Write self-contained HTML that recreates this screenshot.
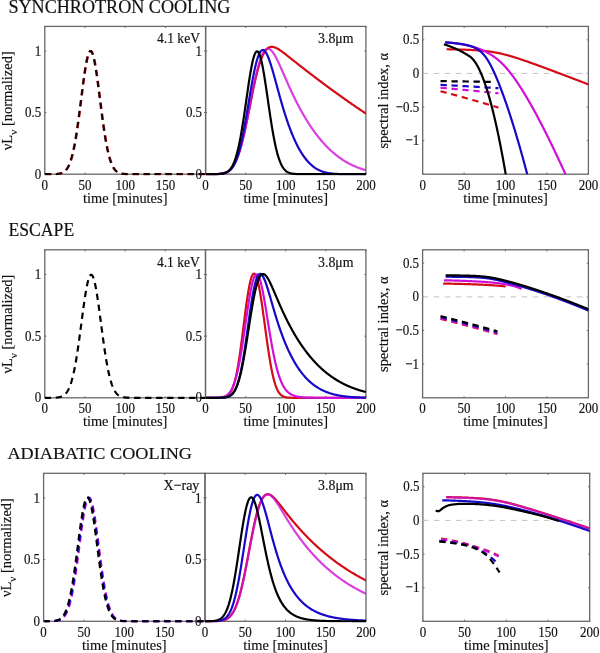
<!DOCTYPE html>
<html><head><meta charset="utf-8"><style>
html,body{margin:0;padding:0;background:#fff;}
svg{display:block;will-change:transform;}
text{font-family:"Liberation Serif", serif;fill:#111;stroke:#111;stroke-width:0.15px;}
</style></head><body>
<svg width="600" height="653" viewBox="0 0 600 653" font-family='"Liberation Serif", serif'>
<rect width="600" height="653" fill="#fff"/>
<text transform="matrix(1.0 0 0 1.11 8.40 12.70)" font-size="16.8" text-anchor="start" textLength="222" lengthAdjust="spacingAndGlyphs">SYNCHROTRON COOLING</text>
<text transform="matrix(1.0 0 0 1.11 8.40 235.80)" font-size="16.8" text-anchor="start" textLength="65.8" lengthAdjust="spacingAndGlyphs">ESCAPE</text>
<text transform="matrix(1.0 0 0 1.05 7.40 459.00)" font-size="16.8" text-anchor="start" textLength="184.6" lengthAdjust="spacingAndGlyphs">ADIABATIC COOLING</text>
<rect x="44.80" y="26.40" width="160.80" height="147.80" fill="none" stroke="#686868" stroke-width="1.3"/>
<rect x="205.60" y="26.40" width="160.30" height="147.80" fill="none" stroke="#686868" stroke-width="1.3"/>
<rect x="422.70" y="26.40" width="165.70" height="147.80" fill="none" stroke="#686868" stroke-width="1.3"/>
<path d="M44.80,174.20 h1.6 M205.60,174.20 h-1.6" stroke="#686868" stroke-width="1"/>
<path d="M44.80,112.62 h1.6 M205.60,112.62 h-1.6" stroke="#686868" stroke-width="1"/>
<path d="M44.80,51.03 h1.6 M205.60,51.03 h-1.6" stroke="#686868" stroke-width="1"/>
<path d="M44.80,26.40 v1.6 M44.80,174.20 v-1.6" stroke="#686868" stroke-width="1"/>
<path d="M85.00,26.40 v1.6 M85.00,174.20 v-1.6" stroke="#686868" stroke-width="1"/>
<path d="M125.20,26.40 v1.6 M125.20,174.20 v-1.6" stroke="#686868" stroke-width="1"/>
<path d="M165.40,26.40 v1.6 M165.40,174.20 v-1.6" stroke="#686868" stroke-width="1"/>
<path d="M205.60,26.40 v1.6 M205.60,174.20 v-1.6" stroke="#686868" stroke-width="1"/>
<text transform="matrix(1.0 0 0 1.17 41.30 178.80)" font-size="13" text-anchor="end" >0</text>
<text transform="matrix(1.0 0 0 1.17 41.30 117.22)" font-size="13" text-anchor="end" >0.5</text>
<text transform="matrix(1.0 0 0 1.17 41.30 55.63)" font-size="13" text-anchor="end" >1</text>
<text transform="matrix(1.0 0 0 1.17 44.80 189.60)" font-size="13" text-anchor="middle" >0</text>
<text transform="matrix(1.0 0 0 1.17 85.00 189.60)" font-size="13" text-anchor="middle" >50</text>
<text transform="matrix(1.0 0 0 1.17 125.20 189.60)" font-size="13" text-anchor="middle" >100</text>
<text transform="matrix(1.0 0 0 1.17 165.40 189.60)" font-size="13" text-anchor="middle" >150</text>
<text x="82.95" y="202.60" font-size="15.2" text-anchor="start" textLength="84.5" lengthAdjust="spacingAndGlyphs">time [minutes]</text>
<clipPath id="c10"><rect x="44.8" y="26.4" width="160.8" height="149.1"/></clipPath>
<g clip-path="url(#c10)">
<path d="M45.20,174.20 L45.60,174.20 L46.01,174.20 L46.41,174.20 L46.81,174.20 L47.21,174.20 L47.61,174.20 L48.02,174.20 L48.42,174.19 L48.82,174.19 L49.22,174.19 L49.62,174.19 L50.03,174.19 L50.43,174.19 L50.83,174.18 L51.23,174.18 L51.63,174.18 L52.04,174.17 L52.44,174.17 L52.84,174.16 L53.24,174.15 L53.64,174.15 L54.05,174.14 L54.45,174.13 L54.85,174.11 L55.25,174.10 L55.65,174.08 L56.06,174.06 L56.46,174.04 L56.86,174.01 L57.26,173.98 L57.66,173.94 L58.07,173.90 L58.47,173.85 L58.87,173.80 L59.27,173.73 L59.67,173.66 L60.08,173.58 L60.48,173.49 L60.88,173.39 L61.28,173.27 L61.68,173.14 L62.09,172.99 L62.49,172.83 L62.89,172.64 L63.29,172.44 L63.69,172.20 L64.10,171.95 L64.50,171.66 L64.90,171.34 L65.30,170.99 L65.70,170.61 L66.11,170.18 L66.51,169.71 L66.91,169.19 L67.31,168.63 L67.71,168.01 L68.12,167.34 L68.52,166.61 L68.92,165.81 L69.32,164.95 L69.72,164.02 L70.13,163.01 L70.53,161.93 L70.93,160.77 L71.33,159.52 L71.73,158.19 L72.14,156.77 L72.54,155.26 L72.94,153.65 L73.34,151.94 L73.74,150.14 L74.15,148.24 L74.55,146.24 L74.95,144.14 L75.35,141.94 L75.75,139.65 L76.16,137.25 L76.56,134.77 L76.96,132.19 L77.36,129.52 L77.76,126.77 L78.17,123.94 L78.57,121.04 L78.97,118.08 L79.37,115.05 L79.77,111.98 L80.18,108.87 L80.58,105.72 L80.98,102.55 L81.38,99.37 L81.78,96.19 L82.19,93.02 L82.59,89.88 L82.99,86.77 L83.39,83.72 L83.79,80.72 L84.20,77.81 L84.60,74.98 L85.00,72.25 L85.40,69.64 L85.80,67.15 L86.21,64.81 L86.61,62.61 L87.01,60.58 L87.41,58.72 L87.81,57.04 L88.22,55.55 L88.62,54.26 L89.02,53.18 L89.42,52.30 L89.82,51.65 L90.23,51.21 L90.63,50.99 L91.03,51.00 L91.43,51.23 L91.83,51.68 L92.24,52.35 L92.64,53.24 L93.04,54.34 L93.44,55.64 L93.84,57.14 L94.25,58.83 L94.65,60.71 L95.05,62.75 L95.45,64.96 L95.85,67.31 L96.26,69.81 L96.66,72.43 L97.06,75.16 L97.46,78.00 L97.86,80.92 L98.27,83.92 L98.67,86.98 L99.07,90.09 L99.47,93.23 L99.87,96.40 L100.28,99.58 L100.68,102.76 L101.08,105.93 L101.48,109.07 L101.88,112.19 L102.29,115.26 L102.69,118.28 L103.09,121.24 L103.49,124.14 L103.89,126.96 L104.30,129.70 L104.70,132.36 L105.10,134.94 L105.50,137.42 L105.90,139.80 L106.31,142.09 L106.71,144.29 L107.11,146.38 L107.51,148.37 L107.91,150.27 L108.32,152.06 L108.72,153.76 L109.12,155.36 L109.52,156.87 L109.92,158.28 L110.33,159.61 L110.73,160.85 L111.13,162.01 L111.53,163.08 L111.93,164.08 L112.34,165.01 L112.74,165.87 L113.14,166.66 L113.54,167.39 L113.94,168.06 L114.35,168.67 L114.75,169.23 L115.15,169.74 L115.55,170.21 L115.95,170.63 L116.36,171.02 L116.76,171.37 L117.16,171.68 L117.56,171.97 L117.96,172.22 L118.37,172.45 L118.77,172.66 L119.17,172.84 L119.57,173.00 L119.97,173.15 L120.38,173.28 L120.78,173.40 L121.18,173.50 L121.58,173.59 L121.98,173.67 L122.39,173.74 L122.79,173.80 L123.19,173.85 L123.59,173.90 L123.99,173.94 L124.40,173.98 L124.80,174.01 L125.20,174.04 L125.60,174.06 L126.00,174.08 L126.41,174.10 L126.81,174.11 L127.21,174.13 L127.61,174.14 L128.01,174.15 L128.42,174.16 L128.82,174.16 L129.22,174.17 L129.62,174.17 L130.02,174.18 L130.43,174.18 L130.83,174.18 L131.23,174.19 L131.63,174.19 L132.03,174.19 L132.44,174.19 L132.84,174.19 L133.24,174.19 L133.64,174.20 L134.04,174.20 L134.45,174.20 L134.85,174.20 L135.25,174.20 L135.65,174.20 L136.05,174.20 L136.46,174.20 L136.86,174.20 L137.26,174.20 L137.66,174.20 L138.06,174.20 L138.47,174.20 L138.87,174.20 L139.27,174.20 L139.67,174.20 L140.07,174.20 L140.48,174.20 L140.88,174.20 L141.28,174.20 L141.68,174.20 L142.08,174.20 L142.49,174.20 L142.89,174.20 L143.29,174.20 L143.69,174.20 L144.09,174.20 L144.50,174.20 L144.90,174.20 L145.30,174.20 L145.70,174.20 L146.10,174.20 L146.51,174.20 L146.91,174.20 L147.31,174.20 L147.71,174.20 L148.11,174.20 L148.52,174.20 L148.92,174.20 L149.32,174.20 L149.72,174.20 L150.12,174.20 L150.53,174.20 L150.93,174.20 L151.33,174.20 L151.73,174.20 L152.13,174.20 L152.54,174.20 L152.94,174.20 L153.34,174.20 L153.74,174.20 L154.14,174.20 L154.55,174.20 L154.95,174.20 L155.35,174.20 L155.75,174.20 L156.15,174.20 L156.56,174.20 L156.96,174.20 L157.36,174.20 L157.76,174.20 L158.16,174.20 L158.57,174.20 L158.97,174.20 L159.37,174.20 L159.77,174.20 L160.17,174.20 L160.58,174.20 L160.98,174.20 L161.38,174.20 L161.78,174.20 L162.18,174.20 L162.59,174.20 L162.99,174.20 L163.39,174.20 L163.79,174.20 L164.19,174.20 L164.60,174.20 L165.00,174.20 L165.40,174.20 L165.80,174.20 L166.20,174.20 L166.61,174.20 L167.01,174.20 L167.41,174.20 L167.81,174.20 L168.21,174.20 L168.62,174.20 L169.02,174.20 L169.42,174.20 L169.82,174.20 L170.22,174.20 L170.63,174.20 L171.03,174.20 L171.43,174.20 L171.83,174.20 L172.23,174.20 L172.64,174.20 L173.04,174.20 L173.44,174.20 L173.84,174.20 L174.24,174.20 L174.65,174.20 L175.05,174.20 L175.45,174.20 L175.85,174.20 L176.25,174.20 L176.66,174.20 L177.06,174.20 L177.46,174.20 L177.86,174.20 L178.26,174.20 L178.67,174.20 L179.07,174.20 L179.47,174.20 L179.87,174.20 L180.27,174.20 L180.68,174.20 L181.08,174.20 L181.48,174.20 L181.88,174.20 L182.28,174.20 L182.69,174.20 L183.09,174.20 L183.49,174.20 L183.89,174.20 L184.29,174.20 L184.70,174.20 L185.10,174.20 L185.50,174.20 L185.90,174.20 L186.30,174.20 L186.71,174.20 L187.11,174.20 L187.51,174.20 L187.91,174.20 L188.31,174.20 L188.72,174.20 L189.12,174.20 L189.52,174.20 L189.92,174.20 L190.32,174.20 L190.73,174.20 L191.13,174.20 L191.53,174.20 L191.93,174.20 L192.33,174.20 L192.74,174.20 L193.14,174.20 L193.54,174.20 L193.94,174.20 L194.34,174.20 L194.75,174.20 L195.15,174.20 L195.55,174.20 L195.95,174.20 L196.35,174.20 L196.76,174.20 L197.16,174.20 L197.56,174.20 L197.96,174.20 L198.36,174.20 L198.77,174.20 L199.17,174.20 L199.57,174.20 L199.97,174.20 L200.37,174.20 L200.78,174.20 L201.18,174.20 L201.58,174.20 L201.98,174.20 L202.38,174.20 L202.79,174.20 L203.19,174.20 L203.59,174.20 L203.99,174.20 L204.39,174.20 L204.80,174.20 L205.20,174.20 L205.60,174.20 L206.00,174.20" fill="none" stroke="#d40c16" stroke-width="2.2" stroke-dasharray="6.3,4.7" stroke-linejoin="round" stroke-dashoffset="0"/>
<path d="M44.80,174.20 L45.20,174.20 L45.60,174.20 L46.01,174.20 L46.41,174.20 L46.81,174.20 L47.21,174.20 L47.61,174.20 L48.02,174.19 L48.42,174.19 L48.82,174.19 L49.22,174.19 L49.62,174.19 L50.03,174.19 L50.43,174.18 L50.83,174.18 L51.23,174.18 L51.63,174.17 L52.04,174.17 L52.44,174.16 L52.84,174.15 L53.24,174.15 L53.64,174.14 L54.05,174.13 L54.45,174.11 L54.85,174.10 L55.25,174.08 L55.65,174.06 L56.06,174.04 L56.46,174.01 L56.86,173.98 L57.26,173.94 L57.66,173.90 L58.07,173.85 L58.47,173.80 L58.87,173.73 L59.27,173.66 L59.67,173.58 L60.08,173.49 L60.48,173.39 L60.88,173.27 L61.28,173.14 L61.68,172.99 L62.09,172.83 L62.49,172.64 L62.89,172.44 L63.29,172.20 L63.69,171.95 L64.10,171.66 L64.50,171.34 L64.90,170.99 L65.30,170.61 L65.70,170.18 L66.11,169.71 L66.51,169.19 L66.91,168.63 L67.31,168.01 L67.71,167.34 L68.12,166.61 L68.52,165.81 L68.92,164.95 L69.32,164.02 L69.72,163.01 L70.13,161.93 L70.53,160.77 L70.93,159.52 L71.33,158.19 L71.73,156.77 L72.14,155.26 L72.54,153.65 L72.94,151.94 L73.34,150.14 L73.74,148.24 L74.15,146.24 L74.55,144.14 L74.95,141.94 L75.35,139.65 L75.75,137.25 L76.16,134.77 L76.56,132.19 L76.96,129.52 L77.36,126.77 L77.76,123.94 L78.17,121.04 L78.57,118.08 L78.97,115.05 L79.37,111.98 L79.77,108.87 L80.18,105.72 L80.58,102.55 L80.98,99.37 L81.38,96.19 L81.78,93.02 L82.19,89.88 L82.59,86.77 L82.99,83.72 L83.39,80.72 L83.79,77.81 L84.20,74.98 L84.60,72.25 L85.00,69.64 L85.40,67.15 L85.80,64.81 L86.21,62.61 L86.61,60.58 L87.01,58.72 L87.41,57.04 L87.81,55.55 L88.22,54.26 L88.62,53.18 L89.02,52.30 L89.42,51.65 L89.82,51.21 L90.23,50.99 L90.63,51.00 L91.03,51.23 L91.43,51.68 L91.83,52.35 L92.24,53.24 L92.64,54.34 L93.04,55.64 L93.44,57.14 L93.84,58.83 L94.25,60.71 L94.65,62.75 L95.05,64.96 L95.45,67.31 L95.85,69.81 L96.26,72.43 L96.66,75.16 L97.06,78.00 L97.46,80.92 L97.86,83.92 L98.27,86.98 L98.67,90.09 L99.07,93.23 L99.47,96.40 L99.87,99.58 L100.28,102.76 L100.68,105.93 L101.08,109.07 L101.48,112.19 L101.88,115.26 L102.29,118.28 L102.69,121.24 L103.09,124.14 L103.49,126.96 L103.89,129.70 L104.30,132.36 L104.70,134.94 L105.10,137.42 L105.50,139.80 L105.90,142.09 L106.31,144.29 L106.71,146.38 L107.11,148.37 L107.51,150.27 L107.91,152.06 L108.32,153.76 L108.72,155.36 L109.12,156.87 L109.52,158.28 L109.92,159.61 L110.33,160.85 L110.73,162.01 L111.13,163.08 L111.53,164.08 L111.93,165.01 L112.34,165.87 L112.74,166.66 L113.14,167.39 L113.54,168.06 L113.94,168.67 L114.35,169.23 L114.75,169.74 L115.15,170.21 L115.55,170.63 L115.95,171.02 L116.36,171.37 L116.76,171.68 L117.16,171.97 L117.56,172.22 L117.96,172.45 L118.37,172.66 L118.77,172.84 L119.17,173.00 L119.57,173.15 L119.97,173.28 L120.38,173.40 L120.78,173.50 L121.18,173.59 L121.58,173.67 L121.98,173.74 L122.39,173.80 L122.79,173.85 L123.19,173.90 L123.59,173.94 L123.99,173.98 L124.40,174.01 L124.80,174.04 L125.20,174.06 L125.60,174.08 L126.00,174.10 L126.41,174.11 L126.81,174.13 L127.21,174.14 L127.61,174.15 L128.01,174.16 L128.42,174.16 L128.82,174.17 L129.22,174.17 L129.62,174.18 L130.02,174.18 L130.43,174.18 L130.83,174.19 L131.23,174.19 L131.63,174.19 L132.03,174.19 L132.44,174.19 L132.84,174.19 L133.24,174.20 L133.64,174.20 L134.04,174.20 L134.45,174.20 L134.85,174.20 L135.25,174.20 L135.65,174.20 L136.05,174.20 L136.46,174.20 L136.86,174.20 L137.26,174.20 L137.66,174.20 L138.06,174.20 L138.47,174.20 L138.87,174.20 L139.27,174.20 L139.67,174.20 L140.07,174.20 L140.48,174.20 L140.88,174.20 L141.28,174.20 L141.68,174.20 L142.08,174.20 L142.49,174.20 L142.89,174.20 L143.29,174.20 L143.69,174.20 L144.09,174.20 L144.50,174.20 L144.90,174.20 L145.30,174.20 L145.70,174.20 L146.10,174.20 L146.51,174.20 L146.91,174.20 L147.31,174.20 L147.71,174.20 L148.11,174.20 L148.52,174.20 L148.92,174.20 L149.32,174.20 L149.72,174.20 L150.12,174.20 L150.53,174.20 L150.93,174.20 L151.33,174.20 L151.73,174.20 L152.13,174.20 L152.54,174.20 L152.94,174.20 L153.34,174.20 L153.74,174.20 L154.14,174.20 L154.55,174.20 L154.95,174.20 L155.35,174.20 L155.75,174.20 L156.15,174.20 L156.56,174.20 L156.96,174.20 L157.36,174.20 L157.76,174.20 L158.16,174.20 L158.57,174.20 L158.97,174.20 L159.37,174.20 L159.77,174.20 L160.17,174.20 L160.58,174.20 L160.98,174.20 L161.38,174.20 L161.78,174.20 L162.18,174.20 L162.59,174.20 L162.99,174.20 L163.39,174.20 L163.79,174.20 L164.19,174.20 L164.60,174.20 L165.00,174.20 L165.40,174.20 L165.80,174.20 L166.20,174.20 L166.61,174.20 L167.01,174.20 L167.41,174.20 L167.81,174.20 L168.21,174.20 L168.62,174.20 L169.02,174.20 L169.42,174.20 L169.82,174.20 L170.22,174.20 L170.63,174.20 L171.03,174.20 L171.43,174.20 L171.83,174.20 L172.23,174.20 L172.64,174.20 L173.04,174.20 L173.44,174.20 L173.84,174.20 L174.24,174.20 L174.65,174.20 L175.05,174.20 L175.45,174.20 L175.85,174.20 L176.25,174.20 L176.66,174.20 L177.06,174.20 L177.46,174.20 L177.86,174.20 L178.26,174.20 L178.67,174.20 L179.07,174.20 L179.47,174.20 L179.87,174.20 L180.27,174.20 L180.68,174.20 L181.08,174.20 L181.48,174.20 L181.88,174.20 L182.28,174.20 L182.69,174.20 L183.09,174.20 L183.49,174.20 L183.89,174.20 L184.29,174.20 L184.70,174.20 L185.10,174.20 L185.50,174.20 L185.90,174.20 L186.30,174.20 L186.71,174.20 L187.11,174.20 L187.51,174.20 L187.91,174.20 L188.31,174.20 L188.72,174.20 L189.12,174.20 L189.52,174.20 L189.92,174.20 L190.32,174.20 L190.73,174.20 L191.13,174.20 L191.53,174.20 L191.93,174.20 L192.33,174.20 L192.74,174.20 L193.14,174.20 L193.54,174.20 L193.94,174.20 L194.34,174.20 L194.75,174.20 L195.15,174.20 L195.55,174.20 L195.95,174.20 L196.35,174.20 L196.76,174.20 L197.16,174.20 L197.56,174.20 L197.96,174.20 L198.36,174.20 L198.77,174.20 L199.17,174.20 L199.57,174.20 L199.97,174.20 L200.37,174.20 L200.78,174.20 L201.18,174.20 L201.58,174.20 L201.98,174.20 L202.38,174.20 L202.79,174.20 L203.19,174.20 L203.59,174.20 L203.99,174.20 L204.39,174.20 L204.80,174.20 L205.20,174.20 L205.60,174.20" fill="none" stroke="#000000" stroke-width="2.2" stroke-dasharray="6.3,4.7" stroke-linejoin="round" stroke-dashoffset="0" stroke-opacity="0.85"/>
</g>
<path d="M205.60,174.20 h1.6 M365.90,174.20 h-1.6" stroke="#686868" stroke-width="1"/>
<path d="M205.60,112.62 h1.6 M365.90,112.62 h-1.6" stroke="#686868" stroke-width="1"/>
<path d="M205.60,51.03 h1.6 M365.90,51.03 h-1.6" stroke="#686868" stroke-width="1"/>
<path d="M205.60,26.40 v1.6 M205.60,174.20 v-1.6" stroke="#686868" stroke-width="1"/>
<path d="M245.67,26.40 v1.6 M245.67,174.20 v-1.6" stroke="#686868" stroke-width="1"/>
<path d="M285.75,26.40 v1.6 M285.75,174.20 v-1.6" stroke="#686868" stroke-width="1"/>
<path d="M325.82,26.40 v1.6 M325.82,174.20 v-1.6" stroke="#686868" stroke-width="1"/>
<path d="M365.90,26.40 v1.6 M365.90,174.20 v-1.6" stroke="#686868" stroke-width="1"/>
<text transform="matrix(1.0 0 0 1.17 202.10 178.80)" font-size="13" text-anchor="end" >0</text>
<text transform="matrix(1.0 0 0 1.17 202.10 117.22)" font-size="13" text-anchor="end" >0.5</text>
<text transform="matrix(1.0 0 0 1.17 202.10 55.63)" font-size="13" text-anchor="end" >1</text>
<text transform="matrix(1.0 0 0 1.17 205.60 189.60)" font-size="13" text-anchor="middle" >0</text>
<text transform="matrix(1.0 0 0 1.17 245.67 189.60)" font-size="13" text-anchor="middle" >50</text>
<text transform="matrix(1.0 0 0 1.17 285.75 189.60)" font-size="13" text-anchor="middle" >100</text>
<text transform="matrix(1.0 0 0 1.17 325.82 189.60)" font-size="13" text-anchor="middle" >150</text>
<text transform="matrix(1.0 0 0 1.17 365.90 189.60)" font-size="13" text-anchor="middle" >200</text>
<text x="243.50" y="202.60" font-size="15.2" text-anchor="start" textLength="84.5" lengthAdjust="spacingAndGlyphs">time [minutes]</text>
<clipPath id="c20"><rect x="205.6" y="26.4" width="160.29999999999998" height="149.1"/></clipPath>
<g clip-path="url(#c20)">
<path d="M205.60,174.20 L206.00,174.20 L206.40,174.20 L206.80,174.20 L207.20,174.19 L207.60,174.19 L208.00,174.19 L208.41,174.19 L208.81,174.19 L209.21,174.19 L209.61,174.19 L210.01,174.18 L210.41,174.18 L210.81,174.18 L211.21,174.18 L211.61,174.17 L212.01,174.17 L212.41,174.16 L212.81,174.16 L213.21,174.15 L213.61,174.14 L214.02,174.14 L214.42,174.13 L214.82,174.12 L215.22,174.11 L215.62,174.09 L216.02,174.08 L216.42,174.06 L216.82,174.04 L217.22,174.02 L217.62,174.00 L218.02,173.98 L218.42,173.95 L218.82,173.92 L219.23,173.88 L219.63,173.84 L220.03,173.80 L220.43,173.75 L220.83,173.70 L221.23,173.64 L221.63,173.58 L222.03,173.51 L222.43,173.43 L222.83,173.35 L223.23,173.25 L223.63,173.15 L224.03,173.04 L224.44,172.92 L224.84,172.79 L225.24,172.64 L225.64,172.49 L226.04,172.32 L226.44,172.13 L226.84,171.93 L227.24,171.71 L227.64,171.48 L228.04,171.23 L228.44,170.95 L228.84,170.66 L229.24,170.35 L229.64,170.01 L230.05,169.65 L230.45,169.26 L230.85,168.84 L231.25,168.40 L231.65,167.93 L232.05,167.43 L232.45,166.90 L232.85,166.33 L233.25,165.73 L233.65,165.10 L234.05,164.43 L234.45,163.72 L234.85,162.97 L235.26,162.18 L235.66,161.36 L236.06,160.49 L236.46,159.58 L236.86,158.62 L237.26,157.62 L237.66,156.58 L238.06,155.50 L238.46,154.37 L238.86,153.19 L239.26,151.97 L239.66,150.70 L240.06,149.38 L240.47,148.03 L240.87,146.62 L241.27,145.18 L241.67,143.68 L242.07,142.15 L242.47,140.57 L242.87,138.96 L243.27,137.30 L243.67,135.61 L244.07,133.88 L244.47,132.11 L244.87,130.31 L245.27,128.48 L245.67,126.62 L246.08,124.74 L246.48,122.83 L246.88,120.89 L247.28,118.94 L247.68,116.97 L248.08,114.98 L248.48,112.99 L248.88,110.98 L249.28,108.97 L249.68,106.96 L250.08,104.94 L250.48,102.93 L250.88,100.92 L251.29,98.92 L251.69,96.93 L252.09,94.96 L252.49,93.00 L252.89,91.07 L253.29,89.15 L253.69,87.26 L254.09,85.40 L254.49,83.57 L254.89,81.77 L255.29,80.00 L255.69,78.28 L256.09,76.59 L256.50,74.94 L256.90,73.33 L257.30,71.77 L257.70,70.25 L258.10,68.78 L258.50,67.36 L258.90,65.98 L259.30,64.66 L259.70,63.38 L260.10,62.16 L260.50,60.98 L260.90,59.86 L261.30,58.79 L261.70,57.77 L262.11,56.80 L262.51,55.89 L262.91,55.02 L263.31,54.20 L263.71,53.44 L264.11,52.72 L264.51,52.05 L264.91,51.42 L265.31,50.84 L265.71,50.31 L266.11,49.82 L266.51,49.37 L266.91,48.97 L267.32,48.60 L267.72,48.27 L268.12,47.98 L268.52,47.73 L268.92,47.51 L269.32,47.32 L269.72,47.17 L270.12,47.04 L270.52,46.95 L270.92,46.88 L271.32,46.84 L271.72,46.83 L272.12,46.83 L272.53,46.86 L272.93,46.92 L273.33,46.99 L273.73,47.08 L274.13,47.19 L274.53,47.32 L274.93,47.46 L275.33,47.61 L275.73,47.78 L276.13,47.97 L276.53,48.16 L276.93,48.37 L277.33,48.58 L277.74,48.81 L278.14,49.04 L278.54,49.28 L278.94,49.53 L279.34,49.79 L279.74,50.05 L280.14,50.32 L280.54,50.59 L280.94,50.87 L281.34,51.16 L281.74,51.44 L282.14,51.73 L282.54,52.03 L282.94,52.32 L283.35,52.62 L283.75,52.93 L284.15,53.23 L284.55,53.54 L284.95,53.84 L285.35,54.15 L285.75,54.46 L286.15,54.78 L286.55,55.09 L286.95,55.40 L287.35,55.72 L287.75,56.03 L288.15,56.35 L288.56,56.66 L288.96,56.98 L289.36,57.30 L289.76,57.61 L290.16,57.93 L290.56,58.25 L290.96,58.57 L291.36,58.88 L291.76,59.20 L292.16,59.52 L292.56,59.84 L292.96,60.15 L293.36,60.47 L293.76,60.79 L294.17,61.10 L294.57,61.42 L294.97,61.74 L295.37,62.06 L295.77,62.37 L296.17,62.69 L296.57,63.00 L296.97,63.32 L297.37,63.64 L297.77,63.95 L298.17,64.27 L298.57,64.58 L298.97,64.90 L299.38,65.21 L299.78,65.52 L300.18,65.84 L300.58,66.15 L300.98,66.47 L301.38,66.78 L301.78,67.09 L302.18,67.40 L302.58,67.72 L302.98,68.03 L303.38,68.34 L303.78,68.65 L304.18,68.96 L304.59,69.28 L304.99,69.59 L305.39,69.90 L305.79,70.21 L306.19,70.52 L306.59,70.83 L306.99,71.14 L307.39,71.45 L307.79,71.76 L308.19,72.06 L308.59,72.37 L308.99,72.68 L309.39,72.99 L309.79,73.30 L310.20,73.60 L310.60,73.91 L311.00,74.22 L311.40,74.52 L311.80,74.83 L312.20,75.14 L312.60,75.44 L313.00,75.75 L313.40,76.05 L313.80,76.36 L314.20,76.66 L314.60,76.97 L315.00,77.27 L315.41,77.58 L315.81,77.88 L316.21,78.18 L316.61,78.49 L317.01,78.79 L317.41,79.09 L317.81,79.39 L318.21,79.70 L318.61,80.00 L319.01,80.30 L319.41,80.60 L319.81,80.90 L320.21,81.20 L320.62,81.50 L321.02,81.80 L321.42,82.10 L321.82,82.40 L322.22,82.70 L322.62,83.00 L323.02,83.30 L323.42,83.60 L323.82,83.90 L324.22,84.19 L324.62,84.49 L325.02,84.79 L325.42,85.09 L325.82,85.38 L326.23,85.68 L326.63,85.97 L327.03,86.27 L327.43,86.57 L327.83,86.86 L328.23,87.16 L328.63,87.45 L329.03,87.75 L329.43,88.04 L329.83,88.33 L330.23,88.63 L330.63,88.92 L331.03,89.21 L331.44,89.51 L331.84,89.80 L332.24,90.09 L332.64,90.38 L333.04,90.67 L333.44,90.97 L333.84,91.26 L334.24,91.55 L334.64,91.84 L335.04,92.13 L335.44,92.42 L335.84,92.71 L336.24,93.00 L336.65,93.29 L337.05,93.57 L337.45,93.86 L337.85,94.15 L338.25,94.44 L338.65,94.73 L339.05,95.01 L339.45,95.30 L339.85,95.59 L340.25,95.87 L340.65,96.16 L341.05,96.44 L341.45,96.73 L341.86,97.02 L342.26,97.30 L342.66,97.58 L343.06,97.87 L343.46,98.15 L343.86,98.44 L344.26,98.72 L344.66,99.00 L345.06,99.28 L345.46,99.57 L345.86,99.85 L346.26,100.13 L346.66,100.41 L347.06,100.69 L347.47,100.97 L347.87,101.25 L348.27,101.54 L348.67,101.81 L349.07,102.09 L349.47,102.37 L349.87,102.65 L350.27,102.93 L350.67,103.21 L351.07,103.49 L351.47,103.77 L351.87,104.04 L352.27,104.32 L352.68,104.60 L353.08,104.87 L353.48,105.15 L353.88,105.43 L354.28,105.70 L354.68,105.98 L355.08,106.25 L355.48,106.53 L355.88,106.80 L356.28,107.07 L356.68,107.35 L357.08,107.62 L357.48,107.89 L357.88,108.17 L358.29,108.44 L358.69,108.71 L359.09,108.98 L359.49,109.25 L359.89,109.52 L360.29,109.80 L360.69,110.07 L361.09,110.34 L361.49,110.61 L361.89,110.87 L362.29,111.14 L362.69,111.41 L363.09,111.68 L363.50,111.95 L363.90,112.22 L364.30,112.48 L364.70,112.75 L365.10,113.02 L365.50,113.28 L365.90,113.55" fill="none" stroke="#d40c16" stroke-width="2.2" stroke-linejoin="round" />
<path d="M205.60,174.20 L206.00,174.20 L206.40,174.19 L206.80,174.19 L207.20,174.19 L207.60,174.19 L208.00,174.19 L208.41,174.19 L208.81,174.19 L209.21,174.18 L209.61,174.18 L210.01,174.18 L210.41,174.18 L210.81,174.17 L211.21,174.17 L211.61,174.17 L212.01,174.16 L212.41,174.15 L212.81,174.15 L213.21,174.14 L213.61,174.13 L214.02,174.12 L214.42,174.11 L214.82,174.10 L215.22,174.09 L215.62,174.08 L216.02,174.06 L216.42,174.04 L216.82,174.02 L217.22,174.00 L217.62,173.98 L218.02,173.95 L218.42,173.92 L218.82,173.89 L219.23,173.85 L219.63,173.81 L220.03,173.77 L220.43,173.72 L220.83,173.66 L221.23,173.60 L221.63,173.54 L222.03,173.47 L222.43,173.39 L222.83,173.30 L223.23,173.21 L223.63,173.10 L224.03,172.99 L224.44,172.87 L224.84,172.74 L225.24,172.59 L225.64,172.44 L226.04,172.27 L226.44,172.08 L226.84,171.88 L227.24,171.67 L227.64,171.44 L228.04,171.19 L228.44,170.92 L228.84,170.63 L229.24,170.32 L229.64,169.99 L230.05,169.63 L230.45,169.25 L230.85,168.85 L231.25,168.41 L231.65,167.95 L232.05,167.46 L232.45,166.94 L232.85,166.39 L233.25,165.80 L233.65,165.18 L234.05,164.53 L234.45,163.84 L234.85,163.11 L235.26,162.34 L235.66,161.53 L236.06,160.68 L236.46,159.79 L236.86,158.86 L237.26,157.88 L237.66,156.86 L238.06,155.79 L238.46,154.68 L238.86,153.53 L239.26,152.32 L239.66,151.07 L240.06,149.78 L240.47,148.44 L240.87,147.05 L241.27,145.61 L241.67,144.14 L242.07,142.61 L242.47,141.04 L242.87,139.43 L243.27,137.77 L243.67,136.08 L244.07,134.34 L244.47,132.57 L244.87,130.75 L245.27,128.91 L245.67,127.03 L246.08,125.11 L246.48,123.17 L246.88,121.20 L247.28,119.21 L247.68,117.20 L248.08,115.16 L248.48,113.11 L248.88,111.05 L249.28,108.97 L249.68,106.89 L250.08,104.80 L250.48,102.71 L250.88,100.63 L251.29,98.54 L251.69,96.47 L252.09,94.40 L252.49,92.35 L252.89,90.32 L253.29,88.31 L253.69,86.33 L254.09,84.37 L254.49,82.44 L254.89,80.54 L255.29,78.68 L255.69,76.86 L256.09,75.08 L256.50,73.35 L256.90,71.66 L257.30,70.02 L257.70,68.43 L258.10,66.90 L258.50,65.42 L258.90,64.00 L259.30,62.64 L259.70,61.33 L260.10,60.09 L260.50,58.91 L260.90,57.80 L261.30,56.74 L261.70,55.76 L262.11,54.84 L262.51,53.98 L262.91,53.19 L263.31,52.46 L263.71,51.80 L264.11,51.21 L264.51,50.68 L264.91,50.21 L265.31,49.81 L265.71,49.47 L266.11,49.19 L266.51,48.97 L266.91,48.81 L267.32,48.70 L267.72,48.66 L268.12,48.67 L268.52,48.73 L268.92,48.84 L269.32,49.01 L269.72,49.22 L270.12,49.48 L270.52,49.78 L270.92,50.13 L271.32,50.52 L271.72,50.95 L272.12,51.41 L272.53,51.92 L272.93,52.45 L273.33,53.02 L273.73,53.62 L274.13,54.25 L274.53,54.91 L274.93,55.59 L275.33,56.30 L275.73,57.02 L276.13,57.77 L276.53,58.54 L276.93,59.33 L277.33,60.13 L277.74,60.95 L278.14,61.78 L278.54,62.63 L278.94,63.49 L279.34,64.35 L279.74,65.23 L280.14,66.11 L280.54,67.01 L280.94,67.90 L281.34,68.81 L281.74,69.71 L282.14,70.63 L282.54,71.54 L282.94,72.46 L283.35,73.37 L283.75,74.29 L284.15,75.21 L284.55,76.13 L284.95,77.05 L285.35,77.97 L285.75,78.88 L286.15,79.80 L286.55,80.71 L286.95,81.62 L287.35,82.52 L287.75,83.43 L288.15,84.32 L288.56,85.22 L288.96,86.11 L289.36,87.00 L289.76,87.88 L290.16,88.76 L290.56,89.63 L290.96,90.50 L291.36,91.36 L291.76,92.22 L292.16,93.07 L292.56,93.92 L292.96,94.76 L293.36,95.60 L293.76,96.43 L294.17,97.26 L294.57,98.08 L294.97,98.89 L295.37,99.70 L295.77,100.51 L296.17,101.30 L296.57,102.10 L296.97,102.88 L297.37,103.67 L297.77,104.44 L298.17,105.21 L298.57,105.97 L298.97,106.73 L299.38,107.49 L299.78,108.23 L300.18,108.97 L300.58,109.71 L300.98,110.44 L301.38,111.17 L301.78,111.88 L302.18,112.60 L302.58,113.31 L302.98,114.01 L303.38,114.71 L303.78,115.40 L304.18,116.08 L304.59,116.76 L304.99,117.44 L305.39,118.11 L305.79,118.77 L306.19,119.43 L306.59,120.08 L306.99,120.73 L307.39,121.37 L307.79,122.01 L308.19,122.64 L308.59,123.27 L308.99,123.89 L309.39,124.51 L309.79,125.12 L310.20,125.73 L310.60,126.33 L311.00,126.92 L311.40,127.52 L311.80,128.10 L312.20,128.68 L312.60,129.26 L313.00,129.83 L313.40,130.39 L313.80,130.96 L314.20,131.51 L314.60,132.06 L315.00,132.61 L315.41,133.15 L315.81,133.69 L316.21,134.22 L316.61,134.74 L317.01,135.27 L317.41,135.78 L317.81,136.30 L318.21,136.80 L318.61,137.31 L319.01,137.81 L319.41,138.30 L319.81,138.79 L320.21,139.27 L320.62,139.75 L321.02,140.23 L321.42,140.70 L321.82,141.17 L322.22,141.63 L322.62,142.09 L323.02,142.54 L323.42,142.99 L323.82,143.43 L324.22,143.87 L324.62,144.31 L325.02,144.74 L325.42,145.17 L325.82,145.59 L326.23,146.01 L326.63,146.42 L327.03,146.83 L327.43,147.24 L327.83,147.64 L328.23,148.04 L328.63,148.43 L329.03,148.82 L329.43,149.21 L329.83,149.59 L330.23,149.97 L330.63,150.34 L331.03,150.71 L331.44,151.07 L331.84,151.44 L332.24,151.79 L332.64,152.15 L333.04,152.50 L333.44,152.84 L333.84,153.19 L334.24,153.52 L334.64,153.86 L335.04,154.19 L335.44,154.52 L335.84,154.84 L336.24,155.16 L336.65,155.48 L337.05,155.79 L337.45,156.10 L337.85,156.40 L338.25,156.70 L338.65,157.00 L339.05,157.30 L339.45,157.59 L339.85,157.87 L340.25,158.16 L340.65,158.44 L341.05,158.72 L341.45,158.99 L341.86,159.26 L342.26,159.53 L342.66,159.79 L343.06,160.05 L343.46,160.31 L343.86,160.56 L344.26,160.81 L344.66,161.06 L345.06,161.31 L345.46,161.55 L345.86,161.78 L346.26,162.02 L346.66,162.25 L347.06,162.48 L347.47,162.70 L347.87,162.93 L348.27,163.15 L348.67,163.36 L349.07,163.58 L349.47,163.79 L349.87,163.99 L350.27,164.20 L350.67,164.40 L351.07,164.60 L351.47,164.80 L351.87,164.99 L352.27,165.18 L352.68,165.37 L353.08,165.55 L353.48,165.73 L353.88,165.91 L354.28,166.09 L354.68,166.27 L355.08,166.44 L355.48,166.61 L355.88,166.77 L356.28,166.94 L356.68,167.10 L357.08,167.26 L357.48,167.41 L357.88,167.57 L358.29,167.72 L358.69,167.87 L359.09,168.01 L359.49,168.16 L359.89,168.30 L360.29,168.44 L360.69,168.57 L361.09,168.71 L361.49,168.84 L361.89,168.97 L362.29,169.10 L362.69,169.22 L363.09,169.35 L363.50,169.47 L363.90,169.59 L364.30,169.70 L364.70,169.82 L365.10,169.93 L365.50,170.04 L365.90,170.15" fill="none" stroke="#d010d8" stroke-width="2.2" stroke-linejoin="round" stroke-opacity="0.8"/>
<path d="M205.60,174.20 L206.00,174.20 L206.40,174.20 L206.80,174.20 L207.20,174.20 L207.60,174.20 L208.00,174.20 L208.41,174.20 L208.81,174.20 L209.21,174.20 L209.61,174.19 L210.01,174.19 L210.41,174.19 L210.81,174.19 L211.21,174.19 L211.61,174.19 L212.01,174.19 L212.41,174.18 L212.81,174.18 L213.21,174.18 L213.61,174.17 L214.02,174.17 L214.42,174.16 L214.82,174.16 L215.22,174.15 L215.62,174.14 L216.02,174.13 L216.42,174.12 L216.82,174.11 L217.22,174.10 L217.62,174.09 L218.02,174.07 L218.42,174.05 L218.82,174.03 L219.23,174.01 L219.63,173.98 L220.03,173.95 L220.43,173.91 L220.83,173.88 L221.23,173.83 L221.63,173.78 L222.03,173.73 L222.43,173.67 L222.83,173.61 L223.23,173.53 L223.63,173.45 L224.03,173.36 L224.44,173.26 L224.84,173.15 L225.24,173.02 L225.64,172.89 L226.04,172.74 L226.44,172.58 L226.84,172.40 L227.24,172.21 L227.64,171.99 L228.04,171.76 L228.44,171.51 L228.84,171.23 L229.24,170.93 L229.64,170.60 L230.05,170.25 L230.45,169.87 L230.85,169.46 L231.25,169.02 L231.65,168.54 L232.05,168.03 L232.45,167.48 L232.85,166.89 L233.25,166.26 L233.65,165.59 L234.05,164.87 L234.45,164.11 L234.85,163.30 L235.26,162.43 L235.66,161.52 L236.06,160.56 L236.46,159.54 L236.86,158.47 L237.26,157.34 L237.66,156.15 L238.06,154.90 L238.46,153.60 L238.86,152.23 L239.26,150.80 L239.66,149.32 L240.06,147.77 L240.47,146.16 L240.87,144.49 L241.27,142.77 L241.67,140.98 L242.07,139.14 L242.47,137.24 L242.87,135.28 L243.27,133.28 L243.67,131.22 L244.07,129.11 L244.47,126.96 L244.87,124.77 L245.27,122.54 L245.67,120.27 L246.08,117.97 L246.48,115.64 L246.88,113.28 L247.28,110.91 L247.68,108.52 L248.08,106.12 L248.48,103.71 L248.88,101.30 L249.28,98.90 L249.68,96.50 L250.08,94.11 L250.48,91.75 L250.88,89.40 L251.29,87.09 L251.69,84.81 L252.09,82.57 L252.49,80.37 L252.89,78.22 L253.29,76.12 L253.69,74.09 L254.09,72.11 L254.49,70.20 L254.89,68.36 L255.29,66.59 L255.69,64.90 L256.09,63.29 L256.50,61.77 L256.90,60.33 L257.30,58.98 L257.70,57.72 L258.10,56.56 L258.50,55.49 L258.90,54.51 L259.30,53.63 L259.70,52.85 L260.10,52.16 L260.50,51.57 L260.90,51.08 L261.30,50.68 L261.70,50.38 L262.11,50.17 L262.51,50.06 L262.91,50.04 L263.31,50.11 L263.71,50.26 L264.11,50.50 L264.51,50.83 L264.91,51.23 L265.31,51.71 L265.71,52.27 L266.11,52.90 L266.51,53.60 L266.91,54.36 L267.32,55.19 L267.72,56.08 L268.12,57.02 L268.52,58.02 L268.92,59.07 L269.32,60.16 L269.72,61.30 L270.12,62.48 L270.52,63.70 L270.92,64.95 L271.32,66.24 L271.72,67.55 L272.12,68.90 L272.53,70.26 L272.93,71.65 L273.33,73.05 L273.73,74.47 L274.13,75.90 L274.53,77.35 L274.93,78.80 L275.33,80.27 L275.73,81.73 L276.13,83.21 L276.53,84.68 L276.93,86.15 L277.33,87.63 L277.74,89.10 L278.14,90.56 L278.54,92.03 L278.94,93.48 L279.34,94.93 L279.74,96.37 L280.14,97.80 L280.54,99.22 L280.94,100.63 L281.34,102.03 L281.74,103.41 L282.14,104.79 L282.54,106.15 L282.94,107.49 L283.35,108.83 L283.75,110.15 L284.15,111.45 L284.55,112.74 L284.95,114.01 L285.35,115.27 L285.75,116.51 L286.15,117.74 L286.55,118.95 L286.95,120.15 L287.35,121.33 L287.75,122.49 L288.15,123.64 L288.56,124.77 L288.96,125.88 L289.36,126.98 L289.76,128.06 L290.16,129.13 L290.56,130.18 L290.96,131.21 L291.36,132.23 L291.76,133.23 L292.16,134.22 L292.56,135.19 L292.96,136.14 L293.36,137.08 L293.76,138.00 L294.17,138.91 L294.57,139.80 L294.97,140.68 L295.37,141.54 L295.77,142.39 L296.17,143.22 L296.57,144.04 L296.97,144.84 L297.37,145.63 L297.77,146.41 L298.17,147.16 L298.57,147.91 L298.97,148.64 L299.38,149.36 L299.78,150.06 L300.18,150.75 L300.58,151.43 L300.98,152.09 L301.38,152.74 L301.78,153.37 L302.18,154.00 L302.58,154.61 L302.98,155.20 L303.38,155.79 L303.78,156.36 L304.18,156.92 L304.59,157.47 L304.99,158.00 L305.39,158.53 L305.79,159.04 L306.19,159.54 L306.59,160.02 L306.99,160.50 L307.39,160.96 L307.79,161.42 L308.19,161.86 L308.59,162.29 L308.99,162.71 L309.39,163.12 L309.79,163.52 L310.20,163.91 L310.60,164.29 L311.00,164.66 L311.40,165.01 L311.80,165.36 L312.20,165.70 L312.60,166.03 L313.00,166.35 L313.40,166.66 L313.80,166.96 L314.20,167.26 L314.60,167.54 L315.00,167.82 L315.41,168.08 L315.81,168.34 L316.21,168.59 L316.61,168.83 L317.01,169.07 L317.41,169.30 L317.81,169.51 L318.21,169.73 L318.61,169.93 L319.01,170.13 L319.41,170.32 L319.81,170.50 L320.21,170.68 L320.62,170.85 L321.02,171.01 L321.42,171.17 L321.82,171.32 L322.22,171.47 L322.62,171.61 L323.02,171.74 L323.42,171.87 L323.82,171.99 L324.22,172.11 L324.62,172.22 L325.02,172.33 L325.42,172.43 L325.82,172.53 L326.23,172.63 L326.63,172.72 L327.03,172.80 L327.43,172.88 L327.83,172.96 L328.23,173.04 L328.63,173.11 L329.03,173.17 L329.43,173.24 L329.83,173.30 L330.23,173.36 L330.63,173.41 L331.03,173.46 L331.44,173.51 L331.84,173.55 L332.24,173.60 L332.64,173.64 L333.04,173.68 L333.44,173.71 L333.84,173.75 L334.24,173.78 L334.64,173.81 L335.04,173.84 L335.44,173.86 L335.84,173.89 L336.24,173.91 L336.65,173.93 L337.05,173.95 L337.45,173.97 L337.85,173.99 L338.25,174.01 L338.65,174.02 L339.05,174.04 L339.45,174.05 L339.85,174.06 L340.25,174.07 L340.65,174.08 L341.05,174.09 L341.45,174.10 L341.86,174.11 L342.26,174.12 L342.66,174.13 L343.06,174.13 L343.46,174.14 L343.86,174.14 L344.26,174.15 L344.66,174.15 L345.06,174.16 L345.46,174.16 L345.86,174.17 L346.26,174.17 L346.66,174.17 L347.06,174.18 L347.47,174.18 L347.87,174.18 L348.27,174.18 L348.67,174.18 L349.07,174.19 L349.47,174.19 L349.87,174.19 L350.27,174.19 L350.67,174.19 L351.07,174.19 L351.47,174.19 L351.87,174.19 L352.27,174.19 L352.68,174.19 L353.08,174.20 L353.48,174.20 L353.88,174.20 L354.28,174.20 L354.68,174.20 L355.08,174.20 L355.48,174.20 L355.88,174.20 L356.28,174.20 L356.68,174.20 L357.08,174.20 L357.48,174.20 L357.88,174.20 L358.29,174.20 L358.69,174.20 L359.09,174.20 L359.49,174.20 L359.89,174.20 L360.29,174.20 L360.69,174.20 L361.09,174.20 L361.49,174.20 L361.89,174.20 L362.29,174.20 L362.69,174.20 L363.09,174.20 L363.50,174.20 L363.90,174.20 L364.30,174.20 L364.70,174.20 L365.10,174.20 L365.50,174.20 L365.90,174.20" fill="none" stroke="#1808c8" stroke-width="2.2" stroke-linejoin="round" />
<path d="M205.60,174.20 L206.00,174.20 L206.40,174.20 L206.80,174.20 L207.20,174.20 L207.60,174.20 L208.00,174.20 L208.41,174.20 L208.81,174.20 L209.21,174.20 L209.61,174.20 L210.01,174.19 L210.41,174.19 L210.81,174.19 L211.21,174.19 L211.61,174.19 L212.01,174.19 L212.41,174.19 L212.81,174.18 L213.21,174.18 L213.61,174.18 L214.02,174.17 L214.42,174.17 L214.82,174.16 L215.22,174.15 L215.62,174.15 L216.02,174.14 L216.42,174.13 L216.82,174.12 L217.22,174.10 L217.62,174.09 L218.02,174.07 L218.42,174.05 L218.82,174.03 L219.23,174.00 L219.63,173.97 L220.03,173.94 L220.43,173.90 L220.83,173.86 L221.23,173.81 L221.63,173.76 L222.03,173.70 L222.43,173.63 L222.83,173.55 L223.23,173.47 L223.63,173.37 L224.03,173.26 L224.44,173.14 L224.84,173.01 L225.24,172.86 L225.64,172.70 L226.04,172.52 L226.44,172.32 L226.84,172.10 L227.24,171.86 L227.64,171.60 L228.04,171.31 L228.44,170.99 L228.84,170.64 L229.24,170.26 L229.64,169.85 L230.05,169.40 L230.45,168.91 L230.85,168.38 L231.25,167.81 L231.65,167.19 L232.05,166.52 L232.45,165.81 L232.85,165.04 L233.25,164.21 L233.65,163.33 L234.05,162.39 L234.45,161.38 L234.85,160.31 L235.26,159.17 L235.66,157.96 L236.06,156.68 L236.46,155.33 L236.86,153.90 L237.26,152.40 L237.66,150.82 L238.06,149.17 L238.46,147.43 L238.86,145.62 L239.26,143.73 L239.66,141.76 L240.06,139.72 L240.47,137.60 L240.87,135.41 L241.27,133.14 L241.67,130.81 L242.07,128.41 L242.47,125.95 L242.87,123.43 L243.27,120.86 L243.67,118.23 L244.07,115.57 L244.47,112.86 L244.87,110.12 L245.27,107.35 L245.67,104.57 L246.08,101.77 L246.48,98.97 L246.88,96.17 L247.28,93.38 L247.68,90.62 L248.08,87.88 L248.48,85.17 L248.88,82.52 L249.28,79.92 L249.68,77.38 L250.08,74.91 L250.48,72.52 L250.88,70.23 L251.29,68.03 L251.69,65.94 L252.09,63.96 L252.49,62.10 L252.89,60.37 L253.29,58.78 L253.69,57.33 L254.09,56.03 L254.49,54.88 L254.89,53.88 L255.29,53.05 L255.69,52.38 L256.09,51.88 L256.50,51.54 L256.90,51.38 L257.30,51.39 L257.70,51.57 L258.10,51.91 L258.50,52.43 L258.90,53.11 L259.30,53.96 L259.70,54.96 L260.10,56.13 L260.50,57.44 L260.90,58.89 L261.30,60.49 L261.70,62.22 L262.11,64.08 L262.51,66.05 L262.91,68.14 L263.31,70.33 L263.71,72.61 L264.11,74.99 L264.51,77.44 L264.91,79.96 L265.31,82.55 L265.71,85.18 L266.11,87.87 L266.51,90.58 L266.91,93.33 L267.32,96.09 L267.72,98.86 L268.12,101.64 L268.52,104.41 L268.92,107.16 L269.32,109.90 L269.72,112.62 L270.12,115.30 L270.52,117.94 L270.92,120.54 L271.32,123.09 L271.72,125.59 L272.12,128.03 L272.53,130.41 L272.93,132.72 L273.33,134.97 L273.73,137.15 L274.13,139.26 L274.53,141.29 L274.93,143.25 L275.33,145.14 L275.73,146.94 L276.13,148.68 L276.53,150.33 L276.93,151.91 L277.33,153.42 L277.74,154.85 L278.14,156.21 L278.54,157.49 L278.94,158.71 L279.34,159.86 L279.74,160.94 L280.14,161.96 L280.54,162.92 L280.94,163.81 L281.34,164.65 L281.74,165.44 L282.14,166.17 L282.54,166.85 L282.94,167.48 L283.35,168.07 L283.75,168.61 L284.15,169.12 L284.55,169.58 L284.95,170.01 L285.35,170.41 L285.75,170.77 L286.15,171.10 L286.55,171.40 L286.95,171.68 L287.35,171.94 L287.75,172.17 L288.15,172.38 L288.56,172.57 L288.96,172.74 L289.36,172.90 L289.76,173.04 L290.16,173.17 L290.56,173.28 L290.96,173.39 L291.36,173.48 L291.76,173.56 L292.16,173.64 L292.56,173.70 L292.96,173.76 L293.36,173.81 L293.76,173.86 L294.17,173.90 L294.57,173.94 L294.97,173.97 L295.37,174.00 L295.77,174.03 L296.17,174.05 L296.57,174.07 L296.97,174.09 L297.37,174.10 L297.77,174.12 L298.17,174.13 L298.57,174.14 L298.97,174.15 L299.38,174.15 L299.78,174.16 L300.18,174.17 L300.58,174.17 L300.98,174.17 L301.38,174.18 L301.78,174.18 L302.18,174.18 L302.58,174.19 L302.98,174.19 L303.38,174.19 L303.78,174.19 L304.18,174.19 L304.59,174.19 L304.99,174.20 L305.39,174.20 L305.79,174.20 L306.19,174.20 L306.59,174.20 L306.99,174.20 L307.39,174.20 L307.79,174.20 L308.19,174.20 L308.59,174.20 L308.99,174.20 L309.39,174.20 L309.79,174.20 L310.20,174.20 L310.60,174.20 L311.00,174.20 L311.40,174.20 L311.80,174.20 L312.20,174.20 L312.60,174.20 L313.00,174.20 L313.40,174.20 L313.80,174.20 L314.20,174.20 L314.60,174.20 L315.00,174.20 L315.41,174.20 L315.81,174.20 L316.21,174.20 L316.61,174.20 L317.01,174.20 L317.41,174.20 L317.81,174.20 L318.21,174.20 L318.61,174.20 L319.01,174.20 L319.41,174.20 L319.81,174.20 L320.21,174.20 L320.62,174.20 L321.02,174.20 L321.42,174.20 L321.82,174.20 L322.22,174.20 L322.62,174.20 L323.02,174.20 L323.42,174.20 L323.82,174.20 L324.22,174.20 L324.62,174.20 L325.02,174.20 L325.42,174.20 L325.82,174.20 L326.23,174.20 L326.63,174.20 L327.03,174.20 L327.43,174.20 L327.83,174.20 L328.23,174.20 L328.63,174.20 L329.03,174.20 L329.43,174.20 L329.83,174.20 L330.23,174.20 L330.63,174.20 L331.03,174.20 L331.44,174.20 L331.84,174.20 L332.24,174.20 L332.64,174.20 L333.04,174.20 L333.44,174.20 L333.84,174.20 L334.24,174.20 L334.64,174.20 L335.04,174.20 L335.44,174.20 L335.84,174.20 L336.24,174.20 L336.65,174.20 L337.05,174.20 L337.45,174.20 L337.85,174.20 L338.25,174.20 L338.65,174.20 L339.05,174.20 L339.45,174.20 L339.85,174.20 L340.25,174.20 L340.65,174.20 L341.05,174.20 L341.45,174.20 L341.86,174.20 L342.26,174.20 L342.66,174.20 L343.06,174.20 L343.46,174.20 L343.86,174.20 L344.26,174.20 L344.66,174.20 L345.06,174.20 L345.46,174.20 L345.86,174.20 L346.26,174.20 L346.66,174.20 L347.06,174.20 L347.47,174.20 L347.87,174.20 L348.27,174.20 L348.67,174.20 L349.07,174.20 L349.47,174.20 L349.87,174.20 L350.27,174.20 L350.67,174.20 L351.07,174.20 L351.47,174.20 L351.87,174.20 L352.27,174.20 L352.68,174.20 L353.08,174.20 L353.48,174.20 L353.88,174.20 L354.28,174.20 L354.68,174.20 L355.08,174.20 L355.48,174.20 L355.88,174.20 L356.28,174.20 L356.68,174.20 L357.08,174.20 L357.48,174.20 L357.88,174.20 L358.29,174.20 L358.69,174.20 L359.09,174.20 L359.49,174.20 L359.89,174.20 L360.29,174.20 L360.69,174.20 L361.09,174.20 L361.49,174.20 L361.89,174.20 L362.29,174.20 L362.69,174.20 L363.09,174.20 L363.50,174.20 L363.90,174.20 L364.30,174.20 L364.70,174.20 L365.10,174.20 L365.50,174.20 L365.90,174.20" fill="none" stroke="#000000" stroke-width="2.2" stroke-linejoin="round" />
</g>
<path d="M422.70,140.61 h1.6 M588.40,140.61 h-1.6" stroke="#686868" stroke-width="1"/>
<path d="M422.70,107.02 h1.6 M588.40,107.02 h-1.6" stroke="#686868" stroke-width="1"/>
<path d="M422.70,73.43 h1.6 M588.40,73.43 h-1.6" stroke="#686868" stroke-width="1"/>
<path d="M422.70,39.84 h1.6 M588.40,39.84 h-1.6" stroke="#686868" stroke-width="1"/>
<path d="M422.70,26.40 v1.6 M422.70,174.20 v-1.6" stroke="#686868" stroke-width="1"/>
<path d="M464.12,26.40 v1.6 M464.12,174.20 v-1.6" stroke="#686868" stroke-width="1"/>
<path d="M505.55,26.40 v1.6 M505.55,174.20 v-1.6" stroke="#686868" stroke-width="1"/>
<path d="M546.98,26.40 v1.6 M546.98,174.20 v-1.6" stroke="#686868" stroke-width="1"/>
<path d="M588.40,26.40 v1.6 M588.40,174.20 v-1.6" stroke="#686868" stroke-width="1"/>
<text transform="matrix(1.0 0 0 1.17 419.20 145.21)" font-size="13" text-anchor="end" >−1</text>
<text transform="matrix(1.0 0 0 1.17 419.20 111.62)" font-size="13" text-anchor="end" >−0.5</text>
<text transform="matrix(1.0 0 0 1.17 419.20 78.03)" font-size="13" text-anchor="end" >0</text>
<text transform="matrix(1.0 0 0 1.17 419.20 44.44)" font-size="13" text-anchor="end" >0.5</text>
<text transform="matrix(1.0 0 0 1.17 422.70 189.60)" font-size="13" text-anchor="middle" >0</text>
<text transform="matrix(1.0 0 0 1.17 464.12 189.60)" font-size="13" text-anchor="middle" >50</text>
<text transform="matrix(1.0 0 0 1.17 505.55 189.60)" font-size="13" text-anchor="middle" >100</text>
<text transform="matrix(1.0 0 0 1.17 546.98 189.60)" font-size="13" text-anchor="middle" >150</text>
<text transform="matrix(1.0 0 0 1.17 588.40 189.60)" font-size="13" text-anchor="middle" >200</text>
<text x="463.30" y="202.60" font-size="15.2" text-anchor="start" textLength="84.5" lengthAdjust="spacingAndGlyphs">time [minutes]</text>
<path d="M422.70,73.43 H588.40" stroke="#c2c2c2" stroke-width="1" stroke-dasharray="5.6,5.4"/>
<clipPath id="c30"><rect x="422.7" y="26.4" width="165.7" height="147.79999999999998"/></clipPath>
<g clip-path="url(#c30)">
<path d="M440.51,81.15 L440.77,81.16 L441.03,81.16 L441.29,81.16 L441.55,81.16 L441.80,81.17 L442.06,81.17 L442.32,81.17 L442.58,81.18 L442.84,81.18 L443.09,81.18 L443.35,81.19 L443.61,81.19 L443.87,81.19 L444.13,81.19 L444.38,81.20 L444.64,81.20 L444.90,81.20 L445.16,81.21 L445.42,81.21 L445.68,81.21 L445.93,81.22 L446.19,81.22 L446.45,81.22 L446.71,81.23 L446.97,81.23 L447.22,81.23 L447.48,81.23 L447.74,81.24 L448.00,81.24 L448.26,81.24 L448.51,81.25 L448.77,81.25 L449.03,81.25 L449.29,81.26 L449.55,81.26 L449.81,81.26 L450.06,81.27 L450.32,81.27 L450.58,81.27 L450.84,81.28 L451.10,81.28 L451.35,81.28 L451.61,81.29 L451.87,81.29 L452.13,81.29 L452.39,81.30 L452.64,81.30 L452.90,81.30 L453.16,81.31 L453.42,81.31 L453.68,81.31 L453.94,81.32 L454.19,81.32 L454.45,81.33 L454.71,81.33 L454.97,81.33 L455.23,81.34 L455.48,81.34 L455.74,81.34 L456.00,81.35 L456.26,81.35 L456.52,81.35 L456.77,81.36 L457.03,81.36 L457.29,81.36 L457.55,81.37 L457.81,81.37 L458.07,81.38 L458.32,81.38 L458.58,81.38 L458.84,81.39 L459.10,81.39 L459.36,81.39 L459.61,81.40 L459.87,81.40 L460.13,81.40 L460.39,81.41 L460.65,81.41 L460.90,81.42 L461.16,81.42 L461.42,81.42 L461.68,81.43 L461.94,81.43 L462.20,81.44 L462.45,81.44 L462.71,81.44 L462.97,81.45 L463.23,81.45 L463.49,81.45 L463.74,81.46 L464.00,81.46 L464.26,81.47 L464.52,81.47 L464.78,81.47 L465.03,81.48 L465.29,81.48 L465.55,81.49 L465.81,81.49 L466.07,81.49 L466.33,81.50 L466.58,81.50 L466.84,81.51 L467.10,81.51 L467.36,81.51 L467.62,81.52 L467.87,81.52 L468.13,81.53 L468.39,81.53 L468.65,81.53 L468.91,81.54 L469.16,81.54 L469.42,81.55 L469.68,81.55 L469.94,81.55 L470.20,81.56 L470.46,81.56 L470.71,81.57 L470.97,81.57 L471.23,81.58 L471.49,81.58 L471.75,81.58 L472.00,81.59 L472.26,81.59 L472.52,81.60 L472.78,81.60 L473.04,81.61 L473.29,81.61 L473.55,81.61 L473.81,81.62 L474.07,81.62 L474.33,81.63 L474.59,81.63 L474.84,81.64 L475.10,81.64 L475.36,81.65 L475.62,81.65 L475.88,81.65 L476.13,81.66 L476.39,81.66 L476.65,81.67 L476.91,81.67 L477.17,81.68 L477.42,81.68 L477.68,81.69 L477.94,81.69 L478.20,81.70 L478.46,81.70 L478.72,81.71 L478.97,81.71 L479.23,81.71 L479.49,81.72 L479.75,81.72 L480.01,81.73 L480.26,81.73 L480.52,81.74 L480.78,81.74 L481.04,81.75 L481.30,81.75 L481.55,81.76 L481.81,81.76 L482.07,81.77 L482.33,81.77 L482.59,81.78 L482.85,81.78 L483.10,81.79 L483.36,81.79 L483.62,81.80 L483.88,81.80 L484.14,81.81 L484.39,81.81 L484.65,81.82 L484.91,81.82 L485.17,81.83 L485.43,81.83 L485.68,81.84 L485.94,81.84 L486.20,81.85 L486.46,81.85 L486.72,81.86 L486.98,81.86 L487.23,81.87 L487.49,81.87 L487.75,81.88 L488.01,81.88 L488.27,81.89 L488.52,81.89 L488.78,81.90 L489.04,81.90 L489.30,81.91 L489.56,81.91 L489.81,81.92 L490.07,81.92 L490.33,81.93 L490.59,81.93 L490.85,81.94 L491.11,81.94 L491.36,81.95 L491.62,81.95 L491.88,81.96" fill="none" stroke="#000000" stroke-width="2.2" stroke-dasharray="6.3,4.7" stroke-linejoin="round" />
<path d="M440.51,84.85 L440.80,84.86 L441.10,84.88 L441.39,84.89 L441.68,84.91 L441.97,84.92 L442.26,84.94 L442.55,84.95 L442.84,84.97 L443.14,84.98 L443.43,85.00 L443.72,85.01 L444.01,85.03 L444.30,85.04 L444.59,85.06 L444.88,85.07 L445.18,85.09 L445.47,85.10 L445.76,85.12 L446.05,85.13 L446.34,85.15 L446.63,85.16 L446.92,85.18 L447.22,85.19 L447.51,85.21 L447.80,85.22 L448.09,85.24 L448.38,85.25 L448.67,85.27 L448.96,85.28 L449.26,85.30 L449.55,85.31 L449.84,85.33 L450.13,85.34 L450.42,85.36 L450.71,85.38 L451.00,85.39 L451.30,85.41 L451.59,85.42 L451.88,85.44 L452.17,85.45 L452.46,85.47 L452.75,85.48 L453.04,85.50 L453.34,85.52 L453.63,85.53 L453.92,85.55 L454.21,85.56 L454.50,85.58 L454.79,85.59 L455.08,85.61 L455.38,85.63 L455.67,85.64 L455.96,85.66 L456.25,85.67 L456.54,85.69 L456.83,85.71 L457.12,85.72 L457.42,85.74 L457.71,85.75 L458.00,85.77 L458.29,85.78 L458.58,85.80 L458.87,85.82 L459.16,85.83 L459.46,85.85 L459.75,85.87 L460.04,85.88 L460.33,85.90 L460.62,85.91 L460.91,85.93 L461.20,85.95 L461.50,85.96 L461.79,85.98 L462.08,86.00 L462.37,86.01 L462.66,86.03 L462.95,86.04 L463.24,86.06 L463.54,86.08 L463.83,86.09 L464.12,86.11 L464.41,86.13 L464.70,86.14 L464.99,86.16 L465.28,86.18 L465.58,86.19 L465.87,86.21 L466.16,86.23 L466.45,86.24 L466.74,86.26 L467.03,86.28 L467.32,86.29 L467.62,86.31 L467.91,86.33 L468.20,86.34 L468.49,86.36 L468.78,86.38 L469.07,86.39 L469.36,86.41 L469.66,86.43 L469.95,86.44 L470.24,86.46 L470.53,86.48 L470.82,86.49 L471.11,86.51 L471.40,86.53 L471.70,86.54 L471.99,86.56 L472.28,86.58 L472.57,86.60 L472.86,86.61 L473.15,86.63 L473.44,86.65 L473.74,86.66 L474.03,86.68 L474.32,86.70 L474.61,86.72 L474.90,86.73 L475.19,86.75 L475.48,86.77 L475.78,86.78 L476.07,86.80 L476.36,86.82 L476.65,86.84 L476.94,86.85 L477.23,86.87 L477.52,86.89 L477.82,86.91 L478.11,86.92 L478.40,86.94 L478.69,86.96 L478.98,86.98 L479.27,86.99 L479.56,87.01 L479.86,87.03 L480.15,87.05 L480.44,87.07 L480.73,87.08 L481.02,87.10 L481.31,87.12 L481.60,87.14 L481.90,87.15 L482.19,87.17 L482.48,87.19 L482.77,87.21 L483.06,87.23 L483.35,87.24 L483.64,87.26 L483.94,87.28 L484.23,87.30 L484.52,87.32 L484.81,87.33 L485.10,87.35 L485.39,87.37 L485.68,87.39 L485.98,87.41 L486.27,87.42 L486.56,87.44 L486.85,87.46 L487.14,87.48 L487.43,87.50 L487.72,87.52 L488.02,87.53 L488.31,87.55 L488.60,87.57 L488.89,87.59 L489.18,87.61 L489.47,87.63 L489.76,87.64 L490.06,87.66 L490.35,87.68 L490.64,87.70 L490.93,87.72 L491.22,87.74 L491.51,87.76 L491.80,87.77 L492.10,87.79 L492.39,87.81 L492.68,87.83 L492.97,87.85 L493.26,87.87 L493.55,87.89 L493.84,87.90 L494.14,87.92 L494.43,87.94 L494.72,87.96 L495.01,87.98 L495.30,88.00 L495.59,88.02 L495.88,88.04 L496.18,88.06 L496.47,88.07 L496.76,88.09 L497.05,88.11 L497.34,88.13 L497.63,88.15 L497.92,88.17 L498.22,88.19 L498.51,88.21" fill="none" stroke="#1808c8" stroke-width="2.2" stroke-dasharray="6.3,4.7" stroke-linejoin="round" />
<path d="M440.51,87.74 L440.80,87.76 L441.10,87.79 L441.39,87.81 L441.68,87.84 L441.97,87.86 L442.26,87.89 L442.55,87.92 L442.84,87.94 L443.14,87.97 L443.43,87.99 L443.72,88.02 L444.01,88.04 L444.30,88.07 L444.59,88.10 L444.88,88.12 L445.18,88.15 L445.47,88.17 L445.76,88.20 L446.05,88.23 L446.34,88.25 L446.63,88.28 L446.92,88.30 L447.22,88.33 L447.51,88.36 L447.80,88.38 L448.09,88.41 L448.38,88.43 L448.67,88.46 L448.96,88.49 L449.26,88.51 L449.55,88.54 L449.84,88.56 L450.13,88.59 L450.42,88.62 L450.71,88.64 L451.00,88.67 L451.30,88.70 L451.59,88.72 L451.88,88.75 L452.17,88.78 L452.46,88.80 L452.75,88.83 L453.04,88.86 L453.34,88.88 L453.63,88.91 L453.92,88.94 L454.21,88.96 L454.50,88.99 L454.79,89.02 L455.08,89.04 L455.38,89.07 L455.67,89.10 L455.96,89.12 L456.25,89.15 L456.54,89.18 L456.83,89.20 L457.12,89.23 L457.42,89.26 L457.71,89.28 L458.00,89.31 L458.29,89.34 L458.58,89.37 L458.87,89.39 L459.16,89.42 L459.46,89.45 L459.75,89.47 L460.04,89.50 L460.33,89.53 L460.62,89.55 L460.91,89.58 L461.20,89.61 L461.50,89.64 L461.79,89.66 L462.08,89.69 L462.37,89.72 L462.66,89.75 L462.95,89.77 L463.24,89.80 L463.54,89.83 L463.83,89.86 L464.12,89.88 L464.41,89.91 L464.70,89.94 L464.99,89.97 L465.28,89.99 L465.58,90.02 L465.87,90.05 L466.16,90.08 L466.45,90.10 L466.74,90.13 L467.03,90.16 L467.32,90.19 L467.62,90.22 L467.91,90.24 L468.20,90.27 L468.49,90.30 L468.78,90.33 L469.07,90.35 L469.36,90.38 L469.66,90.41 L469.95,90.44 L470.24,90.47 L470.53,90.49 L470.82,90.52 L471.11,90.55 L471.40,90.58 L471.70,90.61 L471.99,90.64 L472.28,90.66 L472.57,90.69 L472.86,90.72 L473.15,90.75 L473.44,90.78 L473.74,90.81 L474.03,90.83 L474.32,90.86 L474.61,90.89 L474.90,90.92 L475.19,90.95 L475.48,90.98 L475.78,91.00 L476.07,91.03 L476.36,91.06 L476.65,91.09 L476.94,91.12 L477.23,91.15 L477.52,91.18 L477.82,91.21 L478.11,91.23 L478.40,91.26 L478.69,91.29 L478.98,91.32 L479.27,91.35 L479.56,91.38 L479.86,91.41 L480.15,91.44 L480.44,91.47 L480.73,91.49 L481.02,91.52 L481.31,91.55 L481.60,91.58 L481.90,91.61 L482.19,91.64 L482.48,91.67 L482.77,91.70 L483.06,91.73 L483.35,91.76 L483.64,91.79 L483.94,91.82 L484.23,91.84 L484.52,91.87 L484.81,91.90 L485.10,91.93 L485.39,91.96 L485.68,91.99 L485.98,92.02 L486.27,92.05 L486.56,92.08 L486.85,92.11 L487.14,92.14 L487.43,92.17 L487.72,92.20 L488.02,92.23 L488.31,92.26 L488.60,92.29 L488.89,92.32 L489.18,92.35 L489.47,92.38 L489.76,92.41 L490.06,92.44 L490.35,92.47 L490.64,92.50 L490.93,92.53 L491.22,92.56 L491.51,92.59 L491.80,92.62 L492.10,92.65 L492.39,92.68 L492.68,92.71 L492.97,92.74 L493.26,92.77 L493.55,92.80 L493.84,92.83 L494.14,92.86 L494.43,92.89 L494.72,92.92 L495.01,92.95 L495.30,92.98 L495.59,93.01 L495.88,93.04 L496.18,93.07 L496.47,93.10 L496.76,93.13 L497.05,93.16 L497.34,93.19 L497.63,93.22 L497.92,93.25 L498.22,93.28 L498.51,93.31" fill="none" stroke="#d010d8" stroke-width="2.2" stroke-dasharray="6.3,4.7" stroke-linejoin="round" />
<path d="M440.51,91.23 L440.80,91.31 L441.10,91.38 L441.39,91.46 L441.68,91.53 L441.97,91.61 L442.26,91.68 L442.55,91.76 L442.84,91.83 L443.14,91.91 L443.43,91.99 L443.72,92.06 L444.01,92.14 L444.30,92.22 L444.59,92.29 L444.88,92.37 L445.18,92.44 L445.47,92.52 L445.76,92.60 L446.05,92.67 L446.34,92.75 L446.63,92.83 L446.92,92.90 L447.22,92.98 L447.51,93.06 L447.80,93.14 L448.09,93.21 L448.38,93.29 L448.67,93.37 L448.96,93.44 L449.26,93.52 L449.55,93.60 L449.84,93.68 L450.13,93.75 L450.42,93.83 L450.71,93.91 L451.00,93.99 L451.30,94.07 L451.59,94.14 L451.88,94.22 L452.17,94.30 L452.46,94.38 L452.75,94.46 L453.04,94.53 L453.34,94.61 L453.63,94.69 L453.92,94.77 L454.21,94.85 L454.50,94.93 L454.79,95.01 L455.08,95.08 L455.38,95.16 L455.67,95.24 L455.96,95.32 L456.25,95.40 L456.54,95.48 L456.83,95.56 L457.12,95.64 L457.42,95.72 L457.71,95.80 L458.00,95.88 L458.29,95.96 L458.58,96.04 L458.87,96.12 L459.16,96.20 L459.46,96.28 L459.75,96.36 L460.04,96.44 L460.33,96.52 L460.62,96.60 L460.91,96.68 L461.20,96.76 L461.50,96.84 L461.79,96.92 L462.08,97.00 L462.37,97.08 L462.66,97.16 L462.95,97.24 L463.24,97.32 L463.54,97.40 L463.83,97.48 L464.12,97.56 L464.41,97.64 L464.70,97.73 L464.99,97.81 L465.28,97.89 L465.58,97.97 L465.87,98.05 L466.16,98.13 L466.45,98.21 L466.74,98.29 L467.03,98.38 L467.32,98.46 L467.62,98.54 L467.91,98.62 L468.20,98.70 L468.49,98.79 L468.78,98.87 L469.07,98.95 L469.36,99.03 L469.66,99.11 L469.95,99.20 L470.24,99.28 L470.53,99.36 L470.82,99.44 L471.11,99.53 L471.40,99.61 L471.70,99.69 L471.99,99.78 L472.28,99.86 L472.57,99.94 L472.86,100.02 L473.15,100.11 L473.44,100.19 L473.74,100.27 L474.03,100.36 L474.32,100.44 L474.61,100.52 L474.90,100.61 L475.19,100.69 L475.48,100.78 L475.78,100.86 L476.07,100.94 L476.36,101.03 L476.65,101.11 L476.94,101.20 L477.23,101.28 L477.52,101.36 L477.82,101.45 L478.11,101.53 L478.40,101.62 L478.69,101.70 L478.98,101.79 L479.27,101.87 L479.56,101.96 L479.86,102.04 L480.15,102.13 L480.44,102.21 L480.73,102.30 L481.02,102.38 L481.31,102.47 L481.60,102.55 L481.90,102.64 L482.19,102.72 L482.48,102.81 L482.77,102.89 L483.06,102.98 L483.35,103.07 L483.64,103.15 L483.94,103.24 L484.23,103.32 L484.52,103.41 L484.81,103.49 L485.10,103.58 L485.39,103.67 L485.68,103.75 L485.98,103.84 L486.27,103.93 L486.56,104.01 L486.85,104.10 L487.14,104.19 L487.43,104.27 L487.72,104.36 L488.02,104.45 L488.31,104.53 L488.60,104.62 L488.89,104.71 L489.18,104.80 L489.47,104.88 L489.76,104.97 L490.06,105.06 L490.35,105.14 L490.64,105.23 L490.93,105.32 L491.22,105.41 L491.51,105.50 L491.80,105.58 L492.10,105.67 L492.39,105.76 L492.68,105.85 L492.97,105.94 L493.26,106.02 L493.55,106.11 L493.84,106.20 L494.14,106.29 L494.43,106.38 L494.72,106.47 L495.01,106.55 L495.30,106.64 L495.59,106.73 L495.88,106.82 L496.18,106.91 L496.47,107.00 L496.76,107.09 L497.05,107.18 L497.34,107.27 L497.63,107.35 L497.92,107.44 L498.22,107.53 L498.51,107.62" fill="none" stroke="#d40c16" stroke-width="2.2" stroke-dasharray="6.3,4.7" stroke-linejoin="round" />
<path d="M446.56,49.24 L447.04,49.24 L447.52,49.25 L448.00,49.26 L448.48,49.27 L448.96,49.28 L449.44,49.29 L449.92,49.30 L450.40,49.31 L450.88,49.32 L451.35,49.33 L451.83,49.34 L452.31,49.35 L452.79,49.36 L453.27,49.37 L453.75,49.38 L454.23,49.39 L454.71,49.40 L455.19,49.42 L455.67,49.43 L456.15,49.44 L456.63,49.45 L457.11,49.47 L457.59,49.48 L458.07,49.49 L458.54,49.50 L459.02,49.52 L459.50,49.53 L459.98,49.55 L460.46,49.56 L460.94,49.58 L461.42,49.59 L461.90,49.61 L462.38,49.62 L462.86,49.64 L463.34,49.65 L463.82,49.67 L464.30,49.69 L464.78,49.70 L465.26,49.72 L465.74,49.74 L466.21,49.76 L466.69,49.78 L467.17,49.80 L467.65,49.82 L468.13,49.84 L468.61,49.86 L469.09,49.88 L469.57,49.90 L470.05,49.93 L470.53,49.95 L471.01,49.97 L471.49,50.00 L471.97,50.02 L472.45,50.05 L472.93,50.07 L473.41,50.10 L473.88,50.12 L474.36,50.15 L474.84,50.18 L475.32,50.21 L475.80,50.24 L476.28,50.27 L476.76,50.30 L477.24,50.34 L477.72,50.37 L478.20,50.40 L478.68,50.44 L479.16,50.47 L479.64,50.51 L480.12,50.55 L480.60,50.59 L481.08,50.63 L481.55,50.67 L482.03,50.71 L482.51,50.75 L482.99,50.80 L483.47,50.84 L483.95,50.89 L484.43,50.94 L484.91,50.99 L485.39,51.04 L485.87,51.09 L486.35,51.15 L486.83,51.20 L487.31,51.26 L487.79,51.32 L488.27,51.38 L488.75,51.44 L489.22,51.50 L489.70,51.56 L490.18,51.63 L490.66,51.70 L491.14,51.77 L491.62,51.84 L492.10,51.91 L492.58,51.99 L493.06,52.06 L493.54,52.14 L494.02,52.22 L494.50,52.30 L494.98,52.39 L495.46,52.48 L495.94,52.56 L496.41,52.65 L496.89,52.74 L497.37,52.84 L497.85,52.93 L498.33,53.03 L498.81,53.13 L499.29,53.23 L499.77,53.34 L500.25,53.44 L500.73,53.55 L501.21,53.66 L501.69,53.77 L502.17,53.88 L502.65,53.99 L503.13,54.11 L503.61,54.23 L504.08,54.35 L504.56,54.47 L505.04,54.59 L505.52,54.72 L506.00,54.84 L506.48,54.97 L506.96,55.10 L507.44,55.23 L507.92,55.36 L508.40,55.50 L508.88,55.63 L509.36,55.77 L509.84,55.91 L510.32,56.04 L510.80,56.18 L511.28,56.33 L511.75,56.47 L512.23,56.61 L512.71,56.76 L513.19,56.90 L513.67,57.05 L514.15,57.20 L514.63,57.35 L515.11,57.50 L515.59,57.65 L516.07,57.80 L516.55,57.95 L517.03,58.11 L517.51,58.26 L517.99,58.42 L518.47,58.57 L518.95,58.73 L519.42,58.89 L519.90,59.05 L520.38,59.21 L520.86,59.37 L521.34,59.53 L521.82,59.69 L522.30,59.85 L522.78,60.01 L523.26,60.17 L523.74,60.34 L524.22,60.50 L524.70,60.67 L525.18,60.83 L525.66,61.00 L526.14,61.16 L526.61,61.33 L527.09,61.50 L527.57,61.66 L528.05,61.83 L528.53,62.00 L529.01,62.17 L529.49,62.34 L529.97,62.51 L530.45,62.68 L530.93,62.85 L531.41,63.02 L531.89,63.19 L532.37,63.36 L532.85,63.53 L533.33,63.70 L533.81,63.88 L534.28,64.05 L534.76,64.22 L535.24,64.39 L535.72,64.57 L536.20,64.74 L536.68,64.91 L537.16,65.09 L537.64,65.26 L538.12,65.44 L538.60,65.61 L539.08,65.79 L539.56,65.96 L540.04,66.14 L540.52,66.31 L541.00,66.49 L541.48,66.66 L541.95,66.84 L542.43,67.02 L542.91,67.19 L543.39,67.37 L543.87,67.55 L544.35,67.72 L544.83,67.90 L545.31,68.08 L545.79,68.26 L546.27,68.43 L546.75,68.61 L547.23,68.79 L547.71,68.97 L548.19,69.15 L548.67,69.32 L549.15,69.50 L549.62,69.68 L550.10,69.86 L550.58,70.04 L551.06,70.22 L551.54,70.40 L552.02,70.58 L552.50,70.76 L552.98,70.94 L553.46,71.11 L553.94,71.29 L554.42,71.47 L554.90,71.65 L555.38,71.83 L555.86,72.01 L556.34,72.19 L556.82,72.38 L557.29,72.56 L557.77,72.74 L558.25,72.92 L558.73,73.10 L559.21,73.28 L559.69,73.46 L560.17,73.64 L560.65,73.82 L561.13,74.00 L561.61,74.18 L562.09,74.36 L562.57,74.55 L563.05,74.73 L563.53,74.91 L564.01,75.09 L564.48,75.27 L564.96,75.45 L565.44,75.63 L565.92,75.82 L566.40,76.00 L566.88,76.18 L567.36,76.36 L567.84,76.54 L568.32,76.73 L568.80,76.91 L569.28,77.09 L569.76,77.27 L570.24,77.46 L570.72,77.64 L571.20,77.82 L571.68,78.00 L572.15,78.18 L572.63,78.37 L573.11,78.55 L573.59,78.73 L574.07,78.92 L574.55,79.10 L575.03,79.28 L575.51,79.46 L575.99,79.65 L576.47,79.83 L576.95,80.01 L577.43,80.20 L577.91,80.38 L578.39,80.56 L578.87,80.75 L579.35,80.93 L579.82,81.11 L580.30,81.29 L580.78,81.48 L581.26,81.66 L581.74,81.84 L582.22,82.03 L582.70,82.21 L583.18,82.40 L583.66,82.58 L584.14,82.76 L584.62,82.95 L585.10,83.13 L585.58,83.31 L586.06,83.50 L586.54,83.68 L587.02,83.86 L587.49,84.05 L587.97,84.23 L588.45,84.42 L588.93,84.60 L589.41,84.78 L589.89,84.97" fill="none" stroke="#d40c16" stroke-width="2.2" stroke-linejoin="round" />
<path d="M445.24,42.08 L445.64,42.12 L446.05,42.16 L446.46,42.20 L446.86,42.25 L447.27,42.29 L447.68,42.33 L448.09,42.38 L448.49,42.43 L448.90,42.47 L449.31,42.52 L449.72,42.57 L450.12,42.61 L450.53,42.66 L450.94,42.71 L451.35,42.76 L451.75,42.81 L452.16,42.86 L452.57,42.91 L452.97,42.97 L453.38,43.02 L453.79,43.08 L454.20,43.13 L454.60,43.19 L455.01,43.24 L455.42,43.30 L455.83,43.36 L456.23,43.42 L456.64,43.48 L457.05,43.54 L457.45,43.60 L457.86,43.66 L458.27,43.73 L458.68,43.79 L459.08,43.86 L459.49,43.92 L459.90,43.99 L460.31,44.06 L460.71,44.13 L461.12,44.20 L461.53,44.27 L461.94,44.34 L462.34,44.42 L462.75,44.49 L463.16,44.57 L463.56,44.65 L463.97,44.73 L464.38,44.81 L464.79,44.89 L465.19,44.97 L465.60,45.06 L466.01,45.14 L466.42,45.23 L466.82,45.32 L467.23,45.41 L467.64,45.50 L468.05,45.59 L468.45,45.69 L468.86,45.78 L469.27,45.88 L469.67,45.98 L470.08,46.08 L470.49,46.18 L470.90,46.29 L471.30,46.39 L471.71,46.50 L472.12,46.61 L472.53,46.73 L472.93,46.84 L473.34,46.96 L473.75,47.07 L474.16,47.20 L474.56,47.32 L474.97,47.44 L475.38,47.57 L475.78,47.70 L476.19,47.83 L476.60,47.97 L477.01,48.10 L477.41,48.24 L477.82,48.38 L478.23,48.53 L478.64,48.67 L479.04,48.82 L479.45,48.98 L479.86,49.13 L480.26,49.29 L480.67,49.45 L481.08,49.61 L481.49,49.78 L481.89,49.95 L482.30,50.13 L482.71,50.30 L483.12,50.48 L483.52,50.67 L483.93,50.85 L484.34,51.04 L484.75,51.24 L485.15,51.43 L485.56,51.63 L485.97,51.84 L486.37,52.05 L486.78,52.26 L487.19,52.48 L487.60,52.70 L488.00,52.92 L488.41,53.15 L488.82,53.38 L489.23,53.62 L489.63,53.86 L490.04,54.10 L490.45,54.35 L490.86,54.61 L491.26,54.86 L491.67,55.13 L492.08,55.39 L492.48,55.67 L492.89,55.94 L493.30,56.22 L493.71,56.51 L494.11,56.80 L494.52,57.09 L494.93,57.39 L495.34,57.70 L495.74,58.01 L496.15,58.32 L496.56,58.64 L496.97,58.97 L497.37,59.29 L497.78,59.63 L498.19,59.97 L498.59,60.31 L499.00,60.66 L499.41,61.02 L499.82,61.38 L500.22,61.75 L500.63,62.12 L501.04,62.50 L501.45,62.89 L501.85,63.28 L502.26,63.68 L502.67,64.09 L503.08,64.50 L503.48,64.92 L503.89,65.34 L504.30,65.77 L504.70,66.21 L505.11,66.65 L505.52,67.10 L505.93,67.56 L506.33,68.02 L506.74,68.49 L507.15,68.96 L507.56,69.44 L507.96,69.92 L508.37,70.41 L508.78,70.91 L509.18,71.41 L509.59,71.92 L510.00,72.43 L510.41,72.95 L510.81,73.47 L511.22,74.00 L511.63,74.53 L512.04,75.07 L512.44,75.61 L512.85,76.16 L513.26,76.72 L513.67,77.28 L514.07,77.84 L514.48,78.41 L514.89,78.98 L515.29,79.56 L515.70,80.14 L516.11,80.73 L516.52,81.32 L516.92,81.92 L517.33,82.52 L517.74,83.12 L518.15,83.73 L518.55,84.35 L518.96,84.96 L519.37,85.59 L519.78,86.21 L520.18,86.84 L520.59,87.48 L521.00,88.11 L521.40,88.75 L521.81,89.40 L522.22,90.05 L522.63,90.70 L523.03,91.36 L523.44,92.02 L523.85,92.68 L524.26,93.35 L524.66,94.02 L525.07,94.70 L525.48,95.37 L525.89,96.06 L526.29,96.74 L526.70,97.43 L527.11,98.12 L527.51,98.81 L527.92,99.51 L528.33,100.21 L528.74,100.92 L529.14,101.62 L529.55,102.33 L529.96,103.04 L530.37,103.76 L530.77,104.48 L531.18,105.20 L531.59,105.93 L531.99,106.65 L532.40,107.38 L532.81,108.12 L533.22,108.85 L533.62,109.59 L534.03,110.33 L534.44,111.08 L534.85,111.82 L535.25,112.57 L535.66,113.32 L536.07,114.08 L536.48,114.83 L536.88,115.59 L537.29,116.35 L537.70,117.12 L538.10,117.89 L538.51,118.66 L538.92,119.43 L539.33,120.20 L539.73,120.98 L540.14,121.76 L540.55,122.54 L540.96,123.32 L541.36,124.11 L541.77,124.90 L542.18,125.69 L542.59,126.48 L542.99,127.27 L543.40,128.07 L543.81,128.87 L544.21,129.67 L544.62,130.48 L545.03,131.28 L545.44,132.09 L545.84,132.90 L546.25,133.71 L546.66,134.53 L547.07,135.35 L547.47,136.16 L547.88,136.99 L548.29,137.81 L548.70,138.63 L549.10,139.46 L549.51,140.29 L549.92,141.12 L550.32,141.95 L550.73,142.79 L551.14,143.63 L551.55,144.47 L551.95,145.31 L552.36,146.15 L552.77,147.00 L553.18,147.84 L553.58,148.69 L553.99,149.54 L554.40,150.40 L554.81,151.25 L555.21,152.11 L555.62,152.97 L556.03,153.83 L556.43,154.69 L556.84,155.55 L557.25,156.42 L557.66,157.29 L558.06,158.16 L558.47,159.03 L558.88,159.90 L559.29,160.78 L559.69,161.65 L560.10,162.53 L560.51,163.41 L560.91,164.30 L561.32,165.18 L561.73,166.07 L562.14,166.96 L562.54,167.85 L562.95,168.74 L563.36,169.63 L563.77,170.53 L564.17,171.42 L564.58,172.32 L564.99,173.22 L565.40,174.12 L565.80,175.03 L566.21,175.93 L566.62,176.84 L567.02,177.75" fill="none" stroke="#d010d8" stroke-width="2.2" stroke-linejoin="round" />
<path d="M445.24,42.46 L445.51,42.48 L445.79,42.50 L446.07,42.51 L446.35,42.53 L446.62,42.55 L446.90,42.56 L447.18,42.58 L447.46,42.60 L447.74,42.62 L448.01,42.64 L448.29,42.66 L448.57,42.68 L448.85,42.69 L449.13,42.71 L449.40,42.73 L449.68,42.75 L449.96,42.78 L450.24,42.80 L450.52,42.82 L450.79,42.84 L451.07,42.86 L451.35,42.88 L451.63,42.91 L451.91,42.93 L452.18,42.95 L452.46,42.98 L452.74,43.00 L453.02,43.02 L453.29,43.05 L453.57,43.07 L453.85,43.10 L454.13,43.13 L454.41,43.15 L454.68,43.18 L454.96,43.21 L455.24,43.23 L455.52,43.26 L455.80,43.29 L456.07,43.32 L456.35,43.35 L456.63,43.38 L456.91,43.41 L457.19,43.44 L457.46,43.48 L457.74,43.51 L458.02,43.54 L458.30,43.58 L458.58,43.61 L458.85,43.65 L459.13,43.68 L459.41,43.72 L459.69,43.75 L459.97,43.79 L460.24,43.83 L460.52,43.87 L460.80,43.91 L461.08,43.95 L461.35,43.99 L461.63,44.04 L461.91,44.08 L462.19,44.12 L462.47,44.17 L462.74,44.22 L463.02,44.26 L463.30,44.31 L463.58,44.36 L463.86,44.41 L464.13,44.46 L464.41,44.52 L464.69,44.57 L464.97,44.62 L465.25,44.68 L465.52,44.74 L465.80,44.80 L466.08,44.86 L466.36,44.92 L466.64,44.98 L466.91,45.05 L467.19,45.11 L467.47,45.18 L467.75,45.25 L468.02,45.32 L468.30,45.39 L468.58,45.47 L468.86,45.54 L469.14,45.62 L469.41,45.70 L469.69,45.78 L469.97,45.87 L470.25,45.96 L470.53,46.04 L470.80,46.14 L471.08,46.23 L471.36,46.33 L471.64,46.42 L471.92,46.53 L472.19,46.63 L472.47,46.74 L472.75,46.85 L473.03,46.96 L473.31,47.07 L473.58,47.19 L473.86,47.31 L474.14,47.44 L474.42,47.57 L474.69,47.70 L474.97,47.84 L475.25,47.98 L475.53,48.12 L475.81,48.27 L476.08,48.42 L476.36,48.58 L476.64,48.74 L476.92,48.91 L477.20,49.08 L477.47,49.25 L477.75,49.43 L478.03,49.62 L478.31,49.81 L478.59,50.00 L478.86,50.20 L479.14,50.41 L479.42,50.62 L479.70,50.83 L479.98,51.06 L480.25,51.29 L480.53,51.52 L480.81,51.76 L481.09,52.01 L481.37,52.26 L481.64,52.52 L481.92,52.79 L482.20,53.06 L482.48,53.34 L482.75,53.62 L483.03,53.91 L483.31,54.21 L483.59,54.51 L483.87,54.83 L484.14,55.15 L484.42,55.48 L484.70,55.82 L484.98,56.17 L485.26,56.53 L485.53,56.90 L485.81,57.28 L486.09,57.67 L486.37,58.06 L486.65,58.47 L486.92,58.88 L487.20,59.31 L487.48,59.74 L487.76,60.18 L488.04,60.63 L488.31,61.08 L488.59,61.55 L488.87,62.02 L489.15,62.51 L489.42,62.99 L489.70,63.49 L489.98,64.00 L490.26,64.51 L490.54,65.03 L490.81,65.56 L491.09,66.09 L491.37,66.64 L491.65,67.18 L491.93,67.74 L492.20,68.30 L492.48,68.87 L492.76,69.45 L493.04,70.03 L493.32,70.62 L493.59,71.21 L493.87,71.81 L494.15,72.42 L494.43,73.03 L494.71,73.65 L494.98,74.28 L495.26,74.91 L495.54,75.54 L495.82,76.18 L496.09,76.83 L496.37,77.48 L496.65,78.14 L496.93,78.80 L497.21,79.47 L497.48,80.14 L497.76,80.82 L498.04,81.50 L498.32,82.19 L498.60,82.88 L498.87,83.58 L499.15,84.28 L499.43,84.99 L499.71,85.70 L499.99,86.41 L500.26,87.13 L500.54,87.86 L500.82,88.58 L501.10,89.32 L501.38,90.05 L501.65,90.80 L501.93,91.54 L502.21,92.29 L502.49,93.04 L502.76,93.80 L503.04,94.56 L503.32,95.33 L503.60,96.10 L503.88,96.87 L504.15,97.65 L504.43,98.43 L504.71,99.22 L504.99,100.01 L505.27,100.80 L505.54,101.60 L505.82,102.40 L506.10,103.20 L506.38,104.01 L506.66,104.82 L506.93,105.64 L507.21,106.46 L507.49,107.28 L507.77,108.11 L508.05,108.94 L508.32,109.77 L508.60,110.61 L508.88,111.45 L509.16,112.29 L509.44,113.14 L509.71,113.99 L509.99,114.85 L510.27,115.71 L510.55,116.57 L510.82,117.43 L511.10,118.30 L511.38,119.17 L511.66,120.05 L511.94,120.93 L512.21,121.81 L512.49,122.70 L512.77,123.59 L513.05,124.48 L513.33,125.37 L513.60,126.27 L513.88,127.17 L514.16,128.08 L514.44,128.99 L514.72,129.90 L514.99,130.82 L515.27,131.74 L515.55,132.66 L515.83,133.58 L516.11,134.51 L516.38,135.44 L516.66,136.38 L516.94,137.32 L517.22,138.26 L517.49,139.20 L517.77,140.15 L518.05,141.10 L518.33,142.06 L518.61,143.01 L518.88,143.97 L519.16,144.94 L519.44,145.90 L519.72,146.87 L520.00,147.85 L520.27,148.82 L520.55,149.80 L520.83,150.79 L521.11,151.77 L521.39,152.76 L521.66,153.75 L521.94,154.75 L522.22,155.75 L522.50,156.75 L522.78,157.75 L523.05,158.76 L523.33,159.77 L523.61,160.79 L523.89,161.80 L524.16,162.82 L524.44,163.85 L524.72,164.87 L525.00,165.90 L525.28,166.93 L525.55,167.97 L525.83,169.01 L526.11,170.05 L526.39,171.09 L526.67,172.14 L526.94,173.19 L527.22,174.25 L527.50,175.30 L527.78,176.36 L528.06,177.43 L528.33,178.49" fill="none" stroke="#1808c8" stroke-width="2.2" stroke-linejoin="round" />
<path d="M443.91,44.25 L444.12,44.32 L444.33,44.39 L444.53,44.46 L444.74,44.52 L444.95,44.59 L445.16,44.66 L445.37,44.73 L445.58,44.80 L445.78,44.87 L445.99,44.94 L446.20,45.01 L446.41,45.08 L446.62,45.15 L446.83,45.23 L447.04,45.30 L447.24,45.37 L447.45,45.44 L447.66,45.52 L447.87,45.59 L448.08,45.67 L448.29,45.74 L448.49,45.82 L448.70,45.90 L448.91,45.97 L449.12,46.05 L449.33,46.13 L449.54,46.20 L449.74,46.28 L449.95,46.36 L450.16,46.44 L450.37,46.52 L450.58,46.60 L450.79,46.68 L450.99,46.76 L451.20,46.85 L451.41,46.93 L451.62,47.01 L451.83,47.10 L452.04,47.18 L452.24,47.26 L452.45,47.35 L452.66,47.43 L452.87,47.52 L453.08,47.61 L453.29,47.69 L453.49,47.78 L453.70,47.87 L453.91,47.96 L454.12,48.05 L454.33,48.14 L454.54,48.23 L454.74,48.32 L454.95,48.41 L455.16,48.50 L455.37,48.59 L455.58,48.69 L455.79,48.78 L456.00,48.87 L456.20,48.97 L456.41,49.06 L456.62,49.16 L456.83,49.25 L457.04,49.35 L457.25,49.45 L457.45,49.55 L457.66,49.64 L457.87,49.74 L458.08,49.84 L458.29,49.94 L458.50,50.04 L458.70,50.14 L458.91,50.25 L459.12,50.35 L459.33,50.45 L459.54,50.55 L459.75,50.66 L459.95,50.76 L460.16,50.87 L460.37,50.97 L460.58,51.08 L460.79,51.19 L461.00,51.30 L461.20,51.40 L461.41,51.51 L461.62,51.62 L461.83,51.73 L462.04,51.84 L462.25,51.95 L462.45,52.07 L462.66,52.18 L462.87,52.29 L463.08,52.41 L463.29,52.52 L463.50,52.63 L463.70,52.75 L463.91,52.87 L464.12,52.98 L464.33,53.10 L464.54,53.22 L464.75,53.34 L464.96,53.46 L465.16,53.57 L465.37,53.70 L465.58,53.82 L465.79,53.94 L466.00,54.06 L466.21,54.18 L466.41,54.31 L466.62,54.43 L466.83,54.56 L467.04,54.68 L467.25,54.81 L467.46,54.93 L467.66,55.06 L467.87,55.19 L468.08,55.32 L468.29,55.45 L468.50,55.58 L468.71,55.71 L468.91,55.84 L469.12,55.97 L469.33,56.10 L469.54,56.23 L469.75,56.37 L469.96,56.52 L470.16,56.67 L470.37,56.82 L470.58,56.99 L470.79,57.16 L471.00,57.33 L471.21,57.52 L471.41,57.71 L471.62,57.90 L471.83,58.10 L472.04,58.31 L472.25,58.53 L472.46,58.75 L472.66,58.97 L472.87,59.21 L473.08,59.45 L473.29,59.69 L473.50,59.95 L473.71,60.20 L473.92,60.47 L474.12,60.74 L474.33,61.02 L474.54,61.30 L474.75,61.59 L474.96,61.89 L475.17,62.19 L475.37,62.50 L475.58,62.82 L475.79,63.14 L476.00,63.47 L476.21,63.81 L476.42,64.15 L476.62,64.49 L476.83,64.85 L477.04,65.21 L477.25,65.58 L477.46,65.95 L477.67,66.33 L477.87,66.71 L478.08,67.11 L478.29,67.50 L478.50,67.91 L478.71,68.32 L478.92,68.74 L479.12,69.16 L479.33,69.59 L479.54,70.03 L479.75,70.47 L479.96,70.92 L480.17,71.37 L480.37,71.83 L480.58,72.30 L480.79,72.77 L481.00,73.26 L481.21,73.74 L481.42,74.23 L481.62,74.73 L481.83,75.24 L482.04,75.75 L482.25,76.27 L482.46,76.79 L482.67,77.32 L482.88,77.86 L483.08,78.40 L483.29,78.95 L483.50,79.51 L483.71,80.07 L483.92,80.64 L484.13,81.21 L484.33,81.80 L484.54,82.38 L484.75,82.98 L484.96,83.58 L485.17,84.18 L485.38,84.79 L485.58,85.41 L485.79,86.04 L486.00,86.67 L486.21,87.30 L486.42,87.95 L486.63,88.60 L486.83,89.25 L487.04,89.91 L487.25,90.58 L487.46,91.26 L487.67,91.94 L487.88,92.63 L488.08,93.32 L488.29,94.02 L488.50,94.72 L488.71,95.44 L488.92,96.15 L489.13,96.88 L489.33,97.61 L489.54,98.34 L489.75,99.09 L489.96,99.84 L490.17,100.59 L490.38,101.35 L490.58,102.12 L490.79,102.89 L491.00,103.67 L491.21,104.46 L491.42,105.25 L491.63,106.05 L491.84,106.86 L492.04,107.67 L492.25,108.48 L492.46,109.31 L492.67,110.14 L492.88,110.97 L493.09,111.81 L493.29,112.66 L493.50,113.52 L493.71,114.38 L493.92,115.24 L494.13,116.12 L494.34,116.99 L494.54,117.88 L494.75,118.77 L494.96,119.67 L495.17,120.57 L495.38,121.48 L495.59,122.40 L495.79,123.32 L496.00,124.25 L496.21,125.18 L496.42,126.12 L496.63,127.07 L496.84,128.02 L497.04,128.98 L497.25,129.94 L497.46,130.91 L497.67,131.89 L497.88,132.87 L498.09,133.86 L498.29,134.85 L498.50,135.86 L498.71,136.86 L498.92,137.88 L499.13,138.90 L499.34,139.92 L499.54,140.95 L499.75,141.99 L499.96,143.03 L500.17,144.08 L500.38,145.14 L500.59,146.20 L500.80,147.27 L501.00,148.34 L501.21,149.42 L501.42,150.51 L501.63,151.60 L501.84,152.70 L502.05,153.81 L502.25,154.92 L502.46,156.03 L502.67,157.15 L502.88,158.28 L503.09,159.42 L503.30,160.56 L503.50,161.71 L503.71,162.86 L503.92,164.02 L504.13,165.18 L504.34,166.35 L504.55,167.53 L504.75,168.71 L504.96,169.90 L505.17,171.10 L505.38,172.30 L505.59,173.51 L505.80,174.72 L506.00,175.94 L506.21,177.16" fill="none" stroke="#000000" stroke-width="2.2" stroke-linejoin="round" />
</g>
<text transform="matrix(1.0 0 0 1.14 157.00 43.40)" font-size="13" text-anchor="start" textLength="43.0" lengthAdjust="spacingAndGlyphs">4.1 keV</text>
<text transform="matrix(1.0 0 0 1.14 318.00 43.40)" font-size="13" text-anchor="start" textLength="35.5" lengthAdjust="spacingAndGlyphs">3.8μm</text>
<text transform="translate(12.10,150.20) rotate(-90) scale(1,1.05)" font-size="13.5" textLength="99" lengthAdjust="spacingAndGlyphs">νL<tspan font-size="10.5" dy="4.6">ν</tspan><tspan dy="-4.6"> [normalized]</tspan></text>
<text transform="translate(387.80,148.60) rotate(-90) scale(1,1.14)" font-size="13" textLength="95.6" lengthAdjust="spacingAndGlyphs">spectral index, α</text>
<rect x="44.80" y="249.80" width="160.70" height="148.00" fill="none" stroke="#686868" stroke-width="1.3"/>
<rect x="205.50" y="249.80" width="160.40" height="148.00" fill="none" stroke="#686868" stroke-width="1.3"/>
<rect x="422.60" y="249.80" width="165.80" height="148.00" fill="none" stroke="#686868" stroke-width="1.3"/>
<path d="M44.80,397.80 h1.6 M205.50,397.80 h-1.6" stroke="#686868" stroke-width="1"/>
<path d="M44.80,336.13 h1.6 M205.50,336.13 h-1.6" stroke="#686868" stroke-width="1"/>
<path d="M44.80,274.47 h1.6 M205.50,274.47 h-1.6" stroke="#686868" stroke-width="1"/>
<path d="M44.80,249.80 v1.6 M44.80,397.80 v-1.6" stroke="#686868" stroke-width="1"/>
<path d="M84.97,249.80 v1.6 M84.97,397.80 v-1.6" stroke="#686868" stroke-width="1"/>
<path d="M125.15,249.80 v1.6 M125.15,397.80 v-1.6" stroke="#686868" stroke-width="1"/>
<path d="M165.32,249.80 v1.6 M165.32,397.80 v-1.6" stroke="#686868" stroke-width="1"/>
<path d="M205.50,249.80 v1.6 M205.50,397.80 v-1.6" stroke="#686868" stroke-width="1"/>
<text transform="matrix(1.0 0 0 1.17 41.30 402.40)" font-size="13" text-anchor="end" >0</text>
<text transform="matrix(1.0 0 0 1.17 41.30 340.73)" font-size="13" text-anchor="end" >0.5</text>
<text transform="matrix(1.0 0 0 1.17 41.30 279.07)" font-size="13" text-anchor="end" >1</text>
<text transform="matrix(1.0 0 0 1.17 44.80 413.20)" font-size="13" text-anchor="middle" >0</text>
<text transform="matrix(1.0 0 0 1.17 84.97 413.20)" font-size="13" text-anchor="middle" >50</text>
<text transform="matrix(1.0 0 0 1.17 125.15 413.20)" font-size="13" text-anchor="middle" >100</text>
<text transform="matrix(1.0 0 0 1.17 165.32 413.20)" font-size="13" text-anchor="middle" >150</text>
<text x="82.90" y="426.20" font-size="15.2" text-anchor="start" textLength="84.5" lengthAdjust="spacingAndGlyphs">time [minutes]</text>
<clipPath id="c11"><rect x="44.8" y="249.8" width="160.7" height="149.3"/></clipPath>
<g clip-path="url(#c11)">
<path d="M44.80,397.80 L45.20,397.80 L45.60,397.80 L46.01,397.80 L46.41,397.80 L46.81,397.80 L47.21,397.79 L47.61,397.79 L48.01,397.79 L48.42,397.79 L48.82,397.79 L49.22,397.79 L49.62,397.78 L50.02,397.78 L50.42,397.78 L50.83,397.77 L51.23,397.77 L51.63,397.76 L52.03,397.76 L52.43,397.75 L52.83,397.74 L53.24,397.73 L53.64,397.72 L54.04,397.71 L54.44,397.69 L54.84,397.67 L55.25,397.65 L55.65,397.63 L56.05,397.60 L56.45,397.57 L56.85,397.53 L57.25,397.49 L57.66,397.45 L58.06,397.39 L58.46,397.33 L58.86,397.27 L59.26,397.19 L59.66,397.10 L60.07,397.00 L60.47,396.89 L60.87,396.77 L61.27,396.63 L61.67,396.48 L62.08,396.31 L62.48,396.11 L62.88,395.90 L63.28,395.66 L63.68,395.40 L64.08,395.11 L64.49,394.79 L64.89,394.44 L65.29,394.05 L65.69,393.62 L66.09,393.16 L66.49,392.65 L66.90,392.09 L67.30,391.49 L67.70,390.83 L68.10,390.12 L68.50,389.35 L68.91,388.51 L69.31,387.61 L69.71,386.65 L70.11,385.61 L70.51,384.50 L70.91,383.31 L71.32,382.04 L71.72,380.69 L72.12,379.25 L72.52,377.73 L72.92,376.12 L73.32,374.42 L73.73,372.62 L74.13,370.74 L74.53,368.76 L74.93,366.69 L75.33,364.53 L75.73,362.28 L76.14,359.94 L76.54,357.52 L76.94,355.01 L77.34,352.42 L77.74,349.76 L78.15,347.02 L78.55,344.22 L78.95,341.36 L79.35,338.44 L79.75,335.48 L80.15,332.49 L80.56,329.46 L80.96,326.41 L81.36,323.36 L81.76,320.30 L82.16,317.25 L82.56,314.22 L82.97,311.23 L83.37,308.27 L83.77,305.38 L84.17,302.54 L84.57,299.79 L84.97,297.13 L85.38,294.57 L85.78,292.12 L86.18,289.79 L86.58,287.60 L86.98,285.55 L87.39,283.66 L87.79,281.92 L88.19,280.36 L88.59,278.98 L88.99,277.79 L89.39,276.78 L89.80,275.98 L90.20,275.37 L90.60,274.97 L91.00,274.77 L91.40,274.78 L91.80,274.99 L92.21,275.41 L92.61,276.04 L93.01,276.86 L93.41,277.88 L93.81,279.10 L94.22,280.49 L94.62,282.07 L95.02,283.81 L95.42,285.72 L95.82,287.78 L96.22,289.98 L96.63,292.32 L97.03,294.78 L97.43,297.35 L97.83,300.02 L98.23,302.79 L98.63,305.62 L99.04,308.53 L99.44,311.48 L99.84,314.48 L100.24,317.51 L100.64,320.56 L101.04,323.62 L101.45,326.68 L101.85,329.72 L102.25,332.75 L102.65,335.74 L103.05,338.70 L103.46,341.61 L103.86,344.46 L104.26,347.26 L104.66,349.99 L105.06,352.65 L105.46,355.23 L105.87,357.73 L106.27,360.15 L106.67,362.48 L107.07,364.72 L107.47,366.88 L107.87,368.94 L108.28,370.91 L108.68,372.78 L109.08,374.57 L109.48,376.26 L109.88,377.86 L110.29,379.38 L110.69,380.81 L111.09,382.15 L111.49,383.41 L111.89,384.60 L112.29,385.70 L112.70,386.73 L113.10,387.69 L113.50,388.59 L113.90,389.42 L114.30,390.18 L114.70,390.89 L115.11,391.54 L115.51,392.14 L115.91,392.69 L116.31,393.20 L116.71,393.66 L117.11,394.08 L117.52,394.47 L117.92,394.82 L118.32,395.14 L118.72,395.42 L119.12,395.68 L119.53,395.92 L119.93,396.13 L120.33,396.32 L120.73,396.49 L121.13,396.65 L121.53,396.78 L121.94,396.90 L122.34,397.01 L122.74,397.11 L123.14,397.20 L123.54,397.27 L123.94,397.34 L124.35,397.40 L124.75,397.45 L125.15,397.50 L125.55,397.54 L125.95,397.57 L126.36,397.60 L126.76,397.63 L127.16,397.65 L127.56,397.67 L127.96,397.69 L128.36,397.71 L128.77,397.72 L129.17,397.73 L129.57,397.74 L129.97,397.75 L130.37,397.76 L130.77,397.76 L131.18,397.77 L131.58,397.77 L131.98,397.78 L132.38,397.78 L132.78,397.78 L133.19,397.79 L133.59,397.79 L133.99,397.79 L134.39,397.79 L134.79,397.79 L135.19,397.79 L135.60,397.80 L136.00,397.80 L136.40,397.80 L136.80,397.80 L137.20,397.80 L137.60,397.80 L138.01,397.80 L138.41,397.80 L138.81,397.80 L139.21,397.80 L139.61,397.80 L140.01,397.80 L140.42,397.80 L140.82,397.80 L141.22,397.80 L141.62,397.80 L142.02,397.80 L142.43,397.80 L142.83,397.80 L143.23,397.80 L143.63,397.80 L144.03,397.80 L144.43,397.80 L144.84,397.80 L145.24,397.80 L145.64,397.80 L146.04,397.80 L146.44,397.80 L146.84,397.80 L147.25,397.80 L147.65,397.80 L148.05,397.80 L148.45,397.80 L148.85,397.80 L149.25,397.80 L149.66,397.80 L150.06,397.80 L150.46,397.80 L150.86,397.80 L151.26,397.80 L151.67,397.80 L152.07,397.80 L152.47,397.80 L152.87,397.80 L153.27,397.80 L153.67,397.80 L154.08,397.80 L154.48,397.80 L154.88,397.80 L155.28,397.80 L155.68,397.80 L156.08,397.80 L156.49,397.80 L156.89,397.80 L157.29,397.80 L157.69,397.80 L158.09,397.80 L158.50,397.80 L158.90,397.80 L159.30,397.80 L159.70,397.80 L160.10,397.80 L160.50,397.80 L160.91,397.80 L161.31,397.80 L161.71,397.80 L162.11,397.80 L162.51,397.80 L162.91,397.80 L163.32,397.80 L163.72,397.80 L164.12,397.80 L164.52,397.80 L164.92,397.80 L165.32,397.80 L165.73,397.80 L166.13,397.80 L166.53,397.80 L166.93,397.80 L167.33,397.80 L167.74,397.80 L168.14,397.80 L168.54,397.80 L168.94,397.80 L169.34,397.80 L169.74,397.80 L170.15,397.80 L170.55,397.80 L170.95,397.80 L171.35,397.80 L171.75,397.80 L172.15,397.80 L172.56,397.80 L172.96,397.80 L173.36,397.80 L173.76,397.80 L174.16,397.80 L174.57,397.80 L174.97,397.80 L175.37,397.80 L175.77,397.80 L176.17,397.80 L176.57,397.80 L176.98,397.80 L177.38,397.80 L177.78,397.80 L178.18,397.80 L178.58,397.80 L178.98,397.80 L179.39,397.80 L179.79,397.80 L180.19,397.80 L180.59,397.80 L180.99,397.80 L181.39,397.80 L181.80,397.80 L182.20,397.80 L182.60,397.80 L183.00,397.80 L183.40,397.80 L183.81,397.80 L184.21,397.80 L184.61,397.80 L185.01,397.80 L185.41,397.80 L185.81,397.80 L186.22,397.80 L186.62,397.80 L187.02,397.80 L187.42,397.80 L187.82,397.80 L188.22,397.80 L188.63,397.80 L189.03,397.80 L189.43,397.80 L189.83,397.80 L190.23,397.80 L190.64,397.80 L191.04,397.80 L191.44,397.80 L191.84,397.80 L192.24,397.80 L192.64,397.80 L193.05,397.80 L193.45,397.80 L193.85,397.80 L194.25,397.80 L194.65,397.80 L195.05,397.80 L195.46,397.80 L195.86,397.80 L196.26,397.80 L196.66,397.80 L197.06,397.80 L197.46,397.80 L197.87,397.80 L198.27,397.80 L198.67,397.80 L199.07,397.80 L199.47,397.80 L199.88,397.80 L200.28,397.80 L200.68,397.80 L201.08,397.80 L201.48,397.80 L201.88,397.80 L202.29,397.80 L202.69,397.80 L203.09,397.80 L203.49,397.80 L203.89,397.80 L204.29,397.80 L204.70,397.80 L205.10,397.80 L205.50,397.80" fill="none" stroke="#000000" stroke-width="2.2" stroke-dasharray="6.3,4.7" stroke-linejoin="round" stroke-dashoffset="0"/>
</g>
<path d="M205.50,397.80 h1.6 M365.90,397.80 h-1.6" stroke="#686868" stroke-width="1"/>
<path d="M205.50,336.13 h1.6 M365.90,336.13 h-1.6" stroke="#686868" stroke-width="1"/>
<path d="M205.50,274.47 h1.6 M365.90,274.47 h-1.6" stroke="#686868" stroke-width="1"/>
<path d="M205.50,249.80 v1.6 M205.50,397.80 v-1.6" stroke="#686868" stroke-width="1"/>
<path d="M245.60,249.80 v1.6 M245.60,397.80 v-1.6" stroke="#686868" stroke-width="1"/>
<path d="M285.70,249.80 v1.6 M285.70,397.80 v-1.6" stroke="#686868" stroke-width="1"/>
<path d="M325.80,249.80 v1.6 M325.80,397.80 v-1.6" stroke="#686868" stroke-width="1"/>
<path d="M365.90,249.80 v1.6 M365.90,397.80 v-1.6" stroke="#686868" stroke-width="1"/>
<text transform="matrix(1.0 0 0 1.17 202.00 402.40)" font-size="13" text-anchor="end" >0</text>
<text transform="matrix(1.0 0 0 1.17 202.00 340.73)" font-size="13" text-anchor="end" >0.5</text>
<text transform="matrix(1.0 0 0 1.17 202.00 279.07)" font-size="13" text-anchor="end" >1</text>
<text transform="matrix(1.0 0 0 1.17 205.50 413.20)" font-size="13" text-anchor="middle" >0</text>
<text transform="matrix(1.0 0 0 1.17 245.60 413.20)" font-size="13" text-anchor="middle" >50</text>
<text transform="matrix(1.0 0 0 1.17 285.70 413.20)" font-size="13" text-anchor="middle" >100</text>
<text transform="matrix(1.0 0 0 1.17 325.80 413.20)" font-size="13" text-anchor="middle" >150</text>
<text transform="matrix(1.0 0 0 1.17 365.90 413.20)" font-size="13" text-anchor="middle" >200</text>
<text x="243.45" y="426.20" font-size="15.2" text-anchor="start" textLength="84.5" lengthAdjust="spacingAndGlyphs">time [minutes]</text>
<clipPath id="c21"><rect x="205.5" y="249.8" width="160.39999999999998" height="149.3"/></clipPath>
<g clip-path="url(#c21)">
<path d="M205.50,397.80 L205.90,397.80 L206.30,397.80 L206.70,397.80 L207.10,397.80 L207.50,397.80 L207.91,397.80 L208.31,397.80 L208.71,397.80 L209.11,397.80 L209.51,397.80 L209.91,397.80 L210.31,397.80 L210.71,397.80 L211.11,397.80 L211.51,397.80 L211.92,397.80 L212.32,397.80 L212.72,397.80 L213.12,397.80 L213.52,397.80 L213.92,397.79 L214.32,397.79 L214.72,397.79 L215.12,397.79 L215.53,397.79 L215.93,397.78 L216.33,397.78 L216.73,397.78 L217.13,397.77 L217.53,397.77 L217.93,397.76 L218.33,397.75 L218.73,397.74 L219.13,397.73 L219.53,397.71 L219.94,397.69 L220.34,397.67 L220.74,397.65 L221.14,397.62 L221.54,397.58 L221.94,397.54 L222.34,397.49 L222.74,397.44 L223.14,397.38 L223.54,397.30 L223.95,397.22 L224.35,397.12 L224.75,397.00 L225.15,396.88 L225.55,396.73 L225.95,396.56 L226.35,396.37 L226.75,396.15 L227.15,395.91 L227.56,395.63 L227.96,395.33 L228.36,394.98 L228.76,394.59 L229.16,394.16 L229.56,393.69 L229.96,393.16 L230.36,392.57 L230.76,391.93 L231.16,391.22 L231.56,390.45 L231.97,389.60 L232.37,388.68 L232.77,387.68 L233.17,386.59 L233.57,385.42 L233.97,384.16 L234.37,382.80 L234.77,381.35 L235.17,379.79 L235.57,378.14 L235.98,376.38 L236.38,374.52 L236.78,372.55 L237.18,370.48 L237.58,368.31 L237.98,366.03 L238.38,363.65 L238.78,361.17 L239.18,358.60 L239.58,355.94 L239.99,353.20 L240.39,350.37 L240.79,347.47 L241.19,344.51 L241.59,341.49 L241.99,338.41 L242.39,335.30 L242.79,332.16 L243.19,329.00 L243.59,325.83 L244.00,322.65 L244.40,319.49 L244.80,316.36 L245.20,313.26 L245.60,310.20 L246.00,307.20 L246.40,304.27 L246.80,301.42 L247.20,298.67 L247.60,296.01 L248.01,293.46 L248.41,291.04 L248.81,288.74 L249.21,286.58 L249.61,284.57 L250.01,282.71 L250.41,281.01 L250.81,279.48 L251.21,278.12 L251.61,276.93 L252.02,275.92 L252.42,275.09 L252.82,274.44 L253.22,273.98 L253.62,273.70 L254.02,273.61 L254.42,273.70 L254.82,273.97 L255.22,274.42 L255.62,275.05 L256.03,275.86 L256.43,276.83 L256.83,277.97 L257.23,279.27 L257.63,280.73 L258.03,282.34 L258.43,284.09 L258.83,285.98 L259.23,287.99 L259.63,290.13 L260.04,292.39 L260.44,294.75 L260.84,297.21 L261.24,299.76 L261.64,302.40 L262.04,305.10 L262.44,307.87 L262.84,310.70 L263.24,313.57 L263.64,316.48 L264.05,319.41 L264.45,322.37 L264.85,325.33 L265.25,328.30 L265.65,331.26 L266.05,334.20 L266.45,337.12 L266.85,340.01 L267.25,342.86 L267.65,345.66 L268.06,348.41 L268.46,351.10 L268.86,353.73 L269.26,356.29 L269.66,358.78 L270.06,361.19 L270.46,363.51 L270.86,365.75 L271.26,367.91 L271.66,369.98 L272.07,371.95 L272.47,373.84 L272.87,375.63 L273.27,377.33 L273.67,378.94 L274.07,380.46 L274.47,381.90 L274.87,383.24 L275.27,384.50 L275.68,385.68 L276.08,386.78 L276.48,387.80 L276.88,388.74 L277.28,389.62 L277.68,390.42 L278.08,391.17 L278.48,391.85 L278.88,392.47 L279.28,393.04 L279.69,393.56 L280.09,394.03 L280.49,394.46 L280.89,394.84 L281.29,395.19 L281.69,395.50 L282.09,395.78 L282.49,396.03 L282.89,396.25 L283.29,396.45 L283.69,396.62 L284.10,396.78 L284.50,396.91 L284.90,397.04 L285.30,397.14 L285.70,397.23 L286.10,397.31 L286.50,397.38 L286.90,397.44 L287.30,397.50 L287.70,397.54 L288.11,397.58 L288.51,397.62 L288.91,397.64 L289.31,397.67 L289.71,397.69 L290.11,397.71 L290.51,397.72 L290.91,397.74 L291.31,397.75 L291.71,397.76 L292.12,397.76 L292.52,397.77 L292.92,397.78 L293.32,397.78 L293.72,397.78 L294.12,397.79 L294.52,397.79 L294.92,397.79 L295.32,397.79 L295.72,397.79 L296.13,397.80 L296.53,397.80 L296.93,397.80 L297.33,397.80 L297.73,397.80 L298.13,397.80 L298.53,397.80 L298.93,397.80 L299.33,397.80 L299.74,397.80 L300.14,397.80 L300.54,397.80 L300.94,397.80 L301.34,397.80 L301.74,397.80 L302.14,397.80 L302.54,397.80 L302.94,397.80 L303.34,397.80 L303.75,397.80 L304.15,397.80 L304.55,397.80 L304.95,397.80 L305.35,397.80 L305.75,397.80 L306.15,397.80 L306.55,397.80 L306.95,397.80 L307.35,397.80 L307.75,397.80 L308.16,397.80 L308.56,397.80 L308.96,397.80 L309.36,397.80 L309.76,397.80 L310.16,397.80 L310.56,397.80 L310.96,397.80 L311.36,397.80 L311.76,397.80 L312.17,397.80 L312.57,397.80 L312.97,397.80 L313.37,397.80 L313.77,397.80 L314.17,397.80 L314.57,397.80 L314.97,397.80 L315.37,397.80 L315.77,397.80 L316.18,397.80 L316.58,397.80 L316.98,397.80 L317.38,397.80 L317.78,397.80 L318.18,397.80 L318.58,397.80 L318.98,397.80 L319.38,397.80 L319.78,397.80 L320.19,397.80 L320.59,397.80 L320.99,397.80 L321.39,397.80 L321.79,397.80 L322.19,397.80 L322.59,397.80 L322.99,397.80 L323.39,397.80 L323.79,397.80 L324.20,397.80 L324.60,397.80 L325.00,397.80 L325.40,397.80 L325.80,397.80 L326.20,397.80 L326.60,397.80 L327.00,397.80 L327.40,397.80 L327.80,397.80 L328.21,397.80 L328.61,397.80 L329.01,397.80 L329.41,397.80 L329.81,397.80 L330.21,397.80 L330.61,397.80 L331.01,397.80 L331.41,397.80 L331.81,397.80 L332.22,397.80 L332.62,397.80 L333.02,397.80 L333.42,397.80 L333.82,397.80 L334.22,397.80 L334.62,397.80 L335.02,397.80 L335.42,397.80 L335.82,397.80 L336.23,397.80 L336.63,397.80 L337.03,397.80 L337.43,397.80 L337.83,397.80 L338.23,397.80 L338.63,397.80 L339.03,397.80 L339.43,397.80 L339.83,397.80 L340.24,397.80 L340.64,397.80 L341.04,397.80 L341.44,397.80 L341.84,397.80 L342.24,397.80 L342.64,397.80 L343.04,397.80 L343.44,397.80 L343.84,397.80 L344.25,397.80 L344.65,397.80 L345.05,397.80 L345.45,397.80 L345.85,397.80 L346.25,397.80 L346.65,397.80 L347.05,397.80 L347.45,397.80 L347.86,397.80 L348.26,397.80 L348.66,397.80 L349.06,397.80 L349.46,397.80 L349.86,397.80 L350.26,397.80 L350.66,397.80 L351.06,397.80 L351.46,397.80 L351.87,397.80 L352.27,397.80 L352.67,397.80 L353.07,397.80 L353.47,397.80 L353.87,397.80 L354.27,397.80 L354.67,397.80 L355.07,397.80 L355.47,397.80 L355.88,397.80 L356.28,397.80 L356.68,397.80 L357.08,397.80 L357.48,397.80 L357.88,397.80 L358.28,397.80 L358.68,397.80 L359.08,397.80 L359.48,397.80 L359.88,397.80 L360.29,397.80 L360.69,397.80 L361.09,397.80 L361.49,397.80 L361.89,397.80 L362.29,397.80 L362.69,397.80 L363.09,397.80 L363.49,397.80 L363.89,397.80 L364.30,397.80 L364.70,397.80 L365.10,397.80 L365.50,397.80 L365.90,397.80" fill="none" stroke="#d40c16" stroke-width="2.2" stroke-linejoin="round" />
<path d="M205.50,397.80 L205.90,397.80 L206.30,397.80 L206.70,397.80 L207.10,397.80 L207.50,397.80 L207.91,397.80 L208.31,397.80 L208.71,397.80 L209.11,397.79 L209.51,397.79 L209.91,397.79 L210.31,397.79 L210.71,397.79 L211.11,397.79 L211.51,397.78 L211.92,397.78 L212.32,397.78 L212.72,397.78 L213.12,397.77 L213.52,397.77 L213.92,397.76 L214.32,397.75 L214.72,397.75 L215.12,397.74 L215.53,397.73 L215.93,397.72 L216.33,397.70 L216.73,397.69 L217.13,397.67 L217.53,397.65 L217.93,397.63 L218.33,397.60 L218.73,397.57 L219.13,397.54 L219.53,397.50 L219.94,397.46 L220.34,397.41 L220.74,397.35 L221.14,397.29 L221.54,397.23 L221.94,397.15 L222.34,397.06 L222.74,396.97 L223.14,396.86 L223.54,396.74 L223.95,396.61 L224.35,396.46 L224.75,396.30 L225.15,396.12 L225.55,395.92 L225.95,395.70 L226.35,395.46 L226.75,395.20 L227.15,394.91 L227.56,394.59 L227.96,394.24 L228.36,393.87 L228.76,393.45 L229.16,393.01 L229.56,392.52 L229.96,391.99 L230.36,391.42 L230.76,390.81 L231.16,390.15 L231.56,389.43 L231.97,388.67 L232.37,387.85 L232.77,386.97 L233.17,386.03 L233.57,385.03 L233.97,383.96 L234.37,382.83 L234.77,381.63 L235.17,380.36 L235.57,379.02 L235.98,377.60 L236.38,376.11 L236.78,374.54 L237.18,372.90 L237.58,371.18 L237.98,369.38 L238.38,367.50 L238.78,365.55 L239.18,363.52 L239.58,361.42 L239.99,359.24 L240.39,357.00 L240.79,354.68 L241.19,352.30 L241.59,349.86 L241.99,347.36 L242.39,344.81 L242.79,342.21 L243.19,339.56 L243.59,336.88 L244.00,334.16 L244.40,331.42 L244.80,328.66 L245.20,325.88 L245.60,323.10 L246.00,320.32 L246.40,317.55 L246.80,314.80 L247.20,312.08 L247.60,309.39 L248.01,306.74 L248.41,304.15 L248.81,301.62 L249.21,299.15 L249.61,296.76 L250.01,294.46 L250.41,292.24 L250.81,290.13 L251.21,288.13 L251.61,286.24 L252.02,284.47 L252.42,282.83 L252.82,281.33 L253.22,279.96 L253.62,278.73 L254.02,277.65 L254.42,276.73 L254.82,275.95 L255.22,275.33 L255.62,274.87 L256.03,274.57 L256.43,274.43 L256.83,274.45 L257.23,274.62 L257.63,274.96 L258.03,275.44 L258.43,276.08 L258.83,276.86 L259.23,277.80 L259.63,278.87 L260.04,280.07 L260.44,281.41 L260.84,282.87 L261.24,284.45 L261.64,286.14 L262.04,287.93 L262.44,289.83 L262.84,291.81 L263.24,293.88 L263.64,296.03 L264.05,298.24 L264.45,300.52 L264.85,302.85 L265.25,305.22 L265.65,307.64 L266.05,310.09 L266.45,312.56 L266.85,315.05 L267.25,317.55 L267.65,320.06 L268.06,322.56 L268.46,325.06 L268.86,327.54 L269.26,330.01 L269.66,332.45 L270.06,334.86 L270.46,337.25 L270.86,339.59 L271.26,341.90 L271.66,344.16 L272.07,346.37 L272.47,348.54 L272.87,350.66 L273.27,352.72 L273.67,354.72 L274.07,356.67 L274.47,358.57 L274.87,360.40 L275.27,362.17 L275.68,363.89 L276.08,365.55 L276.48,367.14 L276.88,368.68 L277.28,370.16 L277.68,371.58 L278.08,372.94 L278.48,374.25 L278.88,375.50 L279.28,376.69 L279.69,377.84 L280.09,378.93 L280.49,379.97 L280.89,380.96 L281.29,381.91 L281.69,382.81 L282.09,383.66 L282.49,384.47 L282.89,385.24 L283.29,385.97 L283.69,386.67 L284.10,387.32 L284.50,387.94 L284.90,388.53 L285.30,389.09 L285.70,389.61 L286.10,390.11 L286.50,390.57 L286.90,391.02 L287.30,391.43 L287.70,391.82 L288.11,392.19 L288.51,392.54 L288.91,392.87 L289.31,393.18 L289.71,393.46 L290.11,393.74 L290.51,393.99 L290.91,394.23 L291.31,394.46 L291.71,394.67 L292.12,394.87 L292.52,395.06 L292.92,395.23 L293.32,395.40 L293.72,395.55 L294.12,395.70 L294.52,395.83 L294.92,395.96 L295.32,396.08 L295.72,396.19 L296.13,396.29 L296.53,396.39 L296.93,396.48 L297.33,396.57 L297.73,396.65 L298.13,396.72 L298.53,396.79 L298.93,396.86 L299.33,396.92 L299.74,396.98 L300.14,397.03 L300.54,397.08 L300.94,397.13 L301.34,397.18 L301.74,397.22 L302.14,397.25 L302.54,397.29 L302.94,397.32 L303.34,397.36 L303.75,397.39 L304.15,397.41 L304.55,397.44 L304.95,397.46 L305.35,397.49 L305.75,397.51 L306.15,397.53 L306.55,397.54 L306.95,397.56 L307.35,397.58 L307.75,397.59 L308.16,397.61 L308.56,397.62 L308.96,397.63 L309.36,397.64 L309.76,397.65 L310.16,397.66 L310.56,397.67 L310.96,397.68 L311.36,397.69 L311.76,397.70 L312.17,397.70 L312.57,397.71 L312.97,397.72 L313.37,397.72 L313.77,397.73 L314.17,397.73 L314.57,397.74 L314.97,397.74 L315.37,397.75 L315.77,397.75 L316.18,397.75 L316.58,397.76 L316.98,397.76 L317.38,397.76 L317.78,397.76 L318.18,397.77 L318.58,397.77 L318.98,397.77 L319.38,397.77 L319.78,397.78 L320.19,397.78 L320.59,397.78 L320.99,397.78 L321.39,397.78 L321.79,397.78 L322.19,397.78 L322.59,397.79 L322.99,397.79 L323.39,397.79 L323.79,397.79 L324.20,397.79 L324.60,397.79 L325.00,397.79 L325.40,397.79 L325.80,397.79 L326.20,397.79 L326.60,397.79 L327.00,397.79 L327.40,397.79 L327.80,397.79 L328.21,397.79 L328.61,397.79 L329.01,397.80 L329.41,397.80 L329.81,397.80 L330.21,397.80 L330.61,397.80 L331.01,397.80 L331.41,397.80 L331.81,397.80 L332.22,397.80 L332.62,397.80 L333.02,397.80 L333.42,397.80 L333.82,397.80 L334.22,397.80 L334.62,397.80 L335.02,397.80 L335.42,397.80 L335.82,397.80 L336.23,397.80 L336.63,397.80 L337.03,397.80 L337.43,397.80 L337.83,397.80 L338.23,397.80 L338.63,397.80 L339.03,397.80 L339.43,397.80 L339.83,397.80 L340.24,397.80 L340.64,397.80 L341.04,397.80 L341.44,397.80 L341.84,397.80 L342.24,397.80 L342.64,397.80 L343.04,397.80 L343.44,397.80 L343.84,397.80 L344.25,397.80 L344.65,397.80 L345.05,397.80 L345.45,397.80 L345.85,397.80 L346.25,397.80 L346.65,397.80 L347.05,397.80 L347.45,397.80 L347.86,397.80 L348.26,397.80 L348.66,397.80 L349.06,397.80 L349.46,397.80 L349.86,397.80 L350.26,397.80 L350.66,397.80 L351.06,397.80 L351.46,397.80 L351.87,397.80 L352.27,397.80 L352.67,397.80 L353.07,397.80 L353.47,397.80 L353.87,397.80 L354.27,397.80 L354.67,397.80 L355.07,397.80 L355.47,397.80 L355.88,397.80 L356.28,397.80 L356.68,397.80 L357.08,397.80 L357.48,397.80 L357.88,397.80 L358.28,397.80 L358.68,397.80 L359.08,397.80 L359.48,397.80 L359.88,397.80 L360.29,397.80 L360.69,397.80 L361.09,397.80 L361.49,397.80 L361.89,397.80 L362.29,397.80 L362.69,397.80 L363.09,397.80 L363.49,397.80 L363.89,397.80 L364.30,397.80 L364.70,397.80 L365.10,397.80 L365.50,397.80 L365.90,397.80" fill="none" stroke="#d010d8" stroke-width="2.2" stroke-linejoin="round" />
<path d="M205.50,397.80 L205.90,397.80 L206.30,397.80 L206.70,397.80 L207.10,397.80 L207.50,397.80 L207.91,397.80 L208.31,397.80 L208.71,397.80 L209.11,397.80 L209.51,397.80 L209.91,397.80 L210.31,397.80 L210.71,397.80 L211.11,397.80 L211.51,397.80 L211.92,397.80 L212.32,397.80 L212.72,397.80 L213.12,397.80 L213.52,397.80 L213.92,397.80 L214.32,397.80 L214.72,397.80 L215.12,397.80 L215.53,397.80 L215.93,397.79 L216.33,397.79 L216.73,397.79 L217.13,397.79 L217.53,397.79 L217.93,397.78 L218.33,397.78 L218.73,397.78 L219.13,397.77 L219.53,397.77 L219.94,397.76 L220.34,397.75 L220.74,397.75 L221.14,397.74 L221.54,397.72 L221.94,397.71 L222.34,397.69 L222.74,397.67 L223.14,397.65 L223.54,397.62 L223.95,397.59 L224.35,397.56 L224.75,397.52 L225.15,397.47 L225.55,397.41 L225.95,397.35 L226.35,397.28 L226.75,397.20 L227.15,397.11 L227.56,397.00 L227.96,396.88 L228.36,396.75 L228.76,396.60 L229.16,396.43 L229.56,396.24 L229.96,396.03 L230.36,395.79 L230.76,395.52 L231.16,395.23 L231.56,394.90 L231.97,394.54 L232.37,394.14 L232.77,393.70 L233.17,393.21 L233.57,392.68 L233.97,392.10 L234.37,391.47 L234.77,390.78 L235.17,390.03 L235.57,389.21 L235.98,388.34 L236.38,387.39 L236.78,386.37 L237.18,385.28 L237.58,384.11 L237.98,382.86 L238.38,381.53 L238.78,380.12 L239.18,378.62 L239.58,377.03 L239.99,375.36 L240.39,373.59 L240.79,371.74 L241.19,369.80 L241.59,367.78 L241.99,365.67 L242.39,363.47 L242.79,361.20 L243.19,358.84 L243.59,356.41 L244.00,353.91 L244.40,351.34 L244.80,348.72 L245.20,346.03 L245.60,343.30 L246.00,340.53 L246.40,337.71 L246.80,334.87 L247.20,332.01 L247.60,329.14 L248.01,326.26 L248.41,323.39 L248.81,320.53 L249.21,317.69 L249.61,314.88 L250.01,312.11 L250.41,309.39 L250.81,306.72 L251.21,304.12 L251.61,301.59 L252.02,299.13 L252.42,296.77 L252.82,294.50 L253.22,292.32 L253.62,290.26 L254.02,288.30 L254.42,286.46 L254.82,284.73 L255.22,283.13 L255.62,281.66 L256.03,280.31 L256.43,279.09 L256.83,278.00 L257.23,277.04 L257.63,276.21 L258.03,275.51 L258.43,274.94 L258.83,274.49 L259.23,274.17 L259.63,273.97 L260.04,273.88 L260.44,273.91 L260.84,274.05 L261.24,274.29 L261.64,274.63 L262.04,275.07 L262.44,275.61 L262.84,276.22 L263.24,276.92 L263.64,277.70 L264.05,278.55 L264.45,279.46 L264.85,280.44 L265.25,281.47 L265.65,282.56 L266.05,283.69 L266.45,284.86 L266.85,286.07 L267.25,287.31 L267.65,288.59 L268.06,289.89 L268.46,291.21 L268.86,292.55 L269.26,293.91 L269.66,295.28 L270.06,296.66 L270.46,298.05 L270.86,299.44 L271.26,300.83 L271.66,302.23 L272.07,303.62 L272.47,305.01 L272.87,306.39 L273.27,307.77 L273.67,309.14 L274.07,310.51 L274.47,311.86 L274.87,313.20 L275.27,314.54 L275.68,315.85 L276.08,317.16 L276.48,318.46 L276.88,319.74 L277.28,321.00 L277.68,322.26 L278.08,323.50 L278.48,324.72 L278.88,325.93 L279.28,327.12 L279.69,328.30 L280.09,329.47 L280.49,330.62 L280.89,331.75 L281.29,332.87 L281.69,333.98 L282.09,335.07 L282.49,336.15 L282.89,337.21 L283.29,338.25 L283.69,339.29 L284.10,340.30 L284.50,341.31 L284.90,342.30 L285.30,343.27 L285.70,344.24 L286.10,345.18 L286.50,346.12 L286.90,347.04 L287.30,347.95 L287.70,348.84 L288.11,349.72 L288.51,350.59 L288.91,351.45 L289.31,352.29 L289.71,353.12 L290.11,353.94 L290.51,354.75 L290.91,355.54 L291.31,356.33 L291.71,357.10 L292.12,357.86 L292.52,358.60 L292.92,359.34 L293.32,360.07 L293.72,360.78 L294.12,361.48 L294.52,362.18 L294.92,362.86 L295.32,363.53 L295.72,364.19 L296.13,364.84 L296.53,365.48 L296.93,366.11 L297.33,366.73 L297.73,367.34 L298.13,367.94 L298.53,368.53 L298.93,369.11 L299.33,369.68 L299.74,370.24 L300.14,370.80 L300.54,371.34 L300.94,371.88 L301.34,372.40 L301.74,372.92 L302.14,373.43 L302.54,373.93 L302.94,374.43 L303.34,374.91 L303.75,375.39 L304.15,375.85 L304.55,376.31 L304.95,376.77 L305.35,377.21 L305.75,377.65 L306.15,378.08 L306.55,378.50 L306.95,378.91 L307.35,379.32 L307.75,379.72 L308.16,380.11 L308.56,380.50 L308.96,380.88 L309.36,381.25 L309.76,381.62 L310.16,381.98 L310.56,382.33 L310.96,382.67 L311.36,383.01 L311.76,383.35 L312.17,383.68 L312.57,384.00 L312.97,384.31 L313.37,384.62 L313.77,384.93 L314.17,385.22 L314.57,385.52 L314.97,385.80 L315.37,386.09 L315.77,386.36 L316.18,386.63 L316.58,386.90 L316.98,387.16 L317.38,387.41 L317.78,387.66 L318.18,387.91 L318.58,388.15 L318.98,388.39 L319.38,388.62 L319.78,388.84 L320.19,389.07 L320.59,389.28 L320.99,389.50 L321.39,389.71 L321.79,389.91 L322.19,390.11 L322.59,390.31 L322.99,390.50 L323.39,390.69 L323.79,390.87 L324.20,391.05 L324.60,391.23 L325.00,391.40 L325.40,391.57 L325.80,391.73 L326.20,391.89 L326.60,392.05 L327.00,392.21 L327.40,392.36 L327.80,392.51 L328.21,392.65 L328.61,392.79 L329.01,392.93 L329.41,393.06 L329.81,393.20 L330.21,393.33 L330.61,393.45 L331.01,393.57 L331.41,393.69 L331.81,393.81 L332.22,393.93 L332.62,394.04 L333.02,394.15 L333.42,394.25 L333.82,394.36 L334.22,394.46 L334.62,394.56 L335.02,394.66 L335.42,394.75 L335.82,394.84 L336.23,394.93 L336.63,395.02 L337.03,395.11 L337.43,395.19 L337.83,395.27 L338.23,395.35 L338.63,395.43 L339.03,395.50 L339.43,395.57 L339.83,395.65 L340.24,395.71 L340.64,395.78 L341.04,395.85 L341.44,395.91 L341.84,395.97 L342.24,396.03 L342.64,396.09 L343.04,396.15 L343.44,396.21 L343.84,396.26 L344.25,396.31 L344.65,396.36 L345.05,396.41 L345.45,396.46 L345.85,396.51 L346.25,396.55 L346.65,396.60 L347.05,396.64 L347.45,396.68 L347.86,396.72 L348.26,396.76 L348.66,396.80 L349.06,396.84 L349.46,396.87 L349.86,396.91 L350.26,396.94 L350.66,396.97 L351.06,397.00 L351.46,397.03 L351.87,397.06 L352.27,397.09 L352.67,397.12 L353.07,397.15 L353.47,397.17 L353.87,397.20 L354.27,397.22 L354.67,397.25 L355.07,397.27 L355.47,397.29 L355.88,397.31 L356.28,397.33 L356.68,397.35 L357.08,397.37 L357.48,397.39 L357.88,397.41 L358.28,397.42 L358.68,397.44 L359.08,397.46 L359.48,397.47 L359.88,397.49 L360.29,397.50 L360.69,397.51 L361.09,397.53 L361.49,397.54 L361.89,397.55 L362.29,397.56 L362.69,397.57 L363.09,397.58 L363.49,397.59 L363.89,397.60 L364.30,397.61 L364.70,397.62 L365.10,397.63 L365.50,397.64 L365.90,397.65" fill="none" stroke="#1808c8" stroke-width="2.2" stroke-linejoin="round" />
<path d="M205.50,397.80 L205.90,397.80 L206.30,397.80 L206.70,397.80 L207.10,397.80 L207.50,397.80 L207.91,397.80 L208.31,397.80 L208.71,397.80 L209.11,397.80 L209.51,397.80 L209.91,397.80 L210.31,397.80 L210.71,397.80 L211.11,397.80 L211.51,397.80 L211.92,397.80 L212.32,397.80 L212.72,397.80 L213.12,397.80 L213.52,397.80 L213.92,397.79 L214.32,397.79 L214.72,397.79 L215.12,397.79 L215.53,397.79 L215.93,397.79 L216.33,397.78 L216.73,397.78 L217.13,397.78 L217.53,397.77 L217.93,397.77 L218.33,397.76 L218.73,397.76 L219.13,397.75 L219.53,397.74 L219.94,397.73 L220.34,397.72 L220.74,397.70 L221.14,397.69 L221.54,397.67 L221.94,397.65 L222.34,397.62 L222.74,397.60 L223.14,397.56 L223.54,397.53 L223.95,397.48 L224.35,397.44 L224.75,397.38 L225.15,397.32 L225.55,397.25 L225.95,397.17 L226.35,397.09 L226.75,396.99 L227.15,396.88 L227.56,396.75 L227.96,396.61 L228.36,396.46 L228.76,396.28 L229.16,396.09 L229.56,395.88 L229.96,395.65 L230.36,395.39 L230.76,395.10 L231.16,394.79 L231.56,394.45 L231.97,394.07 L232.37,393.66 L232.77,393.21 L233.17,392.72 L233.57,392.19 L233.97,391.62 L234.37,391.00 L234.77,390.33 L235.17,389.61 L235.57,388.84 L235.98,388.00 L236.38,387.11 L236.78,386.16 L237.18,385.15 L237.58,384.07 L237.98,382.93 L238.38,381.71 L238.78,380.43 L239.18,379.08 L239.58,377.65 L239.99,376.16 L240.39,374.59 L240.79,372.94 L241.19,371.23 L241.59,369.44 L241.99,367.58 L242.39,365.66 L242.79,363.66 L243.19,361.60 L243.59,359.47 L244.00,357.29 L244.40,355.04 L244.80,352.74 L245.20,350.39 L245.60,348.00 L246.00,345.56 L246.40,343.08 L246.80,340.58 L247.20,338.04 L247.60,335.49 L248.01,332.92 L248.41,330.34 L248.81,327.76 L249.21,325.18 L249.61,322.61 L250.01,320.05 L250.41,317.52 L250.81,315.02 L251.21,312.55 L251.61,310.12 L252.02,307.74 L252.42,305.41 L252.82,303.14 L253.22,300.93 L253.62,298.79 L254.02,296.72 L254.42,294.72 L254.82,292.81 L255.22,290.98 L255.62,289.24 L256.03,287.59 L256.43,286.03 L256.83,284.56 L257.23,283.19 L257.63,281.92 L258.03,280.74 L258.43,279.66 L258.83,278.68 L259.23,277.80 L259.63,277.01 L260.04,276.32 L260.44,275.73 L260.84,275.22 L261.24,274.81 L261.64,274.48 L262.04,274.24 L262.44,274.08 L262.84,274.00 L263.24,274.00 L263.64,274.07 L264.05,274.21 L264.45,274.42 L264.85,274.70 L265.25,275.03 L265.65,275.42 L266.05,275.87 L266.45,276.36 L266.85,276.91 L267.25,277.49 L267.65,278.12 L268.06,278.79 L268.46,279.49 L268.86,280.22 L269.26,280.98 L269.66,281.77 L270.06,282.58 L270.46,283.41 L270.86,284.26 L271.26,285.13 L271.66,286.01 L272.07,286.91 L272.47,287.82 L272.87,288.73 L273.27,289.66 L273.67,290.59 L274.07,291.52 L274.47,292.46 L274.87,293.40 L275.27,294.35 L275.68,295.29 L276.08,296.24 L276.48,297.18 L276.88,298.12 L277.28,299.06 L277.68,300.00 L278.08,300.93 L278.48,301.86 L278.88,302.79 L279.28,303.71 L279.69,304.63 L280.09,305.54 L280.49,306.44 L280.89,307.34 L281.29,308.24 L281.69,309.12 L282.09,310.01 L282.49,310.88 L282.89,311.75 L283.29,312.62 L283.69,313.47 L284.10,314.32 L284.50,315.17 L284.90,316.00 L285.30,316.83 L285.70,317.66 L286.10,318.48 L286.50,319.29 L286.90,320.09 L287.30,320.89 L287.70,321.68 L288.11,322.47 L288.51,323.25 L288.91,324.02 L289.31,324.78 L289.71,325.54 L290.11,326.30 L290.51,327.04 L290.91,327.79 L291.31,328.52 L291.71,329.25 L292.12,329.97 L292.52,330.69 L292.92,331.40 L293.32,332.10 L293.72,332.80 L294.12,333.49 L294.52,334.18 L294.92,334.86 L295.32,335.53 L295.72,336.20 L296.13,336.86 L296.53,337.52 L296.93,338.17 L297.33,338.82 L297.73,339.46 L298.13,340.09 L298.53,340.72 L298.93,341.34 L299.33,341.96 L299.74,342.57 L300.14,343.18 L300.54,343.78 L300.94,344.38 L301.34,344.97 L301.74,345.55 L302.14,346.13 L302.54,346.71 L302.94,347.28 L303.34,347.85 L303.75,348.41 L304.15,348.96 L304.55,349.51 L304.95,350.05 L305.35,350.59 L305.75,351.13 L306.15,351.66 L306.55,352.19 L306.95,352.71 L307.35,353.22 L307.75,353.73 L308.16,354.24 L308.56,354.74 L308.96,355.24 L309.36,355.73 L309.76,356.22 L310.16,356.70 L310.56,357.18 L310.96,357.65 L311.36,358.12 L311.76,358.59 L312.17,359.05 L312.57,359.50 L312.97,359.96 L313.37,360.40 L313.77,360.85 L314.17,361.29 L314.57,361.72 L314.97,362.15 L315.37,362.58 L315.77,363.00 L316.18,363.42 L316.58,363.84 L316.98,364.25 L317.38,364.65 L317.78,365.06 L318.18,365.45 L318.58,365.85 L318.98,366.24 L319.38,366.63 L319.78,367.01 L320.19,367.39 L320.59,367.76 L320.99,368.14 L321.39,368.50 L321.79,368.87 L322.19,369.23 L322.59,369.59 L322.99,369.94 L323.39,370.29 L323.79,370.64 L324.20,370.98 L324.60,371.32 L325.00,371.65 L325.40,371.99 L325.80,372.32 L326.20,372.64 L326.60,372.96 L327.00,373.28 L327.40,373.60 L327.80,373.91 L328.21,374.22 L328.61,374.53 L329.01,374.83 L329.41,375.13 L329.81,375.43 L330.21,375.72 L330.61,376.01 L331.01,376.30 L331.41,376.58 L331.81,376.86 L332.22,377.14 L332.62,377.41 L333.02,377.69 L333.42,377.96 L333.82,378.22 L334.22,378.49 L334.62,378.75 L335.02,379.00 L335.42,379.26 L335.82,379.51 L336.23,379.76 L336.63,380.01 L337.03,380.25 L337.43,380.49 L337.83,380.73 L338.23,380.97 L338.63,381.20 L339.03,381.43 L339.43,381.66 L339.83,381.88 L340.24,382.11 L340.64,382.33 L341.04,382.54 L341.44,382.76 L341.84,382.97 L342.24,383.18 L342.64,383.39 L343.04,383.60 L343.44,383.80 L343.84,384.00 L344.25,384.20 L344.65,384.40 L345.05,384.59 L345.45,384.78 L345.85,384.97 L346.25,385.16 L346.65,385.34 L347.05,385.53 L347.45,385.71 L347.86,385.89 L348.26,386.06 L348.66,386.24 L349.06,386.41 L349.46,386.58 L349.86,386.75 L350.26,386.91 L350.66,387.08 L351.06,387.24 L351.46,387.40 L351.87,387.56 L352.27,387.72 L352.67,387.87 L353.07,388.02 L353.47,388.17 L353.87,388.32 L354.27,388.47 L354.67,388.61 L355.07,388.76 L355.47,388.90 L355.88,389.04 L356.28,389.17 L356.68,389.31 L357.08,389.45 L357.48,389.58 L357.88,389.71 L358.28,389.84 L358.68,389.97 L359.08,390.09 L359.48,390.22 L359.88,390.34 L360.29,390.46 L360.69,390.58 L361.09,390.70 L361.49,390.81 L361.89,390.93 L362.29,391.04 L362.69,391.15 L363.09,391.26 L363.49,391.37 L363.89,391.48 L364.30,391.58 L364.70,391.69 L365.10,391.79 L365.50,391.89 L365.90,391.99" fill="none" stroke="#000000" stroke-width="2.2" stroke-linejoin="round" />
</g>
<path d="M422.60,364.16 h1.6 M588.40,364.16 h-1.6" stroke="#686868" stroke-width="1"/>
<path d="M422.60,330.53 h1.6 M588.40,330.53 h-1.6" stroke="#686868" stroke-width="1"/>
<path d="M422.60,296.89 h1.6 M588.40,296.89 h-1.6" stroke="#686868" stroke-width="1"/>
<path d="M422.60,263.25 h1.6 M588.40,263.25 h-1.6" stroke="#686868" stroke-width="1"/>
<path d="M422.60,249.80 v1.6 M422.60,397.80 v-1.6" stroke="#686868" stroke-width="1"/>
<path d="M464.05,249.80 v1.6 M464.05,397.80 v-1.6" stroke="#686868" stroke-width="1"/>
<path d="M505.50,249.80 v1.6 M505.50,397.80 v-1.6" stroke="#686868" stroke-width="1"/>
<path d="M546.95,249.80 v1.6 M546.95,397.80 v-1.6" stroke="#686868" stroke-width="1"/>
<path d="M588.40,249.80 v1.6 M588.40,397.80 v-1.6" stroke="#686868" stroke-width="1"/>
<text transform="matrix(1.0 0 0 1.17 419.10 368.76)" font-size="13" text-anchor="end" >−1</text>
<text transform="matrix(1.0 0 0 1.17 419.10 335.13)" font-size="13" text-anchor="end" >−0.5</text>
<text transform="matrix(1.0 0 0 1.17 419.10 301.49)" font-size="13" text-anchor="end" >0</text>
<text transform="matrix(1.0 0 0 1.17 419.10 267.85)" font-size="13" text-anchor="end" >0.5</text>
<text transform="matrix(1.0 0 0 1.17 422.60 413.20)" font-size="13" text-anchor="middle" >0</text>
<text transform="matrix(1.0 0 0 1.17 464.05 413.20)" font-size="13" text-anchor="middle" >50</text>
<text transform="matrix(1.0 0 0 1.17 505.50 413.20)" font-size="13" text-anchor="middle" >100</text>
<text transform="matrix(1.0 0 0 1.17 546.95 413.20)" font-size="13" text-anchor="middle" >150</text>
<text transform="matrix(1.0 0 0 1.17 588.40 413.20)" font-size="13" text-anchor="middle" >200</text>
<text x="463.25" y="426.20" font-size="15.2" text-anchor="start" textLength="84.5" lengthAdjust="spacingAndGlyphs">time [minutes]</text>
<path d="M422.60,296.89 H588.40" stroke="#c2c2c2" stroke-width="1" stroke-dasharray="5.6,5.4"/>
<clipPath id="c31"><rect x="422.6" y="249.8" width="165.79999999999995" height="148.0"/></clipPath>
<g clip-path="url(#c31)">
<path d="M440.59,318.82 L440.87,318.89 L441.16,318.96 L441.45,319.03 L441.73,319.11 L442.02,319.18 L442.30,319.25 L442.59,319.32 L442.87,319.39 L443.16,319.46 L443.44,319.53 L443.73,319.60 L444.01,319.68 L444.30,319.75 L444.58,319.82 L444.87,319.89 L445.16,319.96 L445.44,320.03 L445.73,320.11 L446.01,320.18 L446.30,320.25 L446.58,320.32 L446.87,320.39 L447.15,320.46 L447.44,320.54 L447.72,320.61 L448.01,320.68 L448.29,320.75 L448.58,320.83 L448.86,320.90 L449.15,320.97 L449.44,321.04 L449.72,321.12 L450.01,321.19 L450.29,321.26 L450.58,321.33 L450.86,321.41 L451.15,321.48 L451.43,321.55 L451.72,321.63 L452.00,321.70 L452.29,321.77 L452.57,321.85 L452.86,321.92 L453.15,321.99 L453.43,322.06 L453.72,322.14 L454.00,322.21 L454.29,322.29 L454.57,322.36 L454.86,322.43 L455.14,322.51 L455.43,322.58 L455.71,322.65 L456.00,322.73 L456.28,322.80 L456.57,322.88 L456.85,322.95 L457.14,323.02 L457.43,323.10 L457.71,323.17 L458.00,323.25 L458.28,323.32 L458.57,323.39 L458.85,323.47 L459.14,323.54 L459.42,323.62 L459.71,323.69 L459.99,323.77 L460.28,323.84 L460.56,323.92 L460.85,323.99 L461.14,324.07 L461.42,324.14 L461.71,324.22 L461.99,324.29 L462.28,324.37 L462.56,324.44 L462.85,324.52 L463.13,324.59 L463.42,324.67 L463.70,324.74 L463.99,324.82 L464.27,324.89 L464.56,324.97 L464.84,325.04 L465.13,325.12 L465.42,325.19 L465.70,325.27 L465.99,325.35 L466.27,325.42 L466.56,325.50 L466.84,325.57 L467.13,325.65 L467.41,325.72 L467.70,325.80 L467.98,325.88 L468.27,325.95 L468.55,326.03 L468.84,326.11 L469.13,326.18 L469.41,326.26 L469.70,326.33 L469.98,326.41 L470.27,326.49 L470.55,326.56 L470.84,326.64 L471.12,326.72 L471.41,326.79 L471.69,326.87 L471.98,326.95 L472.26,327.02 L472.55,327.10 L472.83,327.18 L473.12,327.26 L473.41,327.33 L473.69,327.41 L473.98,327.49 L474.26,327.57 L474.55,327.64 L474.83,327.72 L475.12,327.80 L475.40,327.88 L475.69,327.95 L475.97,328.03 L476.26,328.11 L476.54,328.19 L476.83,328.26 L477.12,328.34 L477.40,328.42 L477.69,328.50 L477.97,328.58 L478.26,328.65 L478.54,328.73 L478.83,328.81 L479.11,328.89 L479.40,328.97 L479.68,329.05 L479.97,329.13 L480.25,329.20 L480.54,329.28 L480.82,329.36 L481.11,329.44 L481.40,329.52 L481.68,329.60 L481.97,329.68 L482.25,329.76 L482.54,329.83 L482.82,329.91 L483.11,329.99 L483.39,330.07 L483.68,330.15 L483.96,330.23 L484.25,330.31 L484.53,330.39 L484.82,330.47 L485.11,330.55 L485.39,330.63 L485.68,330.71 L485.96,330.79 L486.25,330.87 L486.53,330.95 L486.82,331.03 L487.10,331.11 L487.39,331.19 L487.67,331.27 L487.96,331.35 L488.24,331.43 L488.53,331.51 L488.82,331.59 L489.10,331.67 L489.39,331.75 L489.67,331.83 L489.96,331.91 L490.24,331.99 L490.53,332.07 L490.81,332.15 L491.10,332.23 L491.38,332.31 L491.67,332.40 L491.95,332.48 L492.24,332.56 L492.52,332.64 L492.81,332.72 L493.10,332.80 L493.38,332.88 L493.67,332.96 L493.95,333.05 L494.24,333.13 L494.52,333.21 L494.81,333.29 L495.09,333.37 L495.38,333.45 L495.66,333.53 L495.95,333.62 L496.23,333.70 L496.52,333.78 L496.81,333.86 L497.09,333.94 L497.38,334.03" fill="none" stroke="#d40c16" stroke-width="2.2" stroke-dasharray="6.3,4.7" stroke-linejoin="round" />
<path d="M440.59,318.49 L440.87,318.56 L441.16,318.63 L441.45,318.70 L441.73,318.77 L442.02,318.84 L442.30,318.91 L442.59,318.98 L442.87,319.05 L443.16,319.12 L443.44,319.20 L443.73,319.27 L444.01,319.34 L444.30,319.41 L444.58,319.48 L444.87,319.55 L445.16,319.63 L445.44,319.70 L445.73,319.77 L446.01,319.84 L446.30,319.91 L446.58,319.98 L446.87,320.06 L447.15,320.13 L447.44,320.20 L447.72,320.27 L448.01,320.35 L448.29,320.42 L448.58,320.49 L448.86,320.56 L449.15,320.63 L449.44,320.71 L449.72,320.78 L450.01,320.85 L450.29,320.93 L450.58,321.00 L450.86,321.07 L451.15,321.14 L451.43,321.22 L451.72,321.29 L452.00,321.36 L452.29,321.44 L452.57,321.51 L452.86,321.58 L453.15,321.66 L453.43,321.73 L453.72,321.80 L454.00,321.88 L454.29,321.95 L454.57,322.02 L454.86,322.10 L455.14,322.17 L455.43,322.24 L455.71,322.32 L456.00,322.39 L456.28,322.46 L456.57,322.54 L456.85,322.61 L457.14,322.69 L457.43,322.76 L457.71,322.83 L458.00,322.91 L458.28,322.98 L458.57,323.06 L458.85,323.13 L459.14,323.21 L459.42,323.28 L459.71,323.36 L459.99,323.43 L460.28,323.50 L460.56,323.58 L460.85,323.65 L461.14,323.73 L461.42,323.80 L461.71,323.88 L461.99,323.95 L462.28,324.03 L462.56,324.10 L462.85,324.18 L463.13,324.25 L463.42,324.33 L463.70,324.40 L463.99,324.48 L464.27,324.56 L464.56,324.63 L464.84,324.71 L465.13,324.78 L465.42,324.86 L465.70,324.93 L465.99,325.01 L466.27,325.08 L466.56,325.16 L466.84,325.24 L467.13,325.31 L467.41,325.39 L467.70,325.46 L467.98,325.54 L468.27,325.62 L468.55,325.69 L468.84,325.77 L469.13,325.85 L469.41,325.92 L469.70,326.00 L469.98,326.07 L470.27,326.15 L470.55,326.23 L470.84,326.30 L471.12,326.38 L471.41,326.46 L471.69,326.53 L471.98,326.61 L472.26,326.69 L472.55,326.77 L472.83,326.84 L473.12,326.92 L473.41,327.00 L473.69,327.07 L473.98,327.15 L474.26,327.23 L474.55,327.31 L474.83,327.38 L475.12,327.46 L475.40,327.54 L475.69,327.62 L475.97,327.69 L476.26,327.77 L476.54,327.85 L476.83,327.93 L477.12,328.01 L477.40,328.08 L477.69,328.16 L477.97,328.24 L478.26,328.32 L478.54,328.40 L478.83,328.48 L479.11,328.55 L479.40,328.63 L479.68,328.71 L479.97,328.79 L480.25,328.87 L480.54,328.95 L480.82,329.02 L481.11,329.10 L481.40,329.18 L481.68,329.26 L481.97,329.34 L482.25,329.42 L482.54,329.50 L482.82,329.58 L483.11,329.66 L483.39,329.74 L483.68,329.82 L483.96,329.89 L484.25,329.97 L484.53,330.05 L484.82,330.13 L485.11,330.21 L485.39,330.29 L485.68,330.37 L485.96,330.45 L486.25,330.53 L486.53,330.61 L486.82,330.69 L487.10,330.77 L487.39,330.85 L487.67,330.93 L487.96,331.01 L488.24,331.09 L488.53,331.17 L488.82,331.25 L489.10,331.33 L489.39,331.41 L489.67,331.49 L489.96,331.57 L490.24,331.66 L490.53,331.74 L490.81,331.82 L491.10,331.90 L491.38,331.98 L491.67,332.06 L491.95,332.14 L492.24,332.22 L492.52,332.30 L492.81,332.38 L493.10,332.46 L493.38,332.55 L493.67,332.63 L493.95,332.71 L494.24,332.79 L494.52,332.87 L494.81,332.95 L495.09,333.03 L495.38,333.12 L495.66,333.20 L495.95,333.28 L496.23,333.36 L496.52,333.44 L496.81,333.53 L497.09,333.61 L497.38,333.69" fill="none" stroke="#d010d8" stroke-width="2.2" stroke-dasharray="6.3,4.7" stroke-linejoin="round" stroke-opacity="0.75"/>
<path d="M440.59,317.14 L440.87,317.21 L441.16,317.28 L441.45,317.35 L441.73,317.42 L442.02,317.49 L442.30,317.57 L442.59,317.64 L442.87,317.71 L443.16,317.78 L443.44,317.85 L443.73,317.92 L444.01,317.99 L444.30,318.06 L444.58,318.14 L444.87,318.21 L445.16,318.28 L445.44,318.35 L445.73,318.42 L446.01,318.50 L446.30,318.57 L446.58,318.64 L446.87,318.71 L447.15,318.78 L447.44,318.86 L447.72,318.93 L448.01,319.00 L448.29,319.07 L448.58,319.14 L448.86,319.22 L449.15,319.29 L449.44,319.36 L449.72,319.43 L450.01,319.51 L450.29,319.58 L450.58,319.65 L450.86,319.73 L451.15,319.80 L451.43,319.87 L451.72,319.94 L452.00,320.02 L452.29,320.09 L452.57,320.16 L452.86,320.24 L453.15,320.31 L453.43,320.38 L453.72,320.46 L454.00,320.53 L454.29,320.60 L454.57,320.68 L454.86,320.75 L455.14,320.82 L455.43,320.90 L455.71,320.97 L456.00,321.05 L456.28,321.12 L456.57,321.19 L456.85,321.27 L457.14,321.34 L457.43,321.42 L457.71,321.49 L458.00,321.56 L458.28,321.64 L458.57,321.71 L458.85,321.79 L459.14,321.86 L459.42,321.94 L459.71,322.01 L459.99,322.08 L460.28,322.16 L460.56,322.23 L460.85,322.31 L461.14,322.38 L461.42,322.46 L461.71,322.53 L461.99,322.61 L462.28,322.68 L462.56,322.76 L462.85,322.83 L463.13,322.91 L463.42,322.98 L463.70,323.06 L463.99,323.13 L464.27,323.21 L464.56,323.29 L464.84,323.36 L465.13,323.44 L465.42,323.51 L465.70,323.59 L465.99,323.66 L466.27,323.74 L466.56,323.82 L466.84,323.89 L467.13,323.97 L467.41,324.04 L467.70,324.12 L467.98,324.19 L468.27,324.27 L468.55,324.35 L468.84,324.42 L469.13,324.50 L469.41,324.58 L469.70,324.65 L469.98,324.73 L470.27,324.81 L470.55,324.88 L470.84,324.96 L471.12,325.04 L471.41,325.11 L471.69,325.19 L471.98,325.27 L472.26,325.34 L472.55,325.42 L472.83,325.50 L473.12,325.57 L473.41,325.65 L473.69,325.73 L473.98,325.81 L474.26,325.88 L474.55,325.96 L474.83,326.04 L475.12,326.12 L475.40,326.19 L475.69,326.27 L475.97,326.35 L476.26,326.43 L476.54,326.50 L476.83,326.58 L477.12,326.66 L477.40,326.74 L477.69,326.82 L477.97,326.89 L478.26,326.97 L478.54,327.05 L478.83,327.13 L479.11,327.21 L479.40,327.29 L479.68,327.36 L479.97,327.44 L480.25,327.52 L480.54,327.60 L480.82,327.68 L481.11,327.76 L481.40,327.84 L481.68,327.92 L481.97,328.00 L482.25,328.07 L482.54,328.15 L482.82,328.23 L483.11,328.31 L483.39,328.39 L483.68,328.47 L483.96,328.55 L484.25,328.63 L484.53,328.71 L484.82,328.79 L485.11,328.87 L485.39,328.95 L485.68,329.03 L485.96,329.11 L486.25,329.19 L486.53,329.27 L486.82,329.35 L487.10,329.43 L487.39,329.51 L487.67,329.59 L487.96,329.67 L488.24,329.75 L488.53,329.83 L488.82,329.91 L489.10,329.99 L489.39,330.07 L489.67,330.15 L489.96,330.23 L490.24,330.31 L490.53,330.39 L490.81,330.47 L491.10,330.55 L491.38,330.63 L491.67,330.71 L491.95,330.79 L492.24,330.88 L492.52,330.96 L492.81,331.04 L493.10,331.12 L493.38,331.20 L493.67,331.28 L493.95,331.36 L494.24,331.44 L494.52,331.53 L494.81,331.61 L495.09,331.69 L495.38,331.77 L495.66,331.85 L495.95,331.93 L496.23,332.02 L496.52,332.10 L496.81,332.18 L497.09,332.26 L497.38,332.34" fill="none" stroke="#1808c8" stroke-width="2.2" stroke-dasharray="6.3,4.7" stroke-linejoin="round" />
<path d="M440.59,316.13 L440.87,316.20 L441.16,316.27 L441.45,316.34 L441.73,316.41 L442.02,316.49 L442.30,316.56 L442.59,316.63 L442.87,316.70 L443.16,316.77 L443.44,316.84 L443.73,316.91 L444.01,316.98 L444.30,317.06 L444.58,317.13 L444.87,317.20 L445.16,317.27 L445.44,317.34 L445.73,317.41 L446.01,317.49 L446.30,317.56 L446.58,317.63 L446.87,317.70 L447.15,317.77 L447.44,317.85 L447.72,317.92 L448.01,317.99 L448.29,318.06 L448.58,318.14 L448.86,318.21 L449.15,318.28 L449.44,318.35 L449.72,318.43 L450.01,318.50 L450.29,318.57 L450.58,318.64 L450.86,318.72 L451.15,318.79 L451.43,318.86 L451.72,318.93 L452.00,319.01 L452.29,319.08 L452.57,319.15 L452.86,319.23 L453.15,319.30 L453.43,319.37 L453.72,319.45 L454.00,319.52 L454.29,319.59 L454.57,319.67 L454.86,319.74 L455.14,319.82 L455.43,319.89 L455.71,319.96 L456.00,320.04 L456.28,320.11 L456.57,320.18 L456.85,320.26 L457.14,320.33 L457.43,320.41 L457.71,320.48 L458.00,320.55 L458.28,320.63 L458.57,320.70 L458.85,320.78 L459.14,320.85 L459.42,320.93 L459.71,321.00 L459.99,321.08 L460.28,321.15 L460.56,321.22 L460.85,321.30 L461.14,321.37 L461.42,321.45 L461.71,321.52 L461.99,321.60 L462.28,321.67 L462.56,321.75 L462.85,321.82 L463.13,321.90 L463.42,321.97 L463.70,322.05 L463.99,322.13 L464.27,322.20 L464.56,322.28 L464.84,322.35 L465.13,322.43 L465.42,322.50 L465.70,322.58 L465.99,322.65 L466.27,322.73 L466.56,322.81 L466.84,322.88 L467.13,322.96 L467.41,323.03 L467.70,323.11 L467.98,323.19 L468.27,323.26 L468.55,323.34 L468.84,323.41 L469.13,323.49 L469.41,323.57 L469.70,323.64 L469.98,323.72 L470.27,323.80 L470.55,323.87 L470.84,323.95 L471.12,324.03 L471.41,324.10 L471.69,324.18 L471.98,324.26 L472.26,324.33 L472.55,324.41 L472.83,324.49 L473.12,324.57 L473.41,324.64 L473.69,324.72 L473.98,324.80 L474.26,324.87 L474.55,324.95 L474.83,325.03 L475.12,325.11 L475.40,325.18 L475.69,325.26 L475.97,325.34 L476.26,325.42 L476.54,325.50 L476.83,325.57 L477.12,325.65 L477.40,325.73 L477.69,325.81 L477.97,325.89 L478.26,325.96 L478.54,326.04 L478.83,326.12 L479.11,326.20 L479.40,326.28 L479.68,326.36 L479.97,326.43 L480.25,326.51 L480.54,326.59 L480.82,326.67 L481.11,326.75 L481.40,326.83 L481.68,326.91 L481.97,326.99 L482.25,327.06 L482.54,327.14 L482.82,327.22 L483.11,327.30 L483.39,327.38 L483.68,327.46 L483.96,327.54 L484.25,327.62 L484.53,327.70 L484.82,327.78 L485.11,327.86 L485.39,327.94 L485.68,328.02 L485.96,328.10 L486.25,328.18 L486.53,328.26 L486.82,328.34 L487.10,328.42 L487.39,328.50 L487.67,328.58 L487.96,328.66 L488.24,328.74 L488.53,328.82 L488.82,328.90 L489.10,328.98 L489.39,329.06 L489.67,329.14 L489.96,329.22 L490.24,329.30 L490.53,329.38 L490.81,329.46 L491.10,329.54 L491.38,329.62 L491.67,329.70 L491.95,329.79 L492.24,329.87 L492.52,329.95 L492.81,330.03 L493.10,330.11 L493.38,330.19 L493.67,330.27 L493.95,330.35 L494.24,330.44 L494.52,330.52 L494.81,330.60 L495.09,330.68 L495.38,330.76 L495.66,330.84 L495.95,330.93 L496.23,331.01 L496.52,331.09 L496.81,331.17 L497.09,331.25 L497.38,331.33" fill="none" stroke="#000000" stroke-width="2.2" stroke-dasharray="6.3,4.7" stroke-linejoin="round" />
<path d="M443.16,283.57 L443.37,283.57 L443.58,283.58 L443.79,283.58 L444.00,283.59 L444.20,283.59 L444.41,283.59 L444.62,283.60 L444.83,283.60 L445.04,283.60 L445.25,283.61 L445.46,283.61 L445.67,283.62 L445.88,283.62 L446.09,283.62 L446.29,283.63 L446.50,283.63 L446.71,283.63 L446.92,283.64 L447.13,283.64 L447.34,283.65 L447.55,283.65 L447.76,283.65 L447.97,283.66 L448.18,283.66 L448.39,283.67 L448.59,283.67 L448.80,283.67 L449.01,283.68 L449.22,283.68 L449.43,283.69 L449.64,283.69 L449.85,283.69 L450.06,283.70 L450.27,283.70 L450.48,283.71 L450.69,283.71 L450.89,283.72 L451.10,283.72 L451.31,283.72 L451.52,283.73 L451.73,283.73 L451.94,283.74 L452.15,283.74 L452.36,283.75 L452.57,283.75 L452.78,283.76 L452.98,283.76 L453.19,283.76 L453.40,283.77 L453.61,283.77 L453.82,283.78 L454.03,283.78 L454.24,283.79 L454.45,283.79 L454.66,283.80 L454.87,283.80 L455.08,283.81 L455.28,283.81 L455.49,283.81 L455.70,283.82 L455.91,283.82 L456.12,283.83 L456.33,283.83 L456.54,283.84 L456.75,283.84 L456.96,283.85 L457.17,283.85 L457.37,283.86 L457.58,283.86 L457.79,283.87 L458.00,283.87 L458.21,283.88 L458.42,283.88 L458.63,283.89 L458.84,283.89 L459.05,283.90 L459.26,283.90 L459.47,283.91 L459.67,283.91 L459.88,283.92 L460.09,283.92 L460.30,283.93 L460.51,283.94 L460.72,283.94 L460.93,283.95 L461.14,283.95 L461.35,283.96 L461.56,283.96 L461.76,283.97 L461.97,283.97 L462.18,283.98 L462.39,283.98 L462.60,283.99 L462.81,284.00 L463.02,284.00 L463.23,284.01 L463.44,284.01 L463.65,284.02 L463.86,284.02 L464.06,284.03 L464.27,284.04 L464.48,284.04 L464.69,284.05 L464.90,284.05 L465.11,284.06 L465.32,284.07 L465.53,284.07 L465.74,284.08 L465.95,284.08 L466.15,284.09 L466.36,284.10 L466.57,284.10 L466.78,284.11 L466.99,284.12 L467.20,284.12 L467.41,284.13 L467.62,284.14 L467.83,284.14 L468.04,284.15 L468.25,284.15 L468.45,284.16 L468.66,284.17 L468.87,284.17 L469.08,284.18 L469.29,284.19 L469.50,284.19 L469.71,284.20 L469.92,284.21 L470.13,284.22 L470.34,284.22 L470.55,284.23 L470.75,284.24 L470.96,284.24 L471.17,284.25 L471.38,284.26 L471.59,284.26 L471.80,284.27 L472.01,284.28 L472.22,284.29 L472.43,284.29 L472.64,284.30 L472.84,284.31 L473.05,284.32 L473.26,284.32 L473.47,284.33 L473.68,284.34 L473.89,284.35 L474.10,284.35 L474.31,284.36 L474.52,284.37 L474.73,284.38 L474.94,284.39 L475.14,284.39 L475.35,284.40 L475.56,284.41 L475.77,284.42 L475.98,284.43 L476.19,284.43 L476.40,284.44 L476.61,284.45 L476.82,284.46 L477.03,284.47 L477.23,284.48 L477.44,284.48 L477.65,284.49 L477.86,284.50 L478.07,284.51 L478.28,284.52 L478.49,284.53 L478.70,284.54 L478.91,284.55 L479.12,284.55 L479.33,284.56 L479.53,284.57 L479.74,284.58 L479.95,284.59 L480.16,284.60 L480.37,284.61 L480.58,284.62 L480.79,284.63 L481.00,284.64 L481.21,284.65 L481.42,284.66 L481.62,284.67 L481.83,284.68 L482.04,284.69 L482.25,284.70 L482.46,284.71 L482.67,284.72 L482.88,284.73 L483.09,284.74 L483.30,284.75 L483.51,284.76 L483.72,284.77 L483.92,284.78 L484.13,284.79 L484.34,284.80 L484.55,284.81 L484.76,284.82 L484.97,284.83 L485.18,284.84 L485.39,284.85 L485.60,284.86 L485.81,284.88 L486.01,284.89 L486.22,284.90 L486.43,284.91 L486.64,284.92 L486.85,284.93 L487.06,284.94 L487.27,284.96 L487.48,284.97 L487.69,284.98 L487.90,284.99 L488.11,285.00 L488.31,285.02 L488.52,285.03 L488.73,285.04 L488.94,285.05 L489.15,285.07 L489.36,285.08 L489.57,285.09 L489.78,285.10 L489.99,285.12 L490.20,285.13 L490.40,285.14 L490.61,285.16 L490.82,285.17 L491.03,285.18 L491.24,285.20 L491.45,285.21 L491.66,285.22 L491.87,285.24 L492.08,285.25 L492.29,285.27 L492.50,285.28 L492.70,285.30 L492.91,285.31 L493.12,285.32 L493.33,285.34 L493.54,285.35 L493.75,285.37 L493.96,285.38 L494.17,285.40 L494.38,285.41 L494.59,285.43 L494.80,285.44 L495.00,285.46 L495.21,285.48 L495.42,285.49 L495.63,285.51 L495.84,285.52 L496.05,285.54 L496.26,285.56 L496.47,285.57 L496.68,285.59 L496.89,285.61 L497.09,285.62 L497.30,285.64 L497.51,285.66 L497.72,285.68 L497.93,285.69 L498.14,285.71 L498.35,285.73 L498.56,285.75 L498.77,285.77 L498.98,285.78 L499.19,285.80 L499.39,285.82 L499.60,285.84 L499.81,285.86 L500.02,285.88 L500.23,285.90 L500.44,285.92 L500.65,285.94 L500.86,285.96 L501.07,285.98 L501.28,286.00 L501.48,286.02 L501.69,286.04 L501.90,286.06 L502.11,286.08 L502.32,286.10 L502.53,286.12 L502.74,286.14 L502.95,286.16 L503.16,286.19 L503.37,286.21 L503.58,286.23 L503.78,286.25 L503.99,286.27 L504.20,286.30 L504.41,286.32 L504.62,286.34 L504.83,286.37 L505.04,286.39 L505.25,286.42 L505.46,286.44 L505.67,286.46" fill="none" stroke="#d40c16" stroke-width="2.2" stroke-linejoin="round" />
<path d="M443.99,280.27 L444.25,280.28 L444.51,280.29 L444.77,280.29 L445.03,280.30 L445.29,280.31 L445.55,280.31 L445.80,280.32 L446.06,280.32 L446.32,280.33 L446.58,280.34 L446.84,280.34 L447.10,280.35 L447.36,280.36 L447.62,280.36 L447.88,280.37 L448.14,280.38 L448.40,280.38 L448.66,280.39 L448.92,280.40 L449.18,280.40 L449.44,280.41 L449.70,280.42 L449.96,280.43 L450.22,280.43 L450.48,280.44 L450.74,280.45 L451.00,280.45 L451.25,280.46 L451.51,280.47 L451.77,280.48 L452.03,280.48 L452.29,280.49 L452.55,280.50 L452.81,280.51 L453.07,280.51 L453.33,280.52 L453.59,280.53 L453.85,280.54 L454.11,280.54 L454.37,280.55 L454.63,280.56 L454.89,280.57 L455.15,280.57 L455.41,280.58 L455.67,280.59 L455.93,280.60 L456.19,280.61 L456.44,280.61 L456.70,280.62 L456.96,280.63 L457.22,280.64 L457.48,280.65 L457.74,280.66 L458.00,280.66 L458.26,280.67 L458.52,280.68 L458.78,280.69 L459.04,280.70 L459.30,280.71 L459.56,280.72 L459.82,280.72 L460.08,280.73 L460.34,280.74 L460.60,280.75 L460.86,280.76 L461.12,280.77 L461.38,280.78 L461.64,280.79 L461.89,280.80 L462.15,280.81 L462.41,280.82 L462.67,280.83 L462.93,280.83 L463.19,280.84 L463.45,280.85 L463.71,280.86 L463.97,280.87 L464.23,280.88 L464.49,280.89 L464.75,280.90 L465.01,280.91 L465.27,280.92 L465.53,280.93 L465.79,280.94 L466.05,280.95 L466.31,280.96 L466.57,280.98 L466.83,280.99 L467.08,281.00 L467.34,281.01 L467.60,281.02 L467.86,281.03 L468.12,281.04 L468.38,281.05 L468.64,281.06 L468.90,281.07 L469.16,281.08 L469.42,281.10 L469.68,281.11 L469.94,281.12 L470.20,281.13 L470.46,281.14 L470.72,281.15 L470.98,281.17 L471.24,281.18 L471.50,281.19 L471.76,281.20 L472.02,281.21 L472.28,281.23 L472.53,281.24 L472.79,281.25 L473.05,281.26 L473.31,281.28 L473.57,281.29 L473.83,281.30 L474.09,281.32 L474.35,281.33 L474.61,281.34 L474.87,281.36 L475.13,281.37 L475.39,281.38 L475.65,281.40 L475.91,281.41 L476.17,281.42 L476.43,281.44 L476.69,281.45 L476.95,281.47 L477.21,281.48 L477.47,281.49 L477.72,281.51 L477.98,281.52 L478.24,281.54 L478.50,281.55 L478.76,281.57 L479.02,281.58 L479.28,281.60 L479.54,281.61 L479.80,281.63 L480.06,281.65 L480.32,281.66 L480.58,281.68 L480.84,281.69 L481.10,281.71 L481.36,281.73 L481.62,281.74 L481.88,281.76 L482.14,281.78 L482.40,281.79 L482.66,281.81 L482.92,281.83 L483.17,281.85 L483.43,281.86 L483.69,281.88 L483.95,281.90 L484.21,281.92 L484.47,281.93 L484.73,281.95 L484.99,281.97 L485.25,281.99 L485.51,282.01 L485.77,282.03 L486.03,282.05 L486.29,282.07 L486.55,282.09 L486.81,282.11 L487.07,282.13 L487.33,282.15 L487.59,282.17 L487.85,282.19 L488.11,282.21 L488.36,282.23 L488.62,282.25 L488.88,282.27 L489.14,282.29 L489.40,282.32 L489.66,282.34 L489.92,282.36 L490.18,282.38 L490.44,282.41 L490.70,282.43 L490.96,282.45 L491.22,282.48 L491.48,282.50 L491.74,282.52 L492.00,282.55 L492.26,282.57 L492.52,282.60 L492.78,282.62 L493.04,282.65 L493.30,282.67 L493.56,282.70 L493.81,282.72 L494.07,282.75 L494.33,282.78 L494.59,282.80 L494.85,282.83 L495.11,282.86 L495.37,282.89 L495.63,282.91 L495.89,282.94 L496.15,282.97 L496.41,283.00 L496.67,283.03 L496.93,283.06 L497.19,283.09 L497.45,283.12 L497.71,283.15 L497.97,283.18 L498.23,283.21 L498.49,283.25 L498.75,283.28 L499.00,283.31 L499.26,283.34 L499.52,283.38 L499.78,283.41 L500.04,283.45 L500.30,283.48 L500.56,283.52 L500.82,283.55 L501.08,283.59 L501.34,283.62 L501.60,283.66 L501.86,283.70 L502.12,283.73 L502.38,283.77 L502.64,283.81 L502.90,283.85 L503.16,283.89 L503.42,283.93 L503.68,283.97 L503.94,284.01 L504.20,284.06 L504.45,284.10 L504.71,284.14 L504.97,284.18 L505.23,284.23 L505.49,284.27 L505.75,284.32 L506.01,284.37 L506.27,284.41 L506.53,284.46 L506.79,284.51 L507.05,284.56 L507.31,284.61 L507.57,284.66 L507.83,284.71 L508.09,284.76 L508.35,284.81 L508.61,284.86 L508.87,284.92 L509.13,284.97 L509.39,285.03 L509.64,285.08 L509.90,285.14 L510.16,285.20 L510.42,285.26 L510.68,285.32 L510.94,285.38 L511.20,285.44 L511.46,285.50 L511.72,285.56 L511.98,285.63 L512.24,285.69 L512.50,285.76 L512.76,285.83 L513.02,285.90 L513.28,285.97 L513.54,286.04 L513.80,286.11 L514.06,286.18 L514.32,286.26 L514.58,286.33 L514.84,286.41 L515.09,286.49 L515.35,286.57 L515.61,286.65 L515.87,286.73 L516.13,286.81 L516.39,286.90 L516.65,286.98 L516.91,287.07 L517.17,287.16 L517.43,287.25 L517.69,287.34 L517.95,287.44 L518.21,287.53 L518.47,287.63 L518.73,287.73 L518.99,287.83 L519.25,287.94 L519.51,288.04 L519.77,288.15 L520.03,288.26 L520.29,288.37 L520.54,288.48 L520.80,288.59 L521.06,288.71 L521.32,288.83 L521.58,288.95" fill="none" stroke="#d010d8" stroke-width="2.2" stroke-linejoin="round" />
<path d="M445.65,276.72 L446.13,276.72 L446.61,276.73 L447.09,276.73 L447.57,276.74 L448.05,276.74 L448.53,276.74 L449.01,276.75 L449.49,276.75 L449.97,276.76 L450.45,276.76 L450.93,276.76 L451.41,276.77 L451.89,276.77 L452.37,276.78 L452.85,276.78 L453.33,276.79 L453.81,276.79 L454.29,276.80 L454.77,276.80 L455.25,276.81 L455.73,276.81 L456.21,276.82 L456.69,276.83 L457.17,276.83 L457.65,276.84 L458.13,276.84 L458.61,276.85 L459.09,276.86 L459.57,276.86 L460.05,276.87 L460.53,276.88 L461.01,276.89 L461.49,276.89 L461.97,276.90 L462.45,276.91 L462.93,276.92 L463.41,276.93 L463.89,276.94 L464.37,276.95 L464.85,276.96 L465.33,276.97 L465.82,276.98 L466.30,276.99 L466.78,277.00 L467.26,277.01 L467.74,277.02 L468.22,277.04 L468.70,277.05 L469.18,277.06 L469.66,277.08 L470.14,277.09 L470.62,277.11 L471.10,277.12 L471.58,277.14 L472.06,277.16 L472.54,277.18 L473.02,277.19 L473.50,277.21 L473.98,277.23 L474.46,277.25 L474.94,277.28 L475.42,277.30 L475.90,277.32 L476.38,277.35 L476.86,277.37 L477.34,277.40 L477.82,277.43 L478.30,277.46 L478.78,277.49 L479.26,277.52 L479.74,277.56 L480.22,277.59 L480.70,277.63 L481.18,277.67 L481.66,277.71 L482.14,277.75 L482.62,277.79 L483.10,277.84 L483.58,277.88 L484.06,277.93 L484.54,277.98 L485.02,278.03 L485.50,278.09 L485.98,278.15 L486.46,278.20 L486.94,278.26 L487.42,278.33 L487.90,278.39 L488.38,278.46 L488.87,278.53 L489.35,278.60 L489.83,278.68 L490.31,278.75 L490.79,278.83 L491.27,278.91 L491.75,278.99 L492.23,279.08 L492.71,279.17 L493.19,279.26 L493.67,279.35 L494.15,279.44 L494.63,279.53 L495.11,279.63 L495.59,279.73 L496.07,279.82 L496.55,279.93 L497.03,280.03 L497.51,280.13 L497.99,280.24 L498.47,280.34 L498.95,280.45 L499.43,280.56 L499.91,280.67 L500.39,280.78 L500.87,280.89 L501.35,281.00 L501.83,281.12 L502.31,281.23 L502.79,281.35 L503.27,281.47 L503.75,281.59 L504.23,281.70 L504.71,281.82 L505.19,281.95 L505.67,282.07 L506.15,282.19 L506.63,282.31 L507.11,282.44 L507.59,282.56 L508.07,282.69 L508.55,282.81 L509.03,282.94 L509.51,283.07 L509.99,283.20 L510.47,283.33 L510.95,283.46 L511.43,283.59 L511.92,283.72 L512.40,283.85 L512.88,283.98 L513.36,284.11 L513.84,284.25 L514.32,284.38 L514.80,284.52 L515.28,284.65 L515.76,284.79 L516.24,284.92 L516.72,285.06 L517.20,285.20 L517.68,285.34 L518.16,285.48 L518.64,285.61 L519.12,285.75 L519.60,285.89 L520.08,286.04 L520.56,286.18 L521.04,286.32 L521.52,286.46 L522.00,286.60 L522.48,286.75 L522.96,286.89 L523.44,287.03 L523.92,287.18 L524.40,287.32 L524.88,287.47 L525.36,287.62 L525.84,287.76 L526.32,287.91 L526.80,288.06 L527.28,288.21 L527.76,288.35 L528.24,288.50 L528.72,288.65 L529.20,288.80 L529.68,288.95 L530.16,289.10 L530.64,289.26 L531.12,289.41 L531.60,289.56 L532.08,289.71 L532.56,289.86 L533.04,290.02 L533.52,290.17 L534.00,290.33 L534.49,290.48 L534.97,290.64 L535.45,290.79 L535.93,290.95 L536.41,291.11 L536.89,291.26 L537.37,291.42 L537.85,291.58 L538.33,291.74 L538.81,291.90 L539.29,292.05 L539.77,292.21 L540.25,292.37 L540.73,292.53 L541.21,292.70 L541.69,292.86 L542.17,293.02 L542.65,293.18 L543.13,293.34 L543.61,293.51 L544.09,293.67 L544.57,293.83 L545.05,294.00 L545.53,294.16 L546.01,294.33 L546.49,294.49 L546.97,294.66 L547.45,294.83 L547.93,294.99 L548.41,295.16 L548.89,295.33 L549.37,295.50 L549.85,295.66 L550.33,295.83 L550.81,296.00 L551.29,296.17 L551.77,296.34 L552.25,296.51 L552.73,296.68 L553.21,296.86 L553.69,297.03 L554.17,297.20 L554.65,297.37 L555.13,297.55 L555.61,297.72 L556.09,297.89 L556.57,298.07 L557.05,298.24 L557.54,298.42 L558.02,298.59 L558.50,298.77 L558.98,298.94 L559.46,299.12 L559.94,299.30 L560.42,299.48 L560.90,299.65 L561.38,299.83 L561.86,300.01 L562.34,300.19 L562.82,300.37 L563.30,300.55 L563.78,300.73 L564.26,300.91 L564.74,301.09 L565.22,301.27 L565.70,301.46 L566.18,301.64 L566.66,301.82 L567.14,302.00 L567.62,302.19 L568.10,302.37 L568.58,302.56 L569.06,302.74 L569.54,302.93 L570.02,303.11 L570.50,303.30 L570.98,303.48 L571.46,303.67 L571.94,303.86 L572.42,304.05 L572.90,304.23 L573.38,304.42 L573.86,304.61 L574.34,304.80 L574.82,304.99 L575.30,305.18 L575.78,305.37 L576.26,305.56 L576.74,305.75 L577.22,305.95 L577.70,306.14 L578.18,306.33 L578.66,306.52 L579.14,306.72 L579.62,306.91 L580.11,307.10 L580.59,307.30 L581.07,307.49 L581.55,307.69 L582.03,307.88 L582.51,308.08 L582.99,308.28 L583.47,308.47 L583.95,308.67 L584.43,308.87 L584.91,309.07 L585.39,309.26 L585.87,309.46 L586.35,309.66 L586.83,309.86 L587.31,310.06 L587.79,310.26 L588.27,310.46 L588.75,310.67 L589.23,310.87" fill="none" stroke="#1808c8" stroke-width="2.2" stroke-linejoin="round" />
<path d="M445.65,275.31 L446.13,275.31 L446.61,275.32 L447.09,275.32 L447.57,275.33 L448.05,275.33 L448.53,275.33 L449.01,275.34 L449.49,275.34 L449.97,275.35 L450.45,275.35 L450.93,275.36 L451.41,275.36 L451.89,275.37 L452.37,275.37 L452.85,275.38 L453.33,275.39 L453.81,275.39 L454.29,275.40 L454.77,275.40 L455.25,275.41 L455.73,275.42 L456.21,275.42 L456.69,275.43 L457.17,275.44 L457.65,275.44 L458.13,275.45 L458.61,275.46 L459.09,275.47 L459.57,275.47 L460.05,275.48 L460.53,275.49 L461.01,275.50 L461.49,275.51 L461.97,275.52 L462.45,275.53 L462.93,275.54 L463.41,275.55 L463.89,275.56 L464.37,275.57 L464.85,275.58 L465.33,275.59 L465.82,275.60 L466.30,275.61 L466.78,275.63 L467.26,275.64 L467.74,275.65 L468.22,275.67 L468.70,275.68 L469.18,275.70 L469.66,275.71 L470.14,275.73 L470.62,275.74 L471.10,275.76 L471.58,275.78 L472.06,275.80 L472.54,275.82 L473.02,275.84 L473.50,275.86 L473.98,275.88 L474.46,275.90 L474.94,275.93 L475.42,275.95 L475.90,275.97 L476.38,276.00 L476.86,276.03 L477.34,276.06 L477.82,276.09 L478.30,276.12 L478.78,276.15 L479.26,276.18 L479.74,276.22 L480.22,276.25 L480.70,276.29 L481.18,276.33 L481.66,276.37 L482.14,276.41 L482.62,276.46 L483.10,276.50 L483.58,276.55 L484.06,276.60 L484.54,276.65 L485.02,276.70 L485.50,276.76 L485.98,276.81 L486.46,276.87 L486.94,276.93 L487.42,276.99 L487.90,277.06 L488.38,277.12 L488.87,277.19 L489.35,277.26 L489.83,277.34 L490.31,277.41 L490.79,277.49 L491.27,277.57 L491.75,277.65 L492.23,277.73 L492.71,277.82 L493.19,277.91 L493.67,278.00 L494.15,278.09 L494.63,278.18 L495.11,278.28 L495.59,278.37 L496.07,278.47 L496.55,278.57 L497.03,278.67 L497.51,278.78 L497.99,278.88 L498.47,278.99 L498.95,279.09 L499.43,279.20 L499.91,279.31 L500.39,279.42 L500.87,279.54 L501.35,279.65 L501.83,279.76 L502.31,279.88 L502.79,280.00 L503.27,280.11 L503.75,280.23 L504.23,280.35 L504.71,280.47 L505.19,280.59 L505.67,280.72 L506.15,280.84 L506.63,280.96 L507.11,281.09 L507.59,281.22 L508.07,281.34 L508.55,281.47 L509.03,281.60 L509.51,281.73 L509.99,281.86 L510.47,281.99 L510.95,282.12 L511.43,282.25 L511.92,282.38 L512.40,282.51 L512.88,282.65 L513.36,282.78 L513.84,282.92 L514.32,283.05 L514.80,283.19 L515.28,283.33 L515.76,283.46 L516.24,283.60 L516.72,283.74 L517.20,283.88 L517.68,284.02 L518.16,284.16 L518.64,284.30 L519.12,284.44 L519.60,284.58 L520.08,284.72 L520.56,284.87 L521.04,285.01 L521.52,285.15 L522.00,285.30 L522.48,285.44 L522.96,285.59 L523.44,285.73 L523.92,285.88 L524.40,286.03 L524.88,286.17 L525.36,286.32 L525.84,286.47 L526.32,286.62 L526.80,286.77 L527.28,286.92 L527.76,287.07 L528.24,287.22 L528.72,287.37 L529.20,287.52 L529.68,287.67 L530.16,287.82 L530.64,287.98 L531.12,288.13 L531.60,288.28 L532.08,288.44 L532.56,288.59 L533.04,288.74 L533.52,288.90 L534.00,289.06 L534.49,289.21 L534.97,289.37 L535.45,289.53 L535.93,289.68 L536.41,289.84 L536.89,290.00 L537.37,290.16 L537.85,290.32 L538.33,290.48 L538.81,290.64 L539.29,290.80 L539.77,290.96 L540.25,291.12 L540.73,291.28 L541.21,291.44 L541.69,291.60 L542.17,291.77 L542.65,291.93 L543.13,292.09 L543.61,292.26 L544.09,292.42 L544.57,292.58 L545.05,292.75 L545.53,292.92 L546.01,293.08 L546.49,293.25 L546.97,293.41 L547.45,293.58 L547.93,293.75 L548.41,293.92 L548.89,294.08 L549.37,294.25 L549.85,294.42 L550.33,294.59 L550.81,294.76 L551.29,294.93 L551.77,295.10 L552.25,295.27 L552.73,295.44 L553.21,295.62 L553.69,295.79 L554.17,295.96 L554.65,296.13 L555.13,296.31 L555.61,296.48 L556.09,296.65 L556.57,296.83 L557.05,297.00 L557.54,297.18 L558.02,297.36 L558.50,297.53 L558.98,297.71 L559.46,297.88 L559.94,298.06 L560.42,298.24 L560.90,298.42 L561.38,298.60 L561.86,298.77 L562.34,298.95 L562.82,299.13 L563.30,299.31 L563.78,299.49 L564.26,299.67 L564.74,299.85 L565.22,300.04 L565.70,300.22 L566.18,300.40 L566.66,300.58 L567.14,300.76 L567.62,300.95 L568.10,301.13 L568.58,301.32 L569.06,301.50 L569.54,301.68 L570.02,301.87 L570.50,302.05 L570.98,302.24 L571.46,302.43 L571.94,302.61 L572.42,302.80 L572.90,302.99 L573.38,303.18 L573.86,303.36 L574.34,303.55 L574.82,303.74 L575.30,303.93 L575.78,304.12 L576.26,304.31 L576.74,304.50 L577.22,304.69 L577.70,304.88 L578.18,305.07 L578.66,305.27 L579.14,305.46 L579.62,305.65 L580.11,305.84 L580.59,306.04 L581.07,306.23 L581.55,306.42 L582.03,306.62 L582.51,306.81 L582.99,307.01 L583.47,307.21 L583.95,307.40 L584.43,307.60 L584.91,307.79 L585.39,307.99 L585.87,308.19 L586.35,308.39 L586.83,308.58 L587.31,308.78 L587.79,308.98 L588.27,309.18 L588.75,309.38 L589.23,309.58" fill="none" stroke="#000000" stroke-width="2.2" stroke-linejoin="round" />
</g>
<text transform="matrix(1.0 0 0 1.14 156.90 266.80)" font-size="13" text-anchor="start" textLength="43.0" lengthAdjust="spacingAndGlyphs">4.1 keV</text>
<text transform="matrix(1.0 0 0 1.14 318.00 266.80)" font-size="13" text-anchor="start" textLength="35.5" lengthAdjust="spacingAndGlyphs">3.8μm</text>
<text transform="translate(12.10,373.60) rotate(-90) scale(1,1.05)" font-size="13.5" textLength="99" lengthAdjust="spacingAndGlyphs">νL<tspan font-size="10.5" dy="4.6">ν</tspan><tspan dy="-4.6"> [normalized]</tspan></text>
<text transform="translate(387.70,372.00) rotate(-90) scale(1,1.14)" font-size="13" textLength="95.6" lengthAdjust="spacingAndGlyphs">spectral index, α</text>
<rect x="43.60" y="473.30" width="161.40" height="148.00" fill="none" stroke="#686868" stroke-width="1.3"/>
<rect x="205.00" y="473.30" width="161.00" height="148.00" fill="none" stroke="#686868" stroke-width="1.3"/>
<rect x="422.90" y="473.30" width="166.80" height="148.00" fill="none" stroke="#686868" stroke-width="1.3"/>
<path d="M43.60,621.30 h1.6 M205.00,621.30 h-1.6" stroke="#686868" stroke-width="1"/>
<path d="M43.60,559.63 h1.6 M205.00,559.63 h-1.6" stroke="#686868" stroke-width="1"/>
<path d="M43.60,497.97 h1.6 M205.00,497.97 h-1.6" stroke="#686868" stroke-width="1"/>
<path d="M43.60,473.30 v1.6 M43.60,621.30 v-1.6" stroke="#686868" stroke-width="1"/>
<path d="M83.95,473.30 v1.6 M83.95,621.30 v-1.6" stroke="#686868" stroke-width="1"/>
<path d="M124.30,473.30 v1.6 M124.30,621.30 v-1.6" stroke="#686868" stroke-width="1"/>
<path d="M164.65,473.30 v1.6 M164.65,621.30 v-1.6" stroke="#686868" stroke-width="1"/>
<path d="M205.00,473.30 v1.6 M205.00,621.30 v-1.6" stroke="#686868" stroke-width="1"/>
<text transform="matrix(1.0 0 0 1.17 40.10 625.90)" font-size="13" text-anchor="end" >0</text>
<text transform="matrix(1.0 0 0 1.17 40.10 564.23)" font-size="13" text-anchor="end" >0.5</text>
<text transform="matrix(1.0 0 0 1.17 40.10 502.57)" font-size="13" text-anchor="end" >1</text>
<text transform="matrix(1.0 0 0 1.17 43.60 636.70)" font-size="13" text-anchor="middle" >0</text>
<text transform="matrix(1.0 0 0 1.17 83.95 636.70)" font-size="13" text-anchor="middle" >50</text>
<text transform="matrix(1.0 0 0 1.17 124.30 636.70)" font-size="13" text-anchor="middle" >100</text>
<text transform="matrix(1.0 0 0 1.17 164.65 636.70)" font-size="13" text-anchor="middle" >150</text>
<text x="82.05" y="649.70" font-size="15.2" text-anchor="start" textLength="84.5" lengthAdjust="spacingAndGlyphs">time [minutes]</text>
<clipPath id="c12"><rect x="43.6" y="473.3" width="161.4" height="149.29999999999995"/></clipPath>
<g clip-path="url(#c12)">
<path d="M45.21,621.30 L45.62,621.29 L46.02,621.29 L46.42,621.29 L46.83,621.29 L47.23,621.29 L47.64,621.29 L48.04,621.28 L48.44,621.28 L48.85,621.28 L49.25,621.27 L49.65,621.27 L50.06,621.26 L50.46,621.25 L50.86,621.25 L51.27,621.24 L51.67,621.23 L52.07,621.21 L52.48,621.20 L52.88,621.18 L53.28,621.16 L53.69,621.14 L54.09,621.11 L54.49,621.08 L54.90,621.05 L55.30,621.01 L55.70,620.96 L56.11,620.91 L56.51,620.85 L56.92,620.78 L57.32,620.71 L57.72,620.62 L58.13,620.53 L58.53,620.42 L58.93,620.30 L59.34,620.16 L59.74,620.01 L60.14,619.83 L60.55,619.64 L60.95,619.43 L61.35,619.19 L61.76,618.93 L62.16,618.64 L62.56,618.32 L62.97,617.96 L63.37,617.57 L63.78,617.14 L64.18,616.67 L64.58,616.15 L64.99,615.59 L65.39,614.98 L65.79,614.31 L66.20,613.59 L66.60,612.80 L67.00,611.95 L67.41,611.04 L67.81,610.05 L68.21,608.99 L68.62,607.85 L69.02,606.64 L69.42,605.34 L69.83,603.95 L70.23,602.48 L70.63,600.92 L71.04,599.27 L71.44,597.52 L71.84,595.68 L72.25,593.75 L72.65,591.72 L73.06,589.60 L73.46,587.38 L73.86,585.07 L74.27,582.66 L74.67,580.17 L75.07,577.60 L75.48,574.94 L75.88,572.21 L76.28,569.40 L76.69,566.53 L77.09,563.60 L77.49,560.61 L77.90,557.59 L78.30,554.52 L78.70,551.43 L79.11,548.32 L79.51,545.21 L79.91,542.10 L80.32,539.00 L80.72,535.93 L81.13,532.90 L81.53,529.92 L81.93,526.99 L82.34,524.15 L82.74,521.39 L83.14,518.73 L83.55,516.17 L83.95,513.74 L84.35,511.45 L84.76,509.29 L85.16,507.30 L85.56,505.46 L85.97,503.80 L86.37,502.32 L86.77,501.03 L87.18,499.94 L87.58,499.04 L87.98,498.35 L88.39,497.87 L88.79,497.60 L89.20,497.54 L89.60,497.70 L90.00,498.07 L90.41,498.65 L90.81,499.43 L91.21,500.42 L91.62,501.61 L92.02,502.99 L92.42,504.56 L92.83,506.30 L93.23,508.21 L93.63,510.29 L94.04,512.51 L94.44,514.87 L94.84,517.36 L95.25,519.96 L95.65,522.67 L96.06,525.47 L96.46,528.36 L96.86,531.31 L97.27,534.31 L97.67,537.37 L98.07,540.45 L98.48,543.55 L98.88,546.67 L99.28,549.78 L99.69,552.88 L100.09,555.96 L100.49,559.01 L100.90,562.02 L101.30,564.98 L101.70,567.88 L102.11,570.72 L102.51,573.50 L102.91,576.19 L103.32,578.81 L103.72,581.35 L104.12,583.80 L104.53,586.16 L104.93,588.43 L105.34,590.60 L105.74,592.68 L106.14,594.67 L106.55,596.56 L106.95,598.35 L107.35,600.05 L107.76,601.66 L108.16,603.18 L108.56,604.61 L108.97,605.96 L109.37,607.22 L109.77,608.39 L110.18,609.49 L110.58,610.52 L110.98,611.47 L111.39,612.36 L111.79,613.17 L112.19,613.93 L112.60,614.63 L113.00,615.27 L113.41,615.86 L113.81,616.40 L114.21,616.89 L114.62,617.35 L115.02,617.76 L115.42,618.13 L115.83,618.47 L116.23,618.78 L116.63,619.05 L117.04,619.31 L117.44,619.53 L117.84,619.73 L118.25,619.92 L118.65,620.08 L119.05,620.22 L119.46,620.35 L119.86,620.47 L120.27,620.57 L120.67,620.66 L121.07,620.74 L121.48,620.82 L121.88,620.88 L122.28,620.93 L122.69,620.98 L123.09,621.03 L123.49,621.06 L123.90,621.10 L124.30,621.12 L124.70,621.15 L125.11,621.17 L125.51,621.19 L125.91,621.20 L126.32,621.22 L126.72,621.23 L127.12,621.24 L127.53,621.25 L127.93,621.26 L128.34,621.26 L128.74,621.27 L129.14,621.27 L129.55,621.28 L129.95,621.28 L130.35,621.28 L130.76,621.29 L131.16,621.29 L131.56,621.29 L131.97,621.29 L132.37,621.29 L132.77,621.29 L133.18,621.30 L133.58,621.30 L133.98,621.30 L134.39,621.30 L134.79,621.30 L135.19,621.30 L135.60,621.30 L136.00,621.30 L136.41,621.30 L136.81,621.30 L137.21,621.30 L137.62,621.30 L138.02,621.30 L138.42,621.30 L138.83,621.30 L139.23,621.30 L139.63,621.30 L140.04,621.30 L140.44,621.30 L140.84,621.30 L141.25,621.30 L141.65,621.30 L142.05,621.30 L142.46,621.30 L142.86,621.30 L143.26,621.30 L143.67,621.30 L144.07,621.30 L144.47,621.30 L144.88,621.30 L145.28,621.30 L145.69,621.30 L146.09,621.30 L146.49,621.30 L146.90,621.30 L147.30,621.30 L147.70,621.30 L148.11,621.30 L148.51,621.30 L148.91,621.30 L149.32,621.30 L149.72,621.30 L150.12,621.30 L150.53,621.30 L150.93,621.30 L151.33,621.30 L151.74,621.30 L152.14,621.30 L152.54,621.30 L152.95,621.30 L153.35,621.30 L153.76,621.30 L154.16,621.30 L154.56,621.30 L154.97,621.30 L155.37,621.30 L155.77,621.30 L156.18,621.30 L156.58,621.30 L156.98,621.30 L157.39,621.30 L157.79,621.30 L158.19,621.30 L158.60,621.30 L159.00,621.30 L159.40,621.30 L159.81,621.30 L160.21,621.30 L160.62,621.30 L161.02,621.30 L161.42,621.30 L161.83,621.30 L162.23,621.30 L162.63,621.30 L163.04,621.30 L163.44,621.30 L163.84,621.30 L164.25,621.30 L164.65,621.30 L165.05,621.30 L165.46,621.30 L165.86,621.30 L166.26,621.30 L166.67,621.30 L167.07,621.30 L167.47,621.30 L167.88,621.30 L168.28,621.30 L168.69,621.30 L169.09,621.30 L169.49,621.30 L169.90,621.30 L170.30,621.30 L170.70,621.30 L171.11,621.30 L171.51,621.30 L171.91,621.30 L172.32,621.30 L172.72,621.30 L173.12,621.30 L173.53,621.30 L173.93,621.30 L174.33,621.30 L174.74,621.30 L175.14,621.30 L175.54,621.30 L175.95,621.30 L176.35,621.30 L176.75,621.30 L177.16,621.30 L177.56,621.30 L177.97,621.30 L178.37,621.30 L178.77,621.30 L179.18,621.30 L179.58,621.30 L179.98,621.30 L180.39,621.30 L180.79,621.30 L181.19,621.30 L181.60,621.30 L182.00,621.30 L182.40,621.30 L182.81,621.30 L183.21,621.30 L183.61,621.30 L184.02,621.30 L184.42,621.30 L184.82,621.30 L185.23,621.30 L185.63,621.30 L186.04,621.30 L186.44,621.30 L186.84,621.30 L187.25,621.30 L187.65,621.30 L188.05,621.30 L188.46,621.30 L188.86,621.30 L189.26,621.30 L189.67,621.30 L190.07,621.30 L190.47,621.30 L190.88,621.30 L191.28,621.30 L191.68,621.30 L192.09,621.30 L192.49,621.30 L192.89,621.30 L193.30,621.30 L193.70,621.30 L194.11,621.30 L194.51,621.30 L194.91,621.30 L195.32,621.30 L195.72,621.30 L196.12,621.30 L196.53,621.30 L196.93,621.30 L197.33,621.30 L197.74,621.30 L198.14,621.30 L198.54,621.30 L198.95,621.30 L199.35,621.30 L199.75,621.30 L200.16,621.30 L200.56,621.30 L200.97,621.30 L201.37,621.30 L201.77,621.30 L202.18,621.30 L202.58,621.30 L202.98,621.30 L203.39,621.30 L203.79,621.30 L204.19,621.30 L204.60,621.30 L205.00,621.30 L205.40,621.30 L205.81,621.30 L206.21,621.30 L206.61,621.30" fill="none" stroke="#d010d8" stroke-width="2.2" stroke-dasharray="6.3,4.7" stroke-linejoin="round" stroke-dashoffset="2"/>
<path d="M44.51,621.30 L44.91,621.29 L45.31,621.29 L45.72,621.29 L46.12,621.29 L46.53,621.29 L46.93,621.29 L47.33,621.28 L47.74,621.28 L48.14,621.28 L48.54,621.27 L48.95,621.27 L49.35,621.26 L49.75,621.25 L50.16,621.25 L50.56,621.24 L50.96,621.23 L51.37,621.21 L51.77,621.20 L52.17,621.18 L52.58,621.16 L52.98,621.14 L53.38,621.11 L53.79,621.08 L54.19,621.05 L54.60,621.01 L55.00,620.96 L55.40,620.91 L55.81,620.85 L56.21,620.78 L56.61,620.71 L57.02,620.62 L57.42,620.53 L57.82,620.42 L58.23,620.30 L58.63,620.16 L59.03,620.01 L59.44,619.83 L59.84,619.64 L60.24,619.43 L60.65,619.19 L61.05,618.93 L61.45,618.64 L61.86,618.32 L62.26,617.96 L62.67,617.57 L63.07,617.14 L63.47,616.67 L63.88,616.15 L64.28,615.59 L64.68,614.98 L65.09,614.31 L65.49,613.59 L65.89,612.80 L66.30,611.95 L66.70,611.04 L67.10,610.05 L67.51,608.99 L67.91,607.85 L68.31,606.64 L68.72,605.34 L69.12,603.95 L69.52,602.48 L69.93,600.92 L70.33,599.27 L70.74,597.52 L71.14,595.68 L71.54,593.75 L71.95,591.72 L72.35,589.60 L72.75,587.38 L73.16,585.07 L73.56,582.66 L73.96,580.17 L74.37,577.60 L74.77,574.94 L75.17,572.21 L75.58,569.40 L75.98,566.53 L76.38,563.60 L76.79,560.61 L77.19,557.59 L77.59,554.52 L78.00,551.43 L78.40,548.32 L78.81,545.21 L79.21,542.10 L79.61,539.00 L80.02,535.93 L80.42,532.90 L80.82,529.92 L81.23,526.99 L81.63,524.15 L82.03,521.39 L82.44,518.73 L82.84,516.17 L83.24,513.74 L83.65,511.45 L84.05,509.29 L84.45,507.30 L84.86,505.46 L85.26,503.80 L85.66,502.32 L86.07,501.03 L86.47,499.94 L86.88,499.04 L87.28,498.35 L87.68,497.87 L88.09,497.60 L88.49,497.54 L88.89,497.70 L89.30,498.07 L89.70,498.65 L90.10,499.43 L90.51,500.42 L90.91,501.61 L91.31,502.99 L91.72,504.56 L92.12,506.30 L92.52,508.21 L92.93,510.29 L93.33,512.51 L93.73,514.87 L94.14,517.36 L94.54,519.96 L94.95,522.67 L95.35,525.47 L95.75,528.36 L96.16,531.31 L96.56,534.31 L96.96,537.37 L97.37,540.45 L97.77,543.55 L98.17,546.67 L98.58,549.78 L98.98,552.88 L99.38,555.96 L99.79,559.01 L100.19,562.02 L100.59,564.98 L101.00,567.88 L101.40,570.72 L101.80,573.50 L102.21,576.19 L102.61,578.81 L103.02,581.35 L103.42,583.80 L103.82,586.16 L104.23,588.43 L104.63,590.60 L105.03,592.68 L105.44,594.67 L105.84,596.56 L106.24,598.35 L106.65,600.05 L107.05,601.66 L107.45,603.18 L107.86,604.61 L108.26,605.96 L108.66,607.22 L109.07,608.39 L109.47,609.49 L109.87,610.52 L110.28,611.47 L110.68,612.36 L111.09,613.17 L111.49,613.93 L111.89,614.63 L112.30,615.27 L112.70,615.86 L113.10,616.40 L113.51,616.89 L113.91,617.35 L114.31,617.76 L114.72,618.13 L115.12,618.47 L115.52,618.78 L115.93,619.05 L116.33,619.31 L116.73,619.53 L117.14,619.73 L117.54,619.92 L117.94,620.08 L118.35,620.22 L118.75,620.35 L119.16,620.47 L119.56,620.57 L119.96,620.66 L120.37,620.74 L120.77,620.82 L121.17,620.88 L121.58,620.93 L121.98,620.98 L122.38,621.03 L122.79,621.06 L123.19,621.10 L123.59,621.12 L124.00,621.15 L124.40,621.17 L124.80,621.19 L125.21,621.20 L125.61,621.22 L126.01,621.23 L126.42,621.24 L126.82,621.25 L127.23,621.26 L127.63,621.26 L128.03,621.27 L128.44,621.27 L128.84,621.28 L129.24,621.28 L129.65,621.28 L130.05,621.29 L130.45,621.29 L130.86,621.29 L131.26,621.29 L131.66,621.29 L132.07,621.29 L132.47,621.30 L132.87,621.30 L133.28,621.30 L133.68,621.30 L134.08,621.30 L134.49,621.30 L134.89,621.30 L135.30,621.30 L135.70,621.30 L136.10,621.30 L136.51,621.30 L136.91,621.30 L137.31,621.30 L137.72,621.30 L138.12,621.30 L138.52,621.30 L138.93,621.30 L139.33,621.30 L139.73,621.30 L140.14,621.30 L140.54,621.30 L140.94,621.30 L141.35,621.30 L141.75,621.30 L142.15,621.30 L142.56,621.30 L142.96,621.30 L143.37,621.30 L143.77,621.30 L144.17,621.30 L144.58,621.30 L144.98,621.30 L145.38,621.30 L145.79,621.30 L146.19,621.30 L146.59,621.30 L147.00,621.30 L147.40,621.30 L147.80,621.30 L148.21,621.30 L148.61,621.30 L149.01,621.30 L149.42,621.30 L149.82,621.30 L150.22,621.30 L150.63,621.30 L151.03,621.30 L151.44,621.30 L151.84,621.30 L152.24,621.30 L152.65,621.30 L153.05,621.30 L153.45,621.30 L153.86,621.30 L154.26,621.30 L154.66,621.30 L155.07,621.30 L155.47,621.30 L155.87,621.30 L156.28,621.30 L156.68,621.30 L157.08,621.30 L157.49,621.30 L157.89,621.30 L158.29,621.30 L158.70,621.30 L159.10,621.30 L159.51,621.30 L159.91,621.30 L160.31,621.30 L160.72,621.30 L161.12,621.30 L161.52,621.30 L161.93,621.30 L162.33,621.30 L162.73,621.30 L163.14,621.30 L163.54,621.30 L163.94,621.30 L164.35,621.30 L164.75,621.30 L165.15,621.30 L165.56,621.30 L165.96,621.30 L166.36,621.30 L166.77,621.30 L167.17,621.30 L167.58,621.30 L167.98,621.30 L168.38,621.30 L168.79,621.30 L169.19,621.30 L169.59,621.30 L170.00,621.30 L170.40,621.30 L170.80,621.30 L171.21,621.30 L171.61,621.30 L172.01,621.30 L172.42,621.30 L172.82,621.30 L173.22,621.30 L173.63,621.30 L174.03,621.30 L174.43,621.30 L174.84,621.30 L175.24,621.30 L175.65,621.30 L176.05,621.30 L176.45,621.30 L176.86,621.30 L177.26,621.30 L177.66,621.30 L178.07,621.30 L178.47,621.30 L178.87,621.30 L179.28,621.30 L179.68,621.30 L180.08,621.30 L180.49,621.30 L180.89,621.30 L181.29,621.30 L181.70,621.30 L182.10,621.30 L182.50,621.30 L182.91,621.30 L183.31,621.30 L183.72,621.30 L184.12,621.30 L184.52,621.30 L184.93,621.30 L185.33,621.30 L185.73,621.30 L186.14,621.30 L186.54,621.30 L186.94,621.30 L187.35,621.30 L187.75,621.30 L188.15,621.30 L188.56,621.30 L188.96,621.30 L189.36,621.30 L189.77,621.30 L190.17,621.30 L190.57,621.30 L190.98,621.30 L191.38,621.30 L191.79,621.30 L192.19,621.30 L192.59,621.30 L193.00,621.30 L193.40,621.30 L193.80,621.30 L194.21,621.30 L194.61,621.30 L195.01,621.30 L195.42,621.30 L195.82,621.30 L196.22,621.30 L196.63,621.30 L197.03,621.30 L197.43,621.30 L197.84,621.30 L198.24,621.30 L198.64,621.30 L199.05,621.30 L199.45,621.30 L199.86,621.30 L200.26,621.30 L200.66,621.30 L201.07,621.30 L201.47,621.30 L201.87,621.30 L202.28,621.30 L202.68,621.30 L203.08,621.30 L203.49,621.30 L203.89,621.30 L204.29,621.30 L204.70,621.30 L205.10,621.30 L205.50,621.30 L205.91,621.30" fill="none" stroke="#1808c8" stroke-width="2.2" stroke-dasharray="6.3,4.7" stroke-linejoin="round" stroke-dashoffset="1"/>
<path d="M43.60,621.30 L44.00,621.29 L44.41,621.29 L44.81,621.29 L45.21,621.29 L45.62,621.29 L46.02,621.29 L46.42,621.28 L46.83,621.28 L47.23,621.28 L47.64,621.27 L48.04,621.27 L48.44,621.26 L48.85,621.25 L49.25,621.25 L49.65,621.24 L50.06,621.23 L50.46,621.21 L50.86,621.20 L51.27,621.18 L51.67,621.16 L52.07,621.14 L52.48,621.11 L52.88,621.08 L53.28,621.05 L53.69,621.01 L54.09,620.96 L54.49,620.91 L54.90,620.85 L55.30,620.78 L55.70,620.71 L56.11,620.62 L56.51,620.53 L56.92,620.42 L57.32,620.30 L57.72,620.16 L58.13,620.01 L58.53,619.83 L58.93,619.64 L59.34,619.43 L59.74,619.19 L60.14,618.93 L60.55,618.64 L60.95,618.32 L61.35,617.96 L61.76,617.57 L62.16,617.14 L62.56,616.67 L62.97,616.15 L63.37,615.59 L63.78,614.98 L64.18,614.31 L64.58,613.59 L64.99,612.80 L65.39,611.95 L65.79,611.04 L66.20,610.05 L66.60,608.99 L67.00,607.85 L67.41,606.64 L67.81,605.34 L68.21,603.95 L68.62,602.48 L69.02,600.92 L69.42,599.27 L69.83,597.52 L70.23,595.68 L70.63,593.75 L71.04,591.72 L71.44,589.60 L71.84,587.38 L72.25,585.07 L72.65,582.66 L73.06,580.17 L73.46,577.60 L73.86,574.94 L74.27,572.21 L74.67,569.40 L75.07,566.53 L75.48,563.60 L75.88,560.61 L76.28,557.59 L76.69,554.52 L77.09,551.43 L77.49,548.32 L77.90,545.21 L78.30,542.10 L78.70,539.00 L79.11,535.93 L79.51,532.90 L79.91,529.92 L80.32,526.99 L80.72,524.15 L81.13,521.39 L81.53,518.73 L81.93,516.17 L82.34,513.74 L82.74,511.45 L83.14,509.29 L83.55,507.30 L83.95,505.46 L84.35,503.80 L84.76,502.32 L85.16,501.03 L85.56,499.94 L85.97,499.04 L86.37,498.35 L86.77,497.87 L87.18,497.60 L87.58,497.54 L87.98,497.70 L88.39,498.07 L88.79,498.65 L89.20,499.43 L89.60,500.42 L90.00,501.61 L90.41,502.99 L90.81,504.56 L91.21,506.30 L91.62,508.21 L92.02,510.29 L92.42,512.51 L92.83,514.87 L93.23,517.36 L93.63,519.96 L94.04,522.67 L94.44,525.47 L94.84,528.36 L95.25,531.31 L95.65,534.31 L96.06,537.37 L96.46,540.45 L96.86,543.55 L97.27,546.67 L97.67,549.78 L98.07,552.88 L98.48,555.96 L98.88,559.01 L99.28,562.02 L99.69,564.98 L100.09,567.88 L100.49,570.72 L100.90,573.50 L101.30,576.19 L101.70,578.81 L102.11,581.35 L102.51,583.80 L102.91,586.16 L103.32,588.43 L103.72,590.60 L104.12,592.68 L104.53,594.67 L104.93,596.56 L105.34,598.35 L105.74,600.05 L106.14,601.66 L106.55,603.18 L106.95,604.61 L107.35,605.96 L107.76,607.22 L108.16,608.39 L108.56,609.49 L108.97,610.52 L109.37,611.47 L109.77,612.36 L110.18,613.17 L110.58,613.93 L110.98,614.63 L111.39,615.27 L111.79,615.86 L112.19,616.40 L112.60,616.89 L113.00,617.35 L113.41,617.76 L113.81,618.13 L114.21,618.47 L114.62,618.78 L115.02,619.05 L115.42,619.31 L115.83,619.53 L116.23,619.73 L116.63,619.92 L117.04,620.08 L117.44,620.22 L117.84,620.35 L118.25,620.47 L118.65,620.57 L119.05,620.66 L119.46,620.74 L119.86,620.82 L120.27,620.88 L120.67,620.93 L121.07,620.98 L121.48,621.03 L121.88,621.06 L122.28,621.10 L122.69,621.12 L123.09,621.15 L123.49,621.17 L123.90,621.19 L124.30,621.20 L124.70,621.22 L125.11,621.23 L125.51,621.24 L125.91,621.25 L126.32,621.26 L126.72,621.26 L127.12,621.27 L127.53,621.27 L127.93,621.28 L128.34,621.28 L128.74,621.28 L129.14,621.29 L129.55,621.29 L129.95,621.29 L130.35,621.29 L130.76,621.29 L131.16,621.29 L131.56,621.30 L131.97,621.30 L132.37,621.30 L132.77,621.30 L133.18,621.30 L133.58,621.30 L133.98,621.30 L134.39,621.30 L134.79,621.30 L135.19,621.30 L135.60,621.30 L136.00,621.30 L136.41,621.30 L136.81,621.30 L137.21,621.30 L137.62,621.30 L138.02,621.30 L138.42,621.30 L138.83,621.30 L139.23,621.30 L139.63,621.30 L140.04,621.30 L140.44,621.30 L140.84,621.30 L141.25,621.30 L141.65,621.30 L142.05,621.30 L142.46,621.30 L142.86,621.30 L143.26,621.30 L143.67,621.30 L144.07,621.30 L144.47,621.30 L144.88,621.30 L145.28,621.30 L145.69,621.30 L146.09,621.30 L146.49,621.30 L146.90,621.30 L147.30,621.30 L147.70,621.30 L148.11,621.30 L148.51,621.30 L148.91,621.30 L149.32,621.30 L149.72,621.30 L150.12,621.30 L150.53,621.30 L150.93,621.30 L151.33,621.30 L151.74,621.30 L152.14,621.30 L152.54,621.30 L152.95,621.30 L153.35,621.30 L153.76,621.30 L154.16,621.30 L154.56,621.30 L154.97,621.30 L155.37,621.30 L155.77,621.30 L156.18,621.30 L156.58,621.30 L156.98,621.30 L157.39,621.30 L157.79,621.30 L158.19,621.30 L158.60,621.30 L159.00,621.30 L159.40,621.30 L159.81,621.30 L160.21,621.30 L160.62,621.30 L161.02,621.30 L161.42,621.30 L161.83,621.30 L162.23,621.30 L162.63,621.30 L163.04,621.30 L163.44,621.30 L163.84,621.30 L164.25,621.30 L164.65,621.30 L165.05,621.30 L165.46,621.30 L165.86,621.30 L166.26,621.30 L166.67,621.30 L167.07,621.30 L167.47,621.30 L167.88,621.30 L168.28,621.30 L168.69,621.30 L169.09,621.30 L169.49,621.30 L169.90,621.30 L170.30,621.30 L170.70,621.30 L171.11,621.30 L171.51,621.30 L171.91,621.30 L172.32,621.30 L172.72,621.30 L173.12,621.30 L173.53,621.30 L173.93,621.30 L174.33,621.30 L174.74,621.30 L175.14,621.30 L175.54,621.30 L175.95,621.30 L176.35,621.30 L176.75,621.30 L177.16,621.30 L177.56,621.30 L177.97,621.30 L178.37,621.30 L178.77,621.30 L179.18,621.30 L179.58,621.30 L179.98,621.30 L180.39,621.30 L180.79,621.30 L181.19,621.30 L181.60,621.30 L182.00,621.30 L182.40,621.30 L182.81,621.30 L183.21,621.30 L183.61,621.30 L184.02,621.30 L184.42,621.30 L184.82,621.30 L185.23,621.30 L185.63,621.30 L186.04,621.30 L186.44,621.30 L186.84,621.30 L187.25,621.30 L187.65,621.30 L188.05,621.30 L188.46,621.30 L188.86,621.30 L189.26,621.30 L189.67,621.30 L190.07,621.30 L190.47,621.30 L190.88,621.30 L191.28,621.30 L191.68,621.30 L192.09,621.30 L192.49,621.30 L192.89,621.30 L193.30,621.30 L193.70,621.30 L194.11,621.30 L194.51,621.30 L194.91,621.30 L195.32,621.30 L195.72,621.30 L196.12,621.30 L196.53,621.30 L196.93,621.30 L197.33,621.30 L197.74,621.30 L198.14,621.30 L198.54,621.30 L198.95,621.30 L199.35,621.30 L199.75,621.30 L200.16,621.30 L200.56,621.30 L200.97,621.30 L201.37,621.30 L201.77,621.30 L202.18,621.30 L202.58,621.30 L202.98,621.30 L203.39,621.30 L203.79,621.30 L204.19,621.30 L204.60,621.30 L205.00,621.30" fill="none" stroke="#000000" stroke-width="2.2" stroke-dasharray="6.3,4.7" stroke-linejoin="round" stroke-dashoffset="0"/>
</g>
<path d="M205.00,621.30 h1.6 M366.00,621.30 h-1.6" stroke="#686868" stroke-width="1"/>
<path d="M205.00,559.63 h1.6 M366.00,559.63 h-1.6" stroke="#686868" stroke-width="1"/>
<path d="M205.00,497.97 h1.6 M366.00,497.97 h-1.6" stroke="#686868" stroke-width="1"/>
<path d="M205.00,473.30 v1.6 M205.00,621.30 v-1.6" stroke="#686868" stroke-width="1"/>
<path d="M245.25,473.30 v1.6 M245.25,621.30 v-1.6" stroke="#686868" stroke-width="1"/>
<path d="M285.50,473.30 v1.6 M285.50,621.30 v-1.6" stroke="#686868" stroke-width="1"/>
<path d="M325.75,473.30 v1.6 M325.75,621.30 v-1.6" stroke="#686868" stroke-width="1"/>
<path d="M366.00,473.30 v1.6 M366.00,621.30 v-1.6" stroke="#686868" stroke-width="1"/>
<text transform="matrix(1.0 0 0 1.17 201.50 625.90)" font-size="13" text-anchor="end" >0</text>
<text transform="matrix(1.0 0 0 1.17 201.50 564.23)" font-size="13" text-anchor="end" >0.5</text>
<text transform="matrix(1.0 0 0 1.17 201.50 502.57)" font-size="13" text-anchor="end" >1</text>
<text transform="matrix(1.0 0 0 1.17 205.00 636.70)" font-size="13" text-anchor="middle" >0</text>
<text transform="matrix(1.0 0 0 1.17 245.25 636.70)" font-size="13" text-anchor="middle" >50</text>
<text transform="matrix(1.0 0 0 1.17 285.50 636.70)" font-size="13" text-anchor="middle" >100</text>
<text transform="matrix(1.0 0 0 1.17 325.75 636.70)" font-size="13" text-anchor="middle" >150</text>
<text transform="matrix(1.0 0 0 1.17 366.00 636.70)" font-size="13" text-anchor="middle" >200</text>
<text x="243.25" y="649.70" font-size="15.2" text-anchor="start" textLength="84.5" lengthAdjust="spacingAndGlyphs">time [minutes]</text>
<clipPath id="c22"><rect x="205.0" y="473.3" width="161.0" height="149.29999999999995"/></clipPath>
<g clip-path="url(#c22)">
<path d="M205.00,621.30 L205.40,621.30 L205.81,621.30 L206.21,621.30 L206.61,621.30 L207.01,621.30 L207.41,621.29 L207.82,621.29 L208.22,621.29 L208.62,621.29 L209.03,621.29 L209.43,621.29 L209.83,621.29 L210.23,621.28 L210.63,621.28 L211.04,621.28 L211.44,621.28 L211.84,621.27 L212.25,621.27 L212.65,621.26 L213.05,621.26 L213.45,621.25 L213.85,621.24 L214.26,621.24 L214.66,621.23 L215.06,621.22 L215.47,621.20 L215.87,621.19 L216.27,621.18 L216.67,621.16 L217.07,621.14 L217.48,621.12 L217.88,621.09 L218.28,621.07 L218.69,621.04 L219.09,621.00 L219.49,620.96 L219.89,620.92 L220.29,620.87 L220.70,620.82 L221.10,620.76 L221.50,620.70 L221.91,620.63 L222.31,620.55 L222.71,620.46 L223.11,620.37 L223.51,620.26 L223.92,620.15 L224.32,620.02 L224.72,619.88 L225.12,619.73 L225.53,619.57 L225.93,619.39 L226.33,619.19 L226.74,618.98 L227.14,618.75 L227.54,618.50 L227.94,618.23 L228.34,617.93 L228.75,617.62 L229.15,617.28 L229.55,616.91 L229.95,616.51 L230.36,616.09 L230.76,615.64 L231.16,615.15 L231.56,614.64 L231.97,614.09 L232.37,613.50 L232.77,612.87 L233.18,612.21 L233.58,611.50 L233.98,610.76 L234.38,609.97 L234.78,609.14 L235.19,608.26 L235.59,607.34 L235.99,606.37 L236.40,605.35 L236.80,604.28 L237.20,603.17 L237.60,602.00 L238.00,600.78 L238.41,599.51 L238.81,598.19 L239.21,596.82 L239.62,595.40 L240.02,593.93 L240.42,592.41 L240.82,590.84 L241.22,589.21 L241.63,587.55 L242.03,585.83 L242.43,584.07 L242.84,582.27 L243.24,580.42 L243.64,578.54 L244.04,576.62 L244.44,574.66 L244.85,572.67 L245.25,570.64 L245.65,568.59 L246.06,566.52 L246.46,564.42 L246.86,562.31 L247.26,560.17 L247.66,558.03 L248.07,555.88 L248.47,553.72 L248.87,551.56 L249.28,549.40 L249.68,547.24 L250.08,545.09 L250.48,542.96 L250.88,540.84 L251.29,538.74 L251.69,536.66 L252.09,534.61 L252.50,532.59 L252.90,530.60 L253.30,528.64 L253.70,526.73 L254.10,524.85 L254.51,523.02 L254.91,521.24 L255.31,519.50 L255.72,517.81 L256.12,516.18 L256.52,514.60 L256.92,513.08 L257.32,511.61 L257.73,510.21 L258.13,508.86 L258.53,507.58 L258.94,506.35 L259.34,505.19 L259.74,504.09 L260.14,503.06 L260.55,502.08 L260.95,501.17 L261.35,500.32 L261.75,499.53 L262.15,498.80 L262.56,498.13 L262.96,497.52 L263.36,496.96 L263.76,496.47 L264.17,496.02 L264.57,495.64 L264.97,495.30 L265.38,495.01 L265.78,494.78 L266.18,494.59 L266.58,494.44 L266.99,494.34 L267.39,494.28 L267.79,494.27 L268.19,494.29 L268.60,494.35 L269.00,494.44 L269.40,494.56 L269.80,494.72 L270.20,494.91 L270.61,495.13 L271.01,495.37 L271.41,495.64 L271.81,495.93 L272.22,496.24 L272.62,496.57 L273.02,496.92 L273.43,497.29 L273.83,497.68 L274.23,498.08 L274.63,498.49 L275.03,498.92 L275.44,499.36 L275.84,499.81 L276.24,500.27 L276.64,500.74 L277.05,501.21 L277.45,501.69 L277.85,502.18 L278.25,502.68 L278.66,503.18 L279.06,503.68 L279.46,504.19 L279.87,504.70 L280.27,505.21 L280.67,505.72 L281.07,506.24 L281.48,506.76 L281.88,507.28 L282.28,507.80 L282.68,508.32 L283.08,508.84 L283.49,509.36 L283.89,509.88 L284.29,510.40 L284.69,510.91 L285.10,511.43 L285.50,511.95 L285.90,512.46 L286.31,512.98 L286.71,513.49 L287.11,514.00 L287.51,514.51 L287.92,515.02 L288.32,515.52 L288.72,516.03 L289.12,516.53 L289.52,517.03 L289.93,517.53 L290.33,518.03 L290.73,518.52 L291.13,519.01 L291.54,519.50 L291.94,519.99 L292.34,520.48 L292.75,520.96 L293.15,521.44 L293.55,521.92 L293.95,522.40 L294.36,522.88 L294.76,523.35 L295.16,523.82 L295.56,524.29 L295.97,524.76 L296.37,525.22 L296.77,525.69 L297.17,526.15 L297.57,526.61 L297.98,527.06 L298.38,527.52 L298.78,527.97 L299.19,528.42 L299.59,528.87 L299.99,529.32 L300.39,529.76 L300.80,530.20 L301.20,530.64 L301.60,531.08 L302.00,531.52 L302.40,531.95 L302.81,532.39 L303.21,532.82 L303.61,533.25 L304.01,533.67 L304.42,534.10 L304.82,534.52 L305.22,534.94 L305.62,535.36 L306.03,535.78 L306.43,536.19 L306.83,536.60 L307.24,537.01 L307.64,537.42 L308.04,537.83 L308.44,538.24 L308.85,538.64 L309.25,539.04 L309.65,539.44 L310.05,539.84 L310.45,540.24 L310.86,540.63 L311.26,541.02 L311.66,541.41 L312.06,541.80 L312.47,542.19 L312.87,542.57 L313.27,542.96 L313.68,543.34 L314.08,543.72 L314.48,544.10 L314.88,544.48 L315.28,544.85 L315.69,545.22 L316.09,545.59 L316.49,545.96 L316.89,546.33 L317.30,546.70 L317.70,547.06 L318.10,547.43 L318.50,547.79 L318.91,548.15 L319.31,548.50 L319.71,548.86 L320.12,549.22 L320.52,549.57 L320.92,549.92 L321.32,550.27 L321.73,550.62 L322.13,550.96 L322.53,551.31 L322.93,551.65 L323.33,551.99 L323.74,552.33 L324.14,552.67 L324.54,553.01 L324.94,553.34 L325.35,553.68 L325.75,554.01 L326.15,554.34 L326.56,554.67 L326.96,555.00 L327.36,555.32 L327.76,555.65 L328.17,555.97 L328.57,556.29 L328.97,556.61 L329.37,556.93 L329.77,557.25 L330.18,557.56 L330.58,557.88 L330.98,558.19 L331.38,558.50 L331.79,558.81 L332.19,559.12 L332.59,559.43 L333.00,559.73 L333.40,560.03 L333.80,560.34 L334.20,560.64 L334.61,560.94 L335.01,561.24 L335.41,561.53 L335.81,561.83 L336.22,562.12 L336.62,562.42 L337.02,562.71 L337.42,563.00 L337.82,563.29 L338.23,563.57 L338.63,563.86 L339.03,564.14 L339.44,564.43 L339.84,564.71 L340.24,564.99 L340.64,565.27 L341.04,565.55 L341.45,565.82 L341.85,566.10 L342.25,566.37 L342.65,566.65 L343.06,566.92 L343.46,567.19 L343.86,567.46 L344.26,567.72 L344.67,567.99 L345.07,568.26 L345.47,568.52 L345.88,568.78 L346.28,569.04 L346.68,569.30 L347.08,569.56 L347.49,569.82 L347.89,570.08 L348.29,570.33 L348.69,570.59 L349.10,570.84 L349.50,571.09 L349.90,571.34 L350.30,571.59 L350.71,571.84 L351.11,572.09 L351.51,572.33 L351.91,572.58 L352.31,572.82 L352.72,573.06 L353.12,573.30 L353.52,573.54 L353.93,573.78 L354.33,574.02 L354.73,574.26 L355.13,574.49 L355.53,574.73 L355.94,574.96 L356.34,575.19 L356.74,575.43 L357.14,575.66 L357.55,575.88 L357.95,576.11 L358.35,576.34 L358.75,576.56 L359.16,576.79 L359.56,577.01 L359.96,577.24 L360.37,577.46 L360.77,577.68 L361.17,577.90 L361.57,578.11 L361.98,578.33 L362.38,578.55 L362.78,578.76 L363.18,578.98 L363.59,579.19 L363.99,579.40 L364.39,579.61 L364.79,579.82 L365.19,580.03 L365.60,580.24 L366.00,580.45" fill="none" stroke="#d40c16" stroke-width="2.2" stroke-linejoin="round" />
<path d="M205.00,621.30 L205.40,621.30 L205.81,621.30 L206.21,621.29 L206.61,621.29 L207.01,621.29 L207.41,621.29 L207.82,621.29 L208.22,621.29 L208.62,621.29 L209.03,621.29 L209.43,621.28 L209.83,621.28 L210.23,621.28 L210.63,621.27 L211.04,621.27 L211.44,621.27 L211.84,621.26 L212.25,621.26 L212.65,621.25 L213.05,621.24 L213.45,621.23 L213.85,621.22 L214.26,621.21 L214.66,621.20 L215.06,621.19 L215.47,621.17 L215.87,621.16 L216.27,621.14 L216.67,621.12 L217.07,621.09 L217.48,621.07 L217.88,621.04 L218.28,621.01 L218.69,620.97 L219.09,620.93 L219.49,620.89 L219.89,620.84 L220.29,620.78 L220.70,620.73 L221.10,620.66 L221.50,620.59 L221.91,620.51 L222.31,620.42 L222.71,620.32 L223.11,620.22 L223.51,620.11 L223.92,619.98 L224.32,619.84 L224.72,619.69 L225.12,619.53 L225.53,619.36 L225.93,619.17 L226.33,618.96 L226.74,618.74 L227.14,618.49 L227.54,618.23 L227.94,617.95 L228.34,617.65 L228.75,617.32 L229.15,616.97 L229.55,616.60 L229.95,616.20 L230.36,615.77 L230.76,615.31 L231.16,614.82 L231.56,614.30 L231.97,613.75 L232.37,613.16 L232.77,612.54 L233.18,611.88 L233.58,611.18 L233.98,610.44 L234.38,609.67 L234.78,608.85 L235.19,607.98 L235.59,607.08 L235.99,606.13 L236.40,605.13 L236.80,604.09 L237.20,603.00 L237.60,601.87 L238.00,600.68 L238.41,599.45 L238.81,598.17 L239.21,596.84 L239.62,595.46 L240.02,594.04 L240.42,592.56 L240.82,591.04 L241.22,589.48 L241.63,587.86 L242.03,586.20 L242.43,584.50 L242.84,582.76 L243.24,580.97 L243.64,579.15 L244.04,577.29 L244.44,575.39 L244.85,573.46 L245.25,571.50 L245.65,569.51 L246.06,567.49 L246.46,565.45 L246.86,563.39 L247.26,561.31 L247.66,559.22 L248.07,557.11 L248.47,554.99 L248.87,552.87 L249.28,550.75 L249.68,548.63 L250.08,546.51 L250.48,544.40 L250.88,542.30 L251.29,540.21 L251.69,538.15 L252.09,536.10 L252.50,534.07 L252.90,532.08 L253.30,530.11 L253.70,528.18 L254.10,526.28 L254.51,524.43 L254.91,522.61 L255.31,520.84 L255.72,519.11 L256.12,517.44 L256.52,515.81 L256.92,514.24 L257.32,512.72 L257.73,511.26 L258.13,509.86 L258.53,508.51 L258.94,507.23 L259.34,506.00 L259.74,504.84 L260.14,503.74 L260.55,502.70 L260.95,501.73 L261.35,500.82 L261.75,499.97 L262.15,499.18 L262.56,498.46 L262.96,497.79 L263.36,497.19 L263.76,496.65 L264.17,496.17 L264.57,495.74 L264.97,495.37 L265.38,495.06 L265.78,494.80 L266.18,494.59 L266.58,494.44 L266.99,494.33 L267.39,494.28 L267.79,494.27 L268.19,494.30 L268.60,494.38 L269.00,494.50 L269.40,494.66 L269.80,494.85 L270.20,495.08 L270.61,495.35 L271.01,495.65 L271.41,495.98 L271.81,496.34 L272.22,496.72 L272.62,497.14 L273.02,497.57 L273.43,498.03 L273.83,498.51 L274.23,499.01 L274.63,499.53 L275.03,500.07 L275.44,500.62 L275.84,501.18 L276.24,501.76 L276.64,502.35 L277.05,502.95 L277.45,503.57 L277.85,504.19 L278.25,504.81 L278.66,505.45 L279.06,506.09 L279.46,506.74 L279.87,507.39 L280.27,508.05 L280.67,508.70 L281.07,509.37 L281.48,510.03 L281.88,510.70 L282.28,511.36 L282.68,512.03 L283.08,512.70 L283.49,513.36 L283.89,514.03 L284.29,514.70 L284.69,515.36 L285.10,516.02 L285.50,516.69 L285.90,517.35 L286.31,518.00 L286.71,518.66 L287.11,519.31 L287.51,519.96 L287.92,520.61 L288.32,521.25 L288.72,521.90 L289.12,522.53 L289.52,523.17 L289.93,523.80 L290.33,524.43 L290.73,525.06 L291.13,525.68 L291.54,526.30 L291.94,526.91 L292.34,527.52 L292.75,528.13 L293.15,528.74 L293.55,529.34 L293.95,529.94 L294.36,530.53 L294.76,531.12 L295.16,531.71 L295.56,532.29 L295.97,532.87 L296.37,533.45 L296.77,534.02 L297.17,534.59 L297.57,535.16 L297.98,535.72 L298.38,536.28 L298.78,536.83 L299.19,537.39 L299.59,537.93 L299.99,538.48 L300.39,539.02 L300.80,539.56 L301.20,540.09 L301.60,540.63 L302.00,541.15 L302.40,541.68 L302.81,542.20 L303.21,542.72 L303.61,543.24 L304.01,543.75 L304.42,544.26 L304.82,544.76 L305.22,545.26 L305.62,545.76 L306.03,546.26 L306.43,546.75 L306.83,547.24 L307.24,547.73 L307.64,548.21 L308.04,548.69 L308.44,549.17 L308.85,549.64 L309.25,550.12 L309.65,550.58 L310.05,551.05 L310.45,551.51 L310.86,551.97 L311.26,552.43 L311.66,552.88 L312.06,553.33 L312.47,553.78 L312.87,554.23 L313.27,554.67 L313.68,555.11 L314.08,555.55 L314.48,555.98 L314.88,556.41 L315.28,556.84 L315.69,557.27 L316.09,557.69 L316.49,558.11 L316.89,558.53 L317.30,558.94 L317.70,559.36 L318.10,559.77 L318.50,560.17 L318.91,560.58 L319.31,560.98 L319.71,561.38 L320.12,561.78 L320.52,562.17 L320.92,562.56 L321.32,562.95 L321.73,563.34 L322.13,563.72 L322.53,564.11 L322.93,564.49 L323.33,564.86 L323.74,565.24 L324.14,565.61 L324.54,565.98 L324.94,566.35 L325.35,566.71 L325.75,567.08 L326.15,567.44 L326.56,567.80 L326.96,568.15 L327.36,568.51 L327.76,568.86 L328.17,569.21 L328.57,569.55 L328.97,569.90 L329.37,570.24 L329.77,570.58 L330.18,570.92 L330.58,571.26 L330.98,571.59 L331.38,571.92 L331.79,572.25 L332.19,572.58 L332.59,572.90 L333.00,573.23 L333.40,573.55 L333.80,573.87 L334.20,574.19 L334.61,574.50 L335.01,574.81 L335.41,575.12 L335.81,575.43 L336.22,575.74 L336.62,576.05 L337.02,576.35 L337.42,576.65 L337.82,576.95 L338.23,577.25 L338.63,577.54 L339.03,577.84 L339.44,578.13 L339.84,578.42 L340.24,578.71 L340.64,578.99 L341.04,579.28 L341.45,579.56 L341.85,579.84 L342.25,580.12 L342.65,580.39 L343.06,580.67 L343.46,580.94 L343.86,581.21 L344.26,581.48 L344.67,581.75 L345.07,582.02 L345.47,582.28 L345.88,582.55 L346.28,582.81 L346.68,583.07 L347.08,583.32 L347.49,583.58 L347.89,583.84 L348.29,584.09 L348.69,584.34 L349.10,584.59 L349.50,584.84 L349.90,585.08 L350.30,585.33 L350.71,585.57 L351.11,585.81 L351.51,586.05 L351.91,586.29 L352.31,586.53 L352.72,586.76 L353.12,587.00 L353.52,587.23 L353.93,587.46 L354.33,587.69 L354.73,587.92 L355.13,588.14 L355.53,588.37 L355.94,588.59 L356.34,588.81 L356.74,589.03 L357.14,589.25 L357.55,589.47 L357.95,589.69 L358.35,589.90 L358.75,590.12 L359.16,590.33 L359.56,590.54 L359.96,590.75 L360.37,590.95 L360.77,591.16 L361.17,591.37 L361.57,591.57 L361.98,591.77 L362.38,591.97 L362.78,592.17 L363.18,592.37 L363.59,592.57 L363.99,592.77 L364.39,592.96 L364.79,593.15 L365.19,593.35 L365.60,593.54 L366.00,593.73" fill="none" stroke="#d010d8" stroke-width="2.2" stroke-linejoin="round" stroke-opacity="0.8"/>
<path d="M205.00,621.30 L205.40,621.30 L205.81,621.30 L206.21,621.30 L206.61,621.29 L207.01,621.29 L207.41,621.29 L207.82,621.29 L208.22,621.29 L208.62,621.29 L209.03,621.29 L209.43,621.28 L209.83,621.28 L210.23,621.28 L210.63,621.27 L211.04,621.27 L211.44,621.26 L211.84,621.26 L212.25,621.25 L212.65,621.24 L213.05,621.23 L213.45,621.22 L213.85,621.21 L214.26,621.19 L214.66,621.17 L215.06,621.16 L215.47,621.13 L215.87,621.11 L216.27,621.08 L216.67,621.05 L217.07,621.01 L217.48,620.97 L217.88,620.93 L218.28,620.87 L218.69,620.82 L219.09,620.75 L219.49,620.68 L219.89,620.60 L220.29,620.51 L220.70,620.40 L221.10,620.29 L221.50,620.17 L221.91,620.03 L222.31,619.87 L222.71,619.70 L223.11,619.52 L223.51,619.31 L223.92,619.09 L224.32,618.84 L224.72,618.57 L225.12,618.27 L225.53,617.94 L225.93,617.59 L226.33,617.21 L226.74,616.79 L227.14,616.34 L227.54,615.85 L227.94,615.32 L228.34,614.75 L228.75,614.13 L229.15,613.47 L229.55,612.76 L229.95,612.00 L230.36,611.19 L230.76,610.33 L231.16,609.41 L231.56,608.43 L231.97,607.39 L232.37,606.29 L232.77,605.12 L233.18,603.89 L233.58,602.59 L233.98,601.23 L234.38,599.79 L234.78,598.29 L235.19,596.72 L235.59,595.08 L235.99,593.37 L236.40,591.59 L236.80,589.74 L237.20,587.82 L237.60,585.84 L238.00,583.79 L238.41,581.68 L238.81,579.51 L239.21,577.28 L239.62,574.99 L240.02,572.66 L240.42,570.27 L240.82,567.84 L241.22,565.37 L241.63,562.86 L242.03,560.32 L242.43,557.76 L242.84,555.18 L243.24,552.58 L243.64,549.97 L244.04,547.36 L244.44,544.75 L244.85,542.14 L245.25,539.56 L245.65,536.99 L246.06,534.46 L246.46,531.95 L246.86,529.49 L247.26,527.07 L247.66,524.71 L248.07,522.40 L248.47,520.16 L248.87,517.99 L249.28,515.89 L249.68,513.87 L250.08,511.94 L250.48,510.09 L250.88,508.34 L251.29,506.69 L251.69,505.14 L252.09,503.69 L252.50,502.34 L252.90,501.11 L253.30,499.98 L253.70,498.97 L254.10,498.07 L254.51,497.28 L254.91,496.60 L255.31,496.04 L255.72,495.59 L256.12,495.25 L256.52,495.02 L256.92,494.90 L257.32,494.89 L257.73,494.98 L258.13,495.17 L258.53,495.46 L258.94,495.85 L259.34,496.33 L259.74,496.90 L260.14,497.55 L260.55,498.28 L260.95,499.09 L261.35,499.98 L261.75,500.93 L262.15,501.95 L262.56,503.03 L262.96,504.17 L263.36,505.36 L263.76,506.60 L264.17,507.89 L264.57,509.21 L264.97,510.57 L265.38,511.97 L265.78,513.39 L266.18,514.84 L266.58,516.32 L266.99,517.81 L267.39,519.32 L267.79,520.84 L268.19,522.37 L268.60,523.90 L269.00,525.45 L269.40,526.99 L269.80,528.53 L270.20,530.07 L270.61,531.61 L271.01,533.14 L271.41,534.66 L271.81,536.18 L272.22,537.68 L272.62,539.17 L273.02,540.64 L273.43,542.10 L273.83,543.55 L274.23,544.98 L274.63,546.39 L275.03,547.79 L275.44,549.16 L275.84,550.52 L276.24,551.86 L276.64,553.18 L277.05,554.47 L277.45,555.75 L277.85,557.01 L278.25,558.25 L278.66,559.47 L279.06,560.66 L279.46,561.84 L279.87,562.99 L280.27,564.13 L280.67,565.25 L281.07,566.34 L281.48,567.42 L281.88,568.48 L282.28,569.51 L282.68,570.53 L283.08,571.53 L283.49,572.51 L283.89,573.47 L284.29,574.42 L284.69,575.34 L285.10,576.25 L285.50,577.14 L285.90,578.01 L286.31,578.87 L286.71,579.71 L287.11,580.54 L287.51,581.35 L287.92,582.14 L288.32,582.92 L288.72,583.68 L289.12,584.43 L289.52,585.16 L289.93,585.88 L290.33,586.58 L290.73,587.27 L291.13,587.95 L291.54,588.62 L291.94,589.27 L292.34,589.91 L292.75,590.53 L293.15,591.15 L293.55,591.75 L293.95,592.34 L294.36,592.92 L294.76,593.48 L295.16,594.04 L295.56,594.58 L295.97,595.12 L296.37,595.64 L296.77,596.16 L297.17,596.66 L297.57,597.15 L297.98,597.64 L298.38,598.11 L298.78,598.58 L299.19,599.03 L299.59,599.48 L299.99,599.92 L300.39,600.35 L300.80,600.77 L301.20,601.18 L301.60,601.58 L302.00,601.98 L302.40,602.37 L302.81,602.75 L303.21,603.12 L303.61,603.49 L304.01,603.85 L304.42,604.20 L304.82,604.54 L305.22,604.88 L305.62,605.21 L306.03,605.54 L306.43,605.85 L306.83,606.17 L307.24,606.47 L307.64,606.77 L308.04,607.06 L308.44,607.35 L308.85,607.63 L309.25,607.91 L309.65,608.18 L310.05,608.45 L310.45,608.71 L310.86,608.96 L311.26,609.21 L311.66,609.46 L312.06,609.70 L312.47,609.93 L312.87,610.16 L313.27,610.39 L313.68,610.61 L314.08,610.83 L314.48,611.04 L314.88,611.25 L315.28,611.45 L315.69,611.65 L316.09,611.85 L316.49,612.04 L316.89,612.23 L317.30,612.41 L317.70,612.59 L318.10,612.77 L318.50,612.95 L318.91,613.12 L319.31,613.28 L319.71,613.45 L320.12,613.61 L320.52,613.76 L320.92,613.92 L321.32,614.07 L321.73,614.22 L322.13,614.36 L322.53,614.50 L322.93,614.64 L323.33,614.78 L323.74,614.91 L324.14,615.04 L324.54,615.17 L324.94,615.30 L325.35,615.42 L325.75,615.54 L326.15,615.66 L326.56,615.77 L326.96,615.89 L327.36,616.00 L327.76,616.11 L328.17,616.21 L328.57,616.32 L328.97,616.42 L329.37,616.52 L329.77,616.62 L330.18,616.72 L330.58,616.81 L330.98,616.90 L331.38,616.99 L331.79,617.08 L332.19,617.17 L332.59,617.25 L333.00,617.34 L333.40,617.42 L333.80,617.50 L334.20,617.58 L334.61,617.66 L335.01,617.73 L335.41,617.80 L335.81,617.88 L336.22,617.95 L336.62,618.02 L337.02,618.08 L337.42,618.15 L337.82,618.22 L338.23,618.28 L338.63,618.34 L339.03,618.40 L339.44,618.46 L339.84,618.52 L340.24,618.58 L340.64,618.64 L341.04,618.69 L341.45,618.75 L341.85,618.80 L342.25,618.85 L342.65,618.90 L343.06,618.95 L343.46,619.00 L343.86,619.05 L344.26,619.10 L344.67,619.14 L345.07,619.19 L345.47,619.23 L345.88,619.27 L346.28,619.32 L346.68,619.36 L347.08,619.40 L347.49,619.44 L347.89,619.48 L348.29,619.52 L348.69,619.55 L349.10,619.59 L349.50,619.62 L349.90,619.66 L350.30,619.69 L350.71,619.73 L351.11,619.76 L351.51,619.79 L351.91,619.82 L352.31,619.86 L352.72,619.89 L353.12,619.92 L353.52,619.94 L353.93,619.97 L354.33,620.00 L354.73,620.03 L355.13,620.06 L355.53,620.08 L355.94,620.11 L356.34,620.13 L356.74,620.16 L357.14,620.18 L357.55,620.20 L357.95,620.23 L358.35,620.25 L358.75,620.27 L359.16,620.29 L359.56,620.32 L359.96,620.34 L360.37,620.36 L360.77,620.38 L361.17,620.40 L361.57,620.41 L361.98,620.43 L362.38,620.45 L362.78,620.47 L363.18,620.49 L363.59,620.50 L363.99,620.52 L364.39,620.54 L364.79,620.55 L365.19,620.57 L365.60,620.59 L366.00,620.60" fill="none" stroke="#1808c8" stroke-width="2.2" stroke-linejoin="round" />
<path d="M205.00,621.29 L205.40,621.28 L205.81,621.28 L206.21,621.28 L206.61,621.27 L207.01,621.27 L207.41,621.27 L207.82,621.26 L208.22,621.25 L208.62,621.24 L209.03,621.24 L209.43,621.22 L209.83,621.21 L210.23,621.20 L210.63,621.18 L211.04,621.16 L211.44,621.14 L211.84,621.12 L212.25,621.09 L212.65,621.06 L213.05,621.03 L213.45,620.99 L213.85,620.94 L214.26,620.89 L214.66,620.83 L215.06,620.77 L215.47,620.70 L215.87,620.62 L216.27,620.53 L216.67,620.43 L217.07,620.31 L217.48,620.19 L217.88,620.05 L218.28,619.89 L218.69,619.72 L219.09,619.53 L219.49,619.32 L219.89,619.09 L220.29,618.84 L220.70,618.56 L221.10,618.26 L221.50,617.93 L221.91,617.56 L222.31,617.17 L222.71,616.73 L223.11,616.27 L223.51,615.76 L223.92,615.21 L224.32,614.61 L224.72,613.97 L225.12,613.28 L225.53,612.54 L225.93,611.75 L226.33,610.90 L226.74,609.99 L227.14,609.02 L227.54,607.99 L227.94,606.89 L228.34,605.72 L228.75,604.49 L229.15,603.19 L229.55,601.81 L229.95,600.36 L230.36,598.84 L230.76,597.24 L231.16,595.57 L231.56,593.83 L231.97,592.00 L232.37,590.11 L232.77,588.14 L233.18,586.09 L233.58,583.98 L233.98,581.80 L234.38,579.55 L234.78,577.24 L235.19,574.86 L235.59,572.43 L235.99,569.95 L236.40,567.42 L236.80,564.84 L237.20,562.23 L237.60,559.58 L238.00,556.90 L238.41,554.21 L238.81,551.50 L239.21,548.78 L239.62,546.06 L240.02,543.34 L240.42,540.64 L240.82,537.96 L241.22,535.30 L241.63,532.69 L242.03,530.11 L242.43,527.59 L242.84,525.13 L243.24,522.73 L243.64,520.40 L244.04,518.16 L244.44,516.00 L244.85,513.94 L245.25,511.97 L245.65,510.11 L246.06,508.36 L246.46,506.73 L246.86,505.22 L247.26,503.83 L247.66,502.57 L248.07,501.44 L248.47,500.44 L248.87,499.58 L249.28,498.86 L249.68,498.28 L250.08,497.83 L250.48,497.53 L250.88,497.36 L251.29,497.33 L251.69,497.43 L252.09,497.67 L252.50,498.04 L252.90,498.54 L253.30,499.16 L253.70,499.90 L254.10,500.75 L254.51,501.72 L254.91,502.80 L255.31,503.97 L255.72,505.25 L256.12,506.61 L256.52,508.06 L256.92,509.60 L257.32,511.20 L257.73,512.88 L258.13,514.61 L258.53,516.41 L258.94,518.25 L259.34,520.14 L259.74,522.07 L260.14,524.04 L260.55,526.03 L260.95,528.05 L261.35,530.09 L261.75,532.14 L262.15,534.19 L262.56,536.26 L262.96,538.32 L263.36,540.38 L263.76,542.43 L264.17,544.48 L264.57,546.50 L264.97,548.51 L265.38,550.50 L265.78,552.47 L266.18,554.41 L266.58,556.32 L266.99,558.21 L267.39,560.06 L267.79,561.88 L268.19,563.67 L268.60,565.42 L269.00,567.13 L269.40,568.81 L269.80,570.45 L270.20,572.06 L270.61,573.62 L271.01,575.15 L271.41,576.64 L271.81,578.09 L272.22,579.50 L272.62,580.87 L273.02,582.20 L273.43,583.50 L273.83,584.76 L274.23,585.98 L274.63,587.17 L275.03,588.32 L275.44,589.43 L275.84,590.52 L276.24,591.57 L276.64,592.58 L277.05,593.56 L277.45,594.52 L277.85,595.44 L278.25,596.33 L278.66,597.19 L279.06,598.03 L279.46,598.83 L279.87,599.61 L280.27,600.37 L280.67,601.10 L281.07,601.80 L281.48,602.48 L281.88,603.14 L282.28,603.78 L282.68,604.39 L283.08,604.99 L283.49,605.56 L283.89,606.11 L284.29,606.65 L284.69,607.16 L285.10,607.66 L285.50,608.14 L285.90,608.61 L286.31,609.05 L286.71,609.49 L287.11,609.91 L287.51,610.31 L287.92,610.70 L288.32,611.07 L288.72,611.44 L289.12,611.79 L289.52,612.12 L289.93,612.45 L290.33,612.77 L290.73,613.07 L291.13,613.36 L291.54,613.65 L291.94,613.92 L292.34,614.18 L292.75,614.44 L293.15,614.68 L293.55,614.92 L293.95,615.15 L294.36,615.37 L294.76,615.58 L295.16,615.78 L295.56,615.98 L295.97,616.17 L296.37,616.36 L296.77,616.53 L297.17,616.70 L297.57,616.87 L297.98,617.03 L298.38,617.18 L298.78,617.33 L299.19,617.47 L299.59,617.61 L299.99,617.75 L300.39,617.87 L300.80,618.00 L301.20,618.12 L301.60,618.23 L302.00,618.34 L302.40,618.45 L302.81,618.55 L303.21,618.65 L303.61,618.75 L304.01,618.84 L304.42,618.93 L304.82,619.02 L305.22,619.10 L305.62,619.18 L306.03,619.26 L306.43,619.33 L306.83,619.40 L307.24,619.47 L307.64,619.54 L308.04,619.60 L308.44,619.67 L308.85,619.73 L309.25,619.78 L309.65,619.84 L310.05,619.89 L310.45,619.94 L310.86,619.99 L311.26,620.04 L311.66,620.09 L312.06,620.13 L312.47,620.17 L312.87,620.22 L313.27,620.26 L313.68,620.29 L314.08,620.33 L314.48,620.37 L314.88,620.40 L315.28,620.43 L315.69,620.47 L316.09,620.50 L316.49,620.53 L316.89,620.56 L317.30,620.58 L317.70,620.61 L318.10,620.64 L318.50,620.66 L318.91,620.68 L319.31,620.71 L319.71,620.73 L320.12,620.75 L320.52,620.77 L320.92,620.79 L321.32,620.81 L321.73,620.83 L322.13,620.85 L322.53,620.86 L322.93,620.88 L323.33,620.89 L323.74,620.91 L324.14,620.92 L324.54,620.94 L324.94,620.95 L325.35,620.96 L325.75,620.98 L326.15,620.99 L326.56,621.00 L326.96,621.01 L327.36,621.02 L327.76,621.03 L328.17,621.04 L328.57,621.05 L328.97,621.06 L329.37,621.07 L329.77,621.08 L330.18,621.09 L330.58,621.10 L330.98,621.10 L331.38,621.11 L331.79,621.12 L332.19,621.13 L332.59,621.13 L333.00,621.14 L333.40,621.14 L333.80,621.15 L334.20,621.16 L334.61,621.16 L335.01,621.17 L335.41,621.17 L335.81,621.18 L336.22,621.18 L336.62,621.19 L337.02,621.19 L337.42,621.19 L337.82,621.20 L338.23,621.20 L338.63,621.21 L339.03,621.21 L339.44,621.21 L339.84,621.22 L340.24,621.22 L340.64,621.22 L341.04,621.23 L341.45,621.23 L341.85,621.23 L342.25,621.23 L342.65,621.24 L343.06,621.24 L343.46,621.24 L343.86,621.24 L344.26,621.25 L344.67,621.25 L345.07,621.25 L345.47,621.25 L345.88,621.25 L346.28,621.26 L346.68,621.26 L347.08,621.26 L347.49,621.26 L347.89,621.26 L348.29,621.26 L348.69,621.26 L349.10,621.27 L349.50,621.27 L349.90,621.27 L350.30,621.27 L350.71,621.27 L351.11,621.27 L351.51,621.27 L351.91,621.27 L352.31,621.28 L352.72,621.28 L353.12,621.28 L353.52,621.28 L353.93,621.28 L354.33,621.28 L354.73,621.28 L355.13,621.28 L355.53,621.28 L355.94,621.28 L356.34,621.28 L356.74,621.28 L357.14,621.28 L357.55,621.29 L357.95,621.29 L358.35,621.29 L358.75,621.29 L359.16,621.29 L359.56,621.29 L359.96,621.29 L360.37,621.29 L360.77,621.29 L361.17,621.29 L361.57,621.29 L361.98,621.29 L362.38,621.29 L362.78,621.29 L363.18,621.29 L363.59,621.29 L363.99,621.29 L364.39,621.29 L364.79,621.29 L365.19,621.29 L365.60,621.29 L366.00,621.29" fill="none" stroke="#000000" stroke-width="2.2" stroke-linejoin="round" />
</g>
<path d="M422.90,587.66 h1.6 M589.70,587.66 h-1.6" stroke="#686868" stroke-width="1"/>
<path d="M422.90,554.03 h1.6 M589.70,554.03 h-1.6" stroke="#686868" stroke-width="1"/>
<path d="M422.90,520.39 h1.6 M589.70,520.39 h-1.6" stroke="#686868" stroke-width="1"/>
<path d="M422.90,486.75 h1.6 M589.70,486.75 h-1.6" stroke="#686868" stroke-width="1"/>
<path d="M422.90,473.30 v1.6 M422.90,621.30 v-1.6" stroke="#686868" stroke-width="1"/>
<path d="M464.60,473.30 v1.6 M464.60,621.30 v-1.6" stroke="#686868" stroke-width="1"/>
<path d="M506.30,473.30 v1.6 M506.30,621.30 v-1.6" stroke="#686868" stroke-width="1"/>
<path d="M548.00,473.30 v1.6 M548.00,621.30 v-1.6" stroke="#686868" stroke-width="1"/>
<path d="M589.70,473.30 v1.6 M589.70,621.30 v-1.6" stroke="#686868" stroke-width="1"/>
<text transform="matrix(1.0 0 0 1.17 419.40 592.26)" font-size="13" text-anchor="end" >−1</text>
<text transform="matrix(1.0 0 0 1.17 419.40 558.63)" font-size="13" text-anchor="end" >−0.5</text>
<text transform="matrix(1.0 0 0 1.17 419.40 524.99)" font-size="13" text-anchor="end" >0</text>
<text transform="matrix(1.0 0 0 1.17 419.40 491.35)" font-size="13" text-anchor="end" >0.5</text>
<text transform="matrix(1.0 0 0 1.17 422.90 636.70)" font-size="13" text-anchor="middle" >0</text>
<text transform="matrix(1.0 0 0 1.17 464.60 636.70)" font-size="13" text-anchor="middle" >50</text>
<text transform="matrix(1.0 0 0 1.17 506.30 636.70)" font-size="13" text-anchor="middle" >100</text>
<text transform="matrix(1.0 0 0 1.17 548.00 636.70)" font-size="13" text-anchor="middle" >150</text>
<text transform="matrix(1.0 0 0 1.17 589.70 636.70)" font-size="13" text-anchor="middle" >200</text>
<text x="464.05" y="649.70" font-size="15.2" text-anchor="start" textLength="84.5" lengthAdjust="spacingAndGlyphs">time [minutes]</text>
<path d="M422.90,520.39 H589.70" stroke="#c2c2c2" stroke-width="1" stroke-dasharray="5.6,5.4"/>
<clipPath id="c32"><rect x="422.9" y="473.3" width="166.80000000000007" height="147.99999999999994"/></clipPath>
<g clip-path="url(#c32)">
<path d="M441.00,538.55 L441.29,538.59 L441.58,538.63 L441.87,538.68 L442.16,538.72 L442.45,538.76 L442.74,538.80 L443.02,538.84 L443.31,538.89 L443.60,538.93 L443.89,538.98 L444.18,539.02 L444.47,539.07 L444.76,539.11 L445.05,539.16 L445.34,539.21 L445.63,539.25 L445.92,539.30 L446.21,539.35 L446.50,539.40 L446.79,539.45 L447.08,539.50 L447.37,539.55 L447.66,539.60 L447.95,539.65 L448.24,539.70 L448.53,539.76 L448.82,539.81 L449.11,539.86 L449.40,539.92 L449.69,539.97 L449.98,540.02 L450.26,540.08 L450.55,540.13 L450.84,540.19 L451.13,540.25 L451.42,540.30 L451.71,540.36 L452.00,540.42 L452.29,540.47 L452.58,540.53 L452.87,540.59 L453.16,540.65 L453.45,540.71 L453.74,540.76 L454.03,540.82 L454.32,540.88 L454.61,540.94 L454.90,541.00 L455.19,541.06 L455.48,541.12 L455.77,541.19 L456.06,541.25 L456.35,541.31 L456.64,541.38 L456.93,541.44 L457.22,541.51 L457.50,541.57 L457.79,541.64 L458.08,541.71 L458.37,541.78 L458.66,541.85 L458.95,541.92 L459.24,541.99 L459.53,542.06 L459.82,542.13 L460.11,542.20 L460.40,542.28 L460.69,542.35 L460.98,542.42 L461.27,542.50 L461.56,542.57 L461.85,542.65 L462.14,542.72 L462.43,542.80 L462.72,542.88 L463.01,542.95 L463.30,543.03 L463.59,543.11 L463.88,543.19 L464.17,543.26 L464.45,543.34 L464.74,543.42 L465.03,543.50 L465.32,543.58 L465.61,543.66 L465.90,543.74 L466.19,543.82 L466.48,543.90 L466.77,543.98 L467.06,544.06 L467.35,544.14 L467.64,544.23 L467.93,544.31 L468.22,544.39 L468.51,544.48 L468.80,544.56 L469.09,544.65 L469.38,544.73 L469.67,544.82 L469.96,544.91 L470.25,545.00 L470.54,545.09 L470.83,545.17 L471.12,545.26 L471.41,545.35 L471.69,545.44 L471.98,545.53 L472.27,545.63 L472.56,545.72 L472.85,545.81 L473.14,545.90 L473.43,545.99 L473.72,546.09 L474.01,546.18 L474.30,546.27 L474.59,546.37 L474.88,546.46 L475.17,546.56 L475.46,546.65 L475.75,546.74 L476.04,546.84 L476.33,546.93 L476.62,547.03 L476.91,547.12 L477.20,547.22 L477.49,547.31 L477.78,547.41 L478.07,547.50 L478.36,547.60 L478.65,547.69 L478.93,547.79 L479.22,547.88 L479.51,547.98 L479.80,548.07 L480.09,548.17 L480.38,548.27 L480.67,548.36 L480.96,548.46 L481.25,548.55 L481.54,548.65 L481.83,548.75 L482.12,548.84 L482.41,548.94 L482.70,549.04 L482.99,549.14 L483.28,549.24 L483.57,549.33 L483.86,549.43 L484.15,549.53 L484.44,549.64 L484.73,549.74 L485.02,549.84 L485.31,549.94 L485.60,550.04 L485.89,550.15 L486.17,550.25 L486.46,550.36 L486.75,550.47 L487.04,550.57 L487.33,550.68 L487.62,550.79 L487.91,550.90 L488.20,551.01 L488.49,551.12 L488.78,551.24 L489.07,551.35 L489.36,551.47 L489.65,551.58 L489.94,551.70 L490.23,551.82 L490.52,551.94 L490.81,552.06 L491.10,552.18 L491.39,552.31 L491.68,552.43 L491.97,552.56 L492.26,552.68 L492.55,552.81 L492.84,552.94 L493.12,553.07 L493.41,553.20 L493.70,553.33 L493.99,553.47 L494.28,553.60 L494.57,553.73 L494.86,553.87 L495.15,554.01 L495.44,554.14 L495.73,554.28 L496.02,554.42 L496.31,554.56 L496.60,554.70 L496.89,554.84 L497.18,554.99 L497.47,555.13 L497.76,555.27 L498.05,555.42 L498.34,555.56 L498.63,555.71" fill="none" stroke="#d40c16" stroke-width="2.2" stroke-dasharray="6.3,4.7" stroke-linejoin="round" />
<path d="M441.00,539.29 L441.29,539.33 L441.58,539.37 L441.87,539.42 L442.16,539.46 L442.45,539.50 L442.74,539.54 L443.02,539.58 L443.31,539.63 L443.60,539.67 L443.89,539.72 L444.18,539.76 L444.47,539.81 L444.76,539.85 L445.05,539.90 L445.34,539.95 L445.63,539.99 L445.92,540.04 L446.21,540.09 L446.50,540.14 L446.79,540.19 L447.08,540.24 L447.37,540.29 L447.66,540.34 L447.95,540.39 L448.24,540.44 L448.53,540.50 L448.82,540.55 L449.11,540.60 L449.40,540.66 L449.69,540.71 L449.98,540.76 L450.26,540.82 L450.55,540.87 L450.84,540.93 L451.13,540.99 L451.42,541.04 L451.71,541.10 L452.00,541.16 L452.29,541.21 L452.58,541.27 L452.87,541.33 L453.16,541.39 L453.45,541.45 L453.74,541.50 L454.03,541.56 L454.32,541.62 L454.61,541.68 L454.90,541.74 L455.19,541.80 L455.48,541.86 L455.77,541.93 L456.06,541.99 L456.35,542.05 L456.64,542.12 L456.93,542.18 L457.22,542.25 L457.50,542.31 L457.79,542.38 L458.08,542.45 L458.37,542.52 L458.66,542.59 L458.95,542.66 L459.24,542.73 L459.53,542.80 L459.82,542.87 L460.11,542.94 L460.40,543.02 L460.69,543.09 L460.98,543.16 L461.27,543.24 L461.56,543.31 L461.85,543.39 L462.14,543.46 L462.43,543.54 L462.72,543.62 L463.01,543.69 L463.30,543.77 L463.59,543.85 L463.88,543.93 L464.17,544.00 L464.45,544.08 L464.74,544.16 L465.03,544.24 L465.32,544.32 L465.61,544.40 L465.90,544.48 L466.19,544.56 L466.48,544.64 L466.77,544.72 L467.06,544.80 L467.35,544.88 L467.64,544.97 L467.93,545.05 L468.22,545.13 L468.51,545.22 L468.80,545.30 L469.09,545.39 L469.38,545.47 L469.67,545.56 L469.96,545.65 L470.25,545.74 L470.54,545.83 L470.83,545.91 L471.12,546.00 L471.41,546.09 L471.69,546.18 L471.98,546.27 L472.27,546.37 L472.56,546.46 L472.85,546.55 L473.14,546.64 L473.43,546.73 L473.72,546.83 L474.01,546.92 L474.30,547.01 L474.59,547.11 L474.88,547.20 L475.17,547.30 L475.46,547.39 L475.75,547.48 L476.04,547.58 L476.33,547.67 L476.62,547.77 L476.91,547.86 L477.20,547.96 L477.49,548.05 L477.78,548.15 L478.07,548.24 L478.36,548.34 L478.65,548.43 L478.93,548.53 L479.22,548.62 L479.51,548.72 L479.80,548.81 L480.09,548.91 L480.38,549.01 L480.67,549.10 L480.96,549.20 L481.25,549.29 L481.54,549.39 L481.83,549.49 L482.12,549.58 L482.41,549.68 L482.70,549.78 L482.99,549.88 L483.28,549.98 L483.57,550.07 L483.86,550.17 L484.15,550.27 L484.44,550.38 L484.73,550.48 L485.02,550.58 L485.31,550.68 L485.60,550.78 L485.89,550.89 L486.17,550.99 L486.46,551.10 L486.75,551.21 L487.04,551.31 L487.33,551.42 L487.62,551.53 L487.91,551.64 L488.20,551.75 L488.49,551.86 L488.78,551.98 L489.07,552.09 L489.36,552.21 L489.65,552.32 L489.94,552.44 L490.23,552.56 L490.52,552.68 L490.81,552.80 L491.10,552.92 L491.39,553.05 L491.68,553.17 L491.97,553.30 L492.26,553.42 L492.55,553.55 L492.84,553.68 L493.12,553.81 L493.41,553.94 L493.70,554.07 L493.99,554.21 L494.28,554.34 L494.57,554.47 L494.86,554.61 L495.15,554.75 L495.44,554.88 L495.73,555.02 L496.02,555.16 L496.31,555.30 L496.60,555.44 L496.89,555.58 L497.18,555.73 L497.47,555.87 L497.76,556.01 L498.05,556.16 L498.34,556.30 L498.63,556.45" fill="none" stroke="#d010d8" stroke-width="2.2" stroke-dasharray="6.3,4.7" stroke-linejoin="round" />
<path d="M439.33,540.91 L439.62,540.93 L439.92,540.95 L440.21,540.98 L440.50,541.00 L440.79,541.03 L441.09,541.05 L441.38,541.08 L441.67,541.10 L441.97,541.13 L442.26,541.16 L442.55,541.19 L442.85,541.21 L443.14,541.24 L443.43,541.27 L443.72,541.30 L444.02,541.33 L444.31,541.36 L444.60,541.40 L444.90,541.43 L445.19,541.46 L445.48,541.49 L445.77,541.52 L446.07,541.56 L446.36,541.59 L446.65,541.63 L446.95,541.66 L447.24,541.69 L447.53,541.73 L447.83,541.77 L448.12,541.80 L448.41,541.84 L448.70,541.87 L449.00,541.91 L449.29,541.95 L449.58,541.99 L449.88,542.03 L450.17,542.06 L450.46,542.10 L450.75,542.14 L451.05,542.18 L451.34,542.22 L451.63,542.26 L451.93,542.30 L452.22,542.34 L452.51,542.38 L452.81,542.42 L453.10,542.46 L453.39,542.50 L453.68,542.54 L453.98,542.59 L454.27,542.63 L454.56,542.67 L454.86,542.71 L455.15,542.76 L455.44,542.80 L455.73,542.85 L456.03,542.89 L456.32,542.94 L456.61,542.98 L456.91,543.03 L457.20,543.08 L457.49,543.12 L457.79,543.17 L458.08,543.22 L458.37,543.27 L458.66,543.32 L458.96,543.37 L459.25,543.42 L459.54,543.47 L459.84,543.53 L460.13,543.58 L460.42,543.63 L460.71,543.69 L461.01,543.74 L461.30,543.80 L461.59,543.86 L461.89,543.92 L462.18,543.98 L462.47,544.03 L462.77,544.10 L463.06,544.16 L463.35,544.22 L463.64,544.28 L463.94,544.34 L464.23,544.41 L464.52,544.48 L464.82,544.54 L465.11,544.61 L465.40,544.68 L465.70,544.75 L465.99,544.82 L466.28,544.89 L466.57,544.96 L466.87,545.04 L467.16,545.11 L467.45,545.19 L467.75,545.27 L468.04,545.35 L468.33,545.43 L468.62,545.52 L468.92,545.60 L469.21,545.69 L469.50,545.78 L469.80,545.87 L470.09,545.96 L470.38,546.05 L470.68,546.15 L470.97,546.25 L471.26,546.34 L471.55,546.44 L471.85,546.54 L472.14,546.64 L472.43,546.75 L472.73,546.85 L473.02,546.96 L473.31,547.07 L473.60,547.18 L473.90,547.29 L474.19,547.40 L474.48,547.51 L474.78,547.63 L475.07,547.75 L475.36,547.86 L475.66,547.98 L475.95,548.10 L476.24,548.23 L476.53,548.35 L476.83,548.48 L477.12,548.61 L477.41,548.75 L477.71,548.89 L478.00,549.03 L478.29,549.18 L478.58,549.33 L478.88,549.48 L479.17,549.64 L479.46,549.79 L479.76,549.96 L480.05,550.12 L480.34,550.29 L480.64,550.46 L480.93,550.63 L481.22,550.80 L481.51,550.97 L481.81,551.15 L482.10,551.33 L482.39,551.51 L482.69,551.69 L482.98,551.88 L483.27,552.06 L483.56,552.25 L483.86,552.44 L484.15,552.63 L484.44,552.82 L484.74,553.01 L485.03,553.20 L485.32,553.39 L485.62,553.59 L485.91,553.78 L486.20,553.97 L486.49,554.17 L486.79,554.36 L487.08,554.56 L487.37,554.76 L487.67,554.96 L487.96,555.16 L488.25,555.36 L488.55,555.56 L488.84,555.77 L489.13,555.98 L489.42,556.20 L489.72,556.41 L490.01,556.63 L490.30,556.85 L490.60,557.08 L490.89,557.30 L491.18,557.54 L491.47,557.77 L491.77,558.01 L492.06,558.26 L492.35,558.51 L492.65,558.76 L492.94,559.02 L493.23,559.28 L493.53,559.55 L493.82,559.83 L494.11,560.12 L494.40,560.41 L494.70,560.72 L494.99,561.03 L495.28,561.35 L495.58,561.68 L495.87,562.01 L496.16,562.35 L496.45,562.70 L496.75,563.05 L497.04,563.40 L497.33,563.76 L497.63,564.12" fill="none" stroke="#1808c8" stroke-width="2.2" stroke-dasharray="6.3,4.7" stroke-linejoin="round" />
<path d="M439.33,541.58 L439.63,541.61 L439.93,541.63 L440.24,541.65 L440.54,541.68 L440.84,541.70 L441.15,541.73 L441.45,541.76 L441.75,541.78 L442.05,541.81 L442.36,541.84 L442.66,541.87 L442.96,541.90 L443.26,541.93 L443.57,541.96 L443.87,541.99 L444.17,542.02 L444.47,542.05 L444.78,542.09 L445.08,542.12 L445.38,542.15 L445.68,542.19 L445.99,542.22 L446.29,542.26 L446.59,542.29 L446.89,542.33 L447.20,542.36 L447.50,542.40 L447.80,542.44 L448.10,542.47 L448.41,542.51 L448.71,542.55 L449.01,542.59 L449.32,542.63 L449.62,542.66 L449.92,542.70 L450.22,542.74 L450.53,542.78 L450.83,542.82 L451.13,542.86 L451.43,542.91 L451.74,542.95 L452.04,542.99 L452.34,543.03 L452.64,543.07 L452.95,543.11 L453.25,543.16 L453.55,543.20 L453.85,543.24 L454.16,543.28 L454.46,543.33 L454.76,543.37 L455.06,543.42 L455.37,543.46 L455.67,543.51 L455.97,543.55 L456.27,543.60 L456.58,543.65 L456.88,543.70 L457.18,543.75 L457.49,543.79 L457.79,543.84 L458.09,543.89 L458.39,543.95 L458.70,544.00 L459.00,544.05 L459.30,544.10 L459.60,544.16 L459.91,544.21 L460.21,544.27 L460.51,544.32 L460.81,544.38 L461.12,544.44 L461.42,544.50 L461.72,544.56 L462.02,544.62 L462.33,544.68 L462.63,544.74 L462.93,544.80 L463.23,544.87 L463.54,544.93 L463.84,545.00 L464.14,545.06 L464.44,545.13 L464.75,545.20 L465.05,545.27 L465.35,545.34 L465.65,545.41 L465.96,545.48 L466.26,545.56 L466.56,545.63 L466.87,545.71 L467.17,545.79 L467.47,545.87 L467.77,545.95 L468.08,546.03 L468.38,546.12 L468.68,546.20 L468.98,546.29 L469.29,546.38 L469.59,546.47 L469.89,546.56 L470.19,546.66 L470.50,546.75 L470.80,546.85 L471.10,546.95 L471.40,547.05 L471.71,547.15 L472.01,547.26 L472.31,547.36 L472.61,547.47 L472.92,547.58 L473.22,547.69 L473.52,547.81 L473.82,547.92 L474.13,548.04 L474.43,548.15 L474.73,548.27 L475.04,548.40 L475.34,548.52 L475.64,548.65 L475.94,548.77 L476.25,548.90 L476.55,549.03 L476.85,549.17 L477.15,549.30 L477.46,549.44 L477.76,549.59 L478.06,549.73 L478.36,549.88 L478.67,550.04 L478.97,550.19 L479.27,550.35 L479.57,550.51 L479.88,550.68 L480.18,550.85 L480.48,551.02 L480.78,551.20 L481.09,551.38 L481.39,551.56 L481.69,551.75 L481.99,551.94 L482.30,552.13 L482.60,552.33 L482.90,552.53 L483.20,552.73 L483.51,552.94 L483.81,553.15 L484.11,553.37 L484.42,553.59 L484.72,553.81 L485.02,554.04 L485.32,554.27 L485.63,554.51 L485.93,554.75 L486.23,554.99 L486.53,555.24 L486.84,555.51 L487.14,555.79 L487.44,556.07 L487.74,556.37 L488.05,556.68 L488.35,557.01 L488.65,557.34 L488.95,557.67 L489.26,558.02 L489.56,558.38 L489.86,558.74 L490.16,559.11 L490.47,559.48 L490.77,559.86 L491.07,560.24 L491.37,560.63 L491.68,561.02 L491.98,561.42 L492.28,561.81 L492.59,562.21 L492.89,562.61 L493.19,563.00 L493.49,563.40 L493.80,563.80 L494.10,564.21 L494.40,564.63 L494.70,565.05 L495.01,565.48 L495.31,565.91 L495.61,566.35 L495.91,566.80 L496.22,567.25 L496.52,567.70 L496.82,568.16 L497.12,568.63 L497.43,569.10 L497.73,569.58 L498.03,570.06 L498.33,570.54 L498.64,571.03 L498.94,571.53 L499.24,572.03 L499.54,572.53" fill="none" stroke="#000000" stroke-width="2.2" stroke-dasharray="6.3,4.7" stroke-linejoin="round" />
<path d="M446.25,497.11 L446.74,497.12 L447.22,497.13 L447.71,497.14 L448.19,497.15 L448.68,497.16 L449.16,497.17 L449.65,497.18 L450.13,497.19 L450.62,497.20 L451.10,497.21 L451.58,497.22 L452.07,497.23 L452.55,497.24 L453.04,497.25 L453.52,497.26 L454.01,497.27 L454.49,497.28 L454.98,497.29 L455.46,497.30 L455.95,497.32 L456.43,497.33 L456.92,497.34 L457.40,497.35 L457.89,497.36 L458.37,497.38 L458.86,497.39 L459.34,497.41 L459.83,497.42 L460.31,497.43 L460.80,497.45 L461.28,497.46 L461.76,497.48 L462.25,497.49 L462.73,497.51 L463.22,497.53 L463.70,497.54 L464.19,497.56 L464.67,497.58 L465.16,497.59 L465.64,497.61 L466.13,497.63 L466.61,497.65 L467.10,497.67 L467.58,497.69 L468.07,497.71 L468.55,497.73 L469.04,497.75 L469.52,497.77 L470.01,497.79 L470.49,497.82 L470.98,497.84 L471.46,497.86 L471.95,497.89 L472.43,497.91 L472.91,497.94 L473.40,497.97 L473.88,497.99 L474.37,498.02 L474.85,498.05 L475.34,498.08 L475.82,498.11 L476.31,498.14 L476.79,498.17 L477.28,498.20 L477.76,498.24 L478.25,498.27 L478.73,498.30 L479.22,498.34 L479.70,498.38 L480.19,498.41 L480.67,498.45 L481.16,498.49 L481.64,498.53 L482.13,498.57 L482.61,498.62 L483.10,498.66 L483.58,498.71 L484.06,498.75 L484.55,498.80 L485.03,498.85 L485.52,498.90 L486.00,498.95 L486.49,499.00 L486.97,499.06 L487.46,499.11 L487.94,499.17 L488.43,499.23 L488.91,499.28 L489.40,499.35 L489.88,499.41 L490.37,499.47 L490.85,499.54 L491.34,499.60 L491.82,499.67 L492.31,499.74 L492.79,499.81 L493.28,499.89 L493.76,499.96 L494.25,500.04 L494.73,500.11 L495.21,500.19 L495.70,500.27 L496.18,500.36 L496.67,500.44 L497.15,500.53 L497.64,500.61 L498.12,500.70 L498.61,500.79 L499.09,500.88 L499.58,500.98 L500.06,501.07 L500.55,501.17 L501.03,501.27 L501.52,501.37 L502.00,501.47 L502.49,501.57 L502.97,501.67 L503.46,501.78 L503.94,501.89 L504.43,501.99 L504.91,502.10 L505.40,502.21 L505.88,502.33 L506.36,502.44 L506.85,502.55 L507.33,502.67 L507.82,502.79 L508.30,502.90 L508.79,503.02 L509.27,503.14 L509.76,503.26 L510.24,503.38 L510.73,503.51 L511.21,503.63 L511.70,503.76 L512.18,503.88 L512.67,504.01 L513.15,504.14 L513.64,504.26 L514.12,504.39 L514.61,504.52 L515.09,504.65 L515.58,504.79 L516.06,504.92 L516.55,505.05 L517.03,505.19 L517.51,505.32 L518.00,505.46 L518.48,505.59 L518.97,505.73 L519.45,505.86 L519.94,506.00 L520.42,506.14 L520.91,506.28 L521.39,506.42 L521.88,506.56 L522.36,506.70 L522.85,506.84 L523.33,506.98 L523.82,507.12 L524.30,507.26 L524.79,507.41 L525.27,507.55 L525.76,507.69 L526.24,507.84 L526.73,507.98 L527.21,508.13 L527.70,508.27 L528.18,508.42 L528.66,508.56 L529.15,508.71 L529.63,508.86 L530.12,509.00 L530.60,509.15 L531.09,509.30 L531.57,509.45 L532.06,509.59 L532.54,509.74 L533.03,509.89 L533.51,510.04 L534.00,510.19 L534.48,510.34 L534.97,510.49 L535.45,510.64 L535.94,510.79 L536.42,510.94 L536.91,511.09 L537.39,511.24 L537.88,511.39 L538.36,511.54 L538.84,511.70 L539.33,511.85 L539.81,512.00 L540.30,512.15 L540.78,512.31 L541.27,512.46 L541.75,512.61 L542.24,512.76 L542.72,512.92 L543.21,513.07 L543.69,513.23 L544.18,513.38 L544.66,513.53 L545.15,513.69 L545.63,513.84 L546.12,514.00 L546.60,514.15 L547.09,514.31 L547.57,514.46 L548.06,514.62 L548.54,514.77 L549.03,514.93 L549.51,515.08 L549.99,515.24 L550.48,515.40 L550.96,515.55 L551.45,515.71 L551.93,515.87 L552.42,516.02 L552.90,516.18 L553.39,516.34 L553.87,516.49 L554.36,516.65 L554.84,516.81 L555.33,516.96 L555.81,517.12 L556.30,517.28 L556.78,517.44 L557.27,517.59 L557.75,517.75 L558.24,517.91 L558.72,518.07 L559.21,518.23 L559.69,518.39 L560.18,518.54 L560.66,518.70 L561.14,518.86 L561.63,519.02 L562.11,519.18 L562.60,519.34 L563.08,519.50 L563.57,519.66 L564.05,519.82 L564.54,519.97 L565.02,520.13 L565.51,520.29 L565.99,520.45 L566.48,520.61 L566.96,520.77 L567.45,520.93 L567.93,521.09 L568.42,521.25 L568.90,521.41 L569.39,521.57 L569.87,521.73 L570.36,521.89 L570.84,522.06 L571.33,522.22 L571.81,522.38 L572.29,522.54 L572.78,522.70 L573.26,522.86 L573.75,523.02 L574.23,523.18 L574.72,523.34 L575.20,523.50 L575.69,523.67 L576.17,523.83 L576.66,523.99 L577.14,524.15 L577.63,524.31 L578.11,524.47 L578.60,524.64 L579.08,524.80 L579.57,524.96 L580.05,525.12 L580.54,525.28 L581.02,525.45 L581.51,525.61 L581.99,525.77 L582.48,525.93 L582.96,526.10 L583.44,526.26 L583.93,526.42 L584.41,526.58 L584.90,526.75 L585.38,526.91 L585.87,527.07 L586.35,527.23 L586.84,527.40 L587.32,527.56 L587.81,527.72 L588.29,527.89 L588.78,528.05 L589.26,528.21 L589.75,528.38 L590.23,528.54 L590.72,528.70 L591.20,528.87" fill="none" stroke="#d40c16" stroke-width="2.2" stroke-linejoin="round" />
<path d="M446.25,497.38 L446.74,497.39 L447.22,497.40 L447.71,497.41 L448.19,497.42 L448.68,497.43 L449.16,497.44 L449.65,497.45 L450.13,497.46 L450.62,497.46 L451.10,497.47 L451.58,497.48 L452.07,497.50 L452.55,497.51 L453.04,497.52 L453.52,497.53 L454.01,497.54 L454.49,497.55 L454.98,497.56 L455.46,497.57 L455.95,497.58 L456.43,497.60 L456.92,497.61 L457.40,497.62 L457.89,497.63 L458.37,497.65 L458.86,497.66 L459.34,497.67 L459.83,497.69 L460.31,497.70 L460.80,497.72 L461.28,497.73 L461.76,497.75 L462.25,497.76 L462.73,497.78 L463.22,497.79 L463.70,497.81 L464.19,497.83 L464.67,497.85 L465.16,497.86 L465.64,497.88 L466.13,497.90 L466.61,497.92 L467.10,497.94 L467.58,497.96 L468.07,497.98 L468.55,498.00 L469.04,498.02 L469.52,498.04 L470.01,498.06 L470.49,498.09 L470.98,498.11 L471.46,498.13 L471.95,498.16 L472.43,498.18 L472.91,498.21 L473.40,498.23 L473.88,498.26 L474.37,498.29 L474.85,498.32 L475.34,498.35 L475.82,498.38 L476.31,498.41 L476.79,498.44 L477.28,498.47 L477.76,498.50 L478.25,498.54 L478.73,498.57 L479.22,498.61 L479.70,498.65 L480.19,498.68 L480.67,498.72 L481.16,498.76 L481.64,498.80 L482.13,498.84 L482.61,498.89 L483.10,498.93 L483.58,498.98 L484.06,499.02 L484.55,499.07 L485.03,499.12 L485.52,499.17 L486.00,499.22 L486.49,499.27 L486.97,499.32 L487.46,499.38 L487.94,499.44 L488.43,499.49 L488.91,499.55 L489.40,499.61 L489.88,499.68 L490.37,499.74 L490.85,499.81 L491.34,499.87 L491.82,499.94 L492.31,500.01 L492.79,500.08 L493.28,500.15 L493.76,500.23 L494.25,500.31 L494.73,500.38 L495.21,500.46 L495.70,500.54 L496.18,500.63 L496.67,500.71 L497.15,500.80 L497.64,500.88 L498.12,500.97 L498.61,501.06 L499.09,501.15 L499.58,501.25 L500.06,501.34 L500.55,501.44 L501.03,501.54 L501.52,501.64 L502.00,501.74 L502.49,501.84 L502.97,501.94 L503.46,502.05 L503.94,502.16 L504.43,502.26 L504.91,502.37 L505.40,502.48 L505.88,502.59 L506.36,502.71 L506.85,502.82 L507.33,502.94 L507.82,503.05 L508.30,503.17 L508.79,503.29 L509.27,503.41 L509.76,503.53 L510.24,503.65 L510.73,503.78 L511.21,503.90 L511.70,504.03 L512.18,504.15 L512.67,504.28 L513.15,504.41 L513.64,504.53 L514.12,504.66 L514.61,504.79 L515.09,504.92 L515.58,505.06 L516.06,505.19 L516.55,505.32 L517.03,505.45 L517.51,505.59 L518.00,505.72 L518.48,505.86 L518.97,506.00 L519.45,506.13 L519.94,506.27 L520.42,506.41 L520.91,506.55 L521.39,506.69 L521.88,506.83 L522.36,506.97 L522.85,507.11 L523.33,507.25 L523.82,507.39 L524.30,507.53 L524.79,507.68 L525.27,507.82 L525.76,507.96 L526.24,508.11 L526.73,508.25 L527.21,508.40 L527.70,508.54 L528.18,508.69 L528.66,508.83 L529.15,508.98 L529.63,509.12 L530.12,509.27 L530.60,509.42 L531.09,509.57 L531.57,509.71 L532.06,509.86 L532.54,510.01 L533.03,510.16 L533.51,510.31 L534.00,510.46 L534.48,510.61 L534.97,510.76 L535.45,510.91 L535.94,511.06 L536.42,511.21 L536.91,511.36 L537.39,511.51 L537.88,511.66 L538.36,511.81 L538.84,511.97 L539.33,512.12 L539.81,512.27 L540.30,512.42 L540.78,512.57 L541.27,512.73 L541.75,512.88 L542.24,513.03 L542.72,513.19 L543.21,513.34 L543.69,513.49 L544.18,513.65 L544.66,513.80 L545.15,513.96 L545.63,514.11 L546.12,514.27 L546.60,514.42 L547.09,514.58 L547.57,514.73 L548.06,514.89 L548.54,515.04 L549.03,515.20 L549.51,515.35 L549.99,515.51 L550.48,515.67 L550.96,515.82 L551.45,515.98 L551.93,516.13 L552.42,516.29 L552.90,516.45 L553.39,516.60 L553.87,516.76 L554.36,516.92 L554.84,517.08 L555.33,517.23 L555.81,517.39 L556.30,517.55 L556.78,517.71 L557.27,517.86 L557.75,518.02 L558.24,518.18 L558.72,518.34 L559.21,518.50 L559.69,518.65 L560.18,518.81 L560.66,518.97 L561.14,519.13 L561.63,519.29 L562.11,519.45 L562.60,519.61 L563.08,519.77 L563.57,519.93 L564.05,520.08 L564.54,520.24 L565.02,520.40 L565.51,520.56 L565.99,520.72 L566.48,520.88 L566.96,521.04 L567.45,521.20 L567.93,521.36 L568.42,521.52 L568.90,521.68 L569.39,521.84 L569.87,522.00 L570.36,522.16 L570.84,522.32 L571.33,522.49 L571.81,522.65 L572.29,522.81 L572.78,522.97 L573.26,523.13 L573.75,523.29 L574.23,523.45 L574.72,523.61 L575.20,523.77 L575.69,523.93 L576.17,524.10 L576.66,524.26 L577.14,524.42 L577.63,524.58 L578.11,524.74 L578.60,524.90 L579.08,525.07 L579.57,525.23 L580.05,525.39 L580.54,525.55 L581.02,525.71 L581.51,525.88 L581.99,526.04 L582.48,526.20 L582.96,526.36 L583.44,526.53 L583.93,526.69 L584.41,526.85 L584.90,527.01 L585.38,527.18 L585.87,527.34 L586.35,527.50 L586.84,527.67 L587.32,527.83 L587.81,527.99 L588.29,528.16 L588.78,528.32 L589.26,528.48 L589.75,528.65 L590.23,528.81 L590.72,528.97 L591.20,529.14" fill="none" stroke="#d010d8" stroke-width="2.2" stroke-linejoin="round" stroke-opacity="0.72"/>
<path d="M442.25,500.30 L442.75,500.31 L443.25,500.32 L443.74,500.34 L444.24,500.35 L444.74,500.36 L445.24,500.37 L445.74,500.39 L446.23,500.40 L446.73,500.41 L447.23,500.43 L447.73,500.44 L448.23,500.46 L448.72,500.47 L449.22,500.49 L449.72,500.50 L450.22,500.52 L450.72,500.53 L451.22,500.55 L451.71,500.57 L452.21,500.58 L452.71,500.60 L453.21,500.62 L453.71,500.63 L454.20,500.65 L454.70,500.67 L455.20,500.69 L455.70,500.71 L456.20,500.73 L456.70,500.74 L457.19,500.76 L457.69,500.78 L458.19,500.81 L458.69,500.83 L459.19,500.85 L459.68,500.87 L460.18,500.89 L460.68,500.91 L461.18,500.94 L461.68,500.96 L462.18,500.98 L462.67,501.01 L463.17,501.03 L463.67,501.06 L464.17,501.08 L464.67,501.11 L465.16,501.14 L465.66,501.16 L466.16,501.19 L466.66,501.22 L467.16,501.25 L467.66,501.28 L468.15,501.31 L468.65,501.34 L469.15,501.37 L469.65,501.40 L470.15,501.43 L470.64,501.46 L471.14,501.50 L471.64,501.53 L472.14,501.57 L472.64,501.60 L473.14,501.64 L473.63,501.68 L474.13,501.71 L474.63,501.75 L475.13,501.79 L475.63,501.83 L476.12,501.87 L476.62,501.91 L477.12,501.96 L477.62,502.00 L478.12,502.04 L478.62,502.09 L479.11,502.13 L479.61,502.18 L480.11,502.23 L480.61,502.27 L481.11,502.32 L481.60,502.37 L482.10,502.42 L482.60,502.48 L483.10,502.53 L483.60,502.58 L484.09,502.64 L484.59,502.69 L485.09,502.75 L485.59,502.81 L486.09,502.86 L486.59,502.92 L487.08,502.98 L487.58,503.04 L488.08,503.11 L488.58,503.17 L489.08,503.23 L489.57,503.30 L490.07,503.37 L490.57,503.43 L491.07,503.50 L491.57,503.57 L492.07,503.64 L492.56,503.71 L493.06,503.79 L493.56,503.86 L494.06,503.94 L494.56,504.02 L495.05,504.09 L495.55,504.17 L496.05,504.25 L496.55,504.34 L497.05,504.42 L497.55,504.50 L498.04,504.59 L498.54,504.67 L499.04,504.76 L499.54,504.85 L500.04,504.94 L500.53,505.03 L501.03,505.12 L501.53,505.22 L502.03,505.31 L502.53,505.41 L503.03,505.50 L503.52,505.60 L504.02,505.70 L504.52,505.80 L505.02,505.90 L505.52,506.00 L506.01,506.10 L506.51,506.20 L507.01,506.31 L507.51,506.41 L508.01,506.52 L508.51,506.63 L509.00,506.73 L509.50,506.84 L510.00,506.95 L510.50,507.06 L511.00,507.17 L511.49,507.29 L511.99,507.40 L512.49,507.51 L512.99,507.63 L513.49,507.74 L513.99,507.86 L514.48,507.98 L514.98,508.09 L515.48,508.21 L515.98,508.33 L516.48,508.45 L516.97,508.57 L517.47,508.69 L517.97,508.81 L518.47,508.94 L518.97,509.06 L519.46,509.18 L519.96,509.31 L520.46,509.43 L520.96,509.56 L521.46,509.69 L521.96,509.81 L522.45,509.94 L522.95,510.07 L523.45,510.20 L523.95,510.33 L524.45,510.46 L524.94,510.59 L525.44,510.72 L525.94,510.85 L526.44,510.98 L526.94,511.12 L527.44,511.25 L527.93,511.39 L528.43,511.52 L528.93,511.65 L529.43,511.79 L529.93,511.93 L530.42,512.06 L530.92,512.20 L531.42,512.34 L531.92,512.48 L532.42,512.61 L532.92,512.75 L533.41,512.89 L533.91,513.03 L534.41,513.17 L534.91,513.31 L535.41,513.45 L535.90,513.60 L536.40,513.74 L536.90,513.88 L537.40,514.02 L537.90,514.17 L538.40,514.31 L538.89,514.45 L539.39,514.60 L539.89,514.74 L540.39,514.89 L540.89,515.04 L541.38,515.18 L541.88,515.33 L542.38,515.48 L542.88,515.62 L543.38,515.77 L543.88,515.92 L544.37,516.07 L544.87,516.22 L545.37,516.37 L545.87,516.52 L546.37,516.67 L546.86,516.82 L547.36,516.97 L547.86,517.12 L548.36,517.27 L548.86,517.42 L549.36,517.57 L549.85,517.73 L550.35,517.88 L550.85,518.03 L551.35,518.19 L551.85,518.34 L552.34,518.50 L552.84,518.65 L553.34,518.81 L553.84,518.96 L554.34,519.12 L554.83,519.27 L555.33,519.43 L555.83,519.59 L556.33,519.74 L556.83,519.90 L557.33,520.06 L557.82,520.22 L558.32,520.38 L558.82,520.53 L559.32,520.69 L559.82,520.85 L560.31,521.01 L560.81,521.17 L561.31,521.33 L561.81,521.49 L562.31,521.65 L562.81,521.82 L563.30,521.98 L563.80,522.14 L564.30,522.30 L564.80,522.46 L565.30,522.63 L565.79,522.79 L566.29,522.95 L566.79,523.12 L567.29,523.28 L567.79,523.44 L568.29,523.61 L568.78,523.77 L569.28,523.94 L569.78,524.11 L570.28,524.27 L570.78,524.44 L571.27,524.60 L571.77,524.77 L572.27,524.94 L572.77,525.10 L573.27,525.27 L573.77,525.44 L574.26,525.61 L574.76,525.78 L575.26,525.95 L575.76,526.11 L576.26,526.28 L576.75,526.45 L577.25,526.62 L577.75,526.79 L578.25,526.96 L578.75,527.13 L579.25,527.31 L579.74,527.48 L580.24,527.65 L580.74,527.82 L581.24,527.99 L581.74,528.17 L582.23,528.34 L582.73,528.51 L583.23,528.68 L583.73,528.86 L584.23,529.03 L584.73,529.21 L585.22,529.38 L585.72,529.55 L586.22,529.73 L586.72,529.90 L587.22,530.08 L587.71,530.26 L588.21,530.43 L588.71,530.61 L589.21,530.78 L589.71,530.96 L590.20,531.14 L590.70,531.32 L591.20,531.49" fill="none" stroke="#1808c8" stroke-width="2.2" stroke-linejoin="round" />
<path d="M435.74,510.30 L436.36,510.70 L436.98,511.00 L437.60,511.18 L438.21,511.24 L438.83,511.13 L439.45,510.84 L440.07,510.43 L440.69,509.93 L441.30,509.39 L441.92,508.83 L442.54,508.31 L443.16,507.86 L443.77,507.51 L444.39,507.20 L445.01,506.88 L445.63,506.57 L446.25,506.27 L446.86,505.99 L447.48,505.73 L448.10,505.49 L448.72,505.28 L449.33,505.11 L449.95,504.97 L450.57,504.87 L451.19,504.78 L451.81,504.69 L452.42,504.61 L453.04,504.53 L453.66,504.45 L454.28,504.37 L454.89,504.30 L455.51,504.23 L456.13,504.17 L456.75,504.11 L457.36,504.06 L457.98,504.01 L458.60,503.96 L459.22,503.92 L459.84,503.88 L460.45,503.85 L461.07,503.83 L461.69,503.80 L462.31,503.79 L462.92,503.78 L463.54,503.77 L464.16,503.78 L464.78,503.78 L465.40,503.78 L466.01,503.79 L466.63,503.80 L467.25,503.81 L467.87,503.82 L468.48,503.83 L469.10,503.84 L469.72,503.86 L470.34,503.88 L470.96,503.89 L471.57,503.91 L472.19,503.93 L472.81,503.95 L473.43,503.97 L474.04,503.99 L474.66,504.02 L475.28,504.04 L475.90,504.06 L476.51,504.09 L477.13,504.11 L477.75,504.14 L478.37,504.17 L478.99,504.20 L479.60,504.24 L480.22,504.28 L480.84,504.33 L481.46,504.38 L482.07,504.43 L482.69,504.48 L483.31,504.54 L483.93,504.60 L484.55,504.66 L485.16,504.72 L485.78,504.78 L486.40,504.84 L487.02,504.91 L487.63,504.98 L488.25,505.04 L488.87,505.11 L489.49,505.17 L490.11,505.24 L490.72,505.31 L491.34,505.38 L491.96,505.45 L492.58,505.53 L493.19,505.61 L493.81,505.69 L494.43,505.77 L495.05,505.85 L495.67,505.94 L496.28,506.03 L496.90,506.12 L497.52,506.21 L498.14,506.30 L498.75,506.39 L499.37,506.49 L499.99,506.59 L500.61,506.69 L501.22,506.79 L501.84,506.89 L502.46,506.99 L503.08,507.10 L503.70,507.21 L504.31,507.32 L504.93,507.44 L505.55,507.56 L506.17,507.68 L506.78,507.81 L507.40,507.93 L508.02,508.06 L508.64,508.19 L509.26,508.32 L509.87,508.46 L510.49,508.59 L511.11,508.73 L511.73,508.86 L512.34,509.00 L512.96,509.13 L513.58,509.26 L514.20,509.40 L514.82,509.53 L515.43,509.66 L516.05,509.80 L516.67,509.93 L517.29,510.06 L517.90,510.20 L518.52,510.33 L519.14,510.47 L519.76,510.60 L520.37,510.74 L520.99,510.88 L521.61,511.01 L522.23,511.15 L522.85,511.29 L523.46,511.43 L524.08,511.57 L524.70,511.71 L525.32,511.85 L525.93,511.99 L526.55,512.14 L527.17,512.28 L527.79,512.42 L528.41,512.57 L529.02,512.71 L529.64,512.86 L530.26,513.01 L530.88,513.15 L531.49,513.30 L532.11,513.45 L532.73,513.60 L533.35,513.75 L533.97,513.90 L534.58,514.05 L535.20,514.20 L535.82,514.36 L536.44,514.51 L537.05,514.67 L537.67,514.82 L538.29,514.98 L538.91,515.13 L539.53,515.29 L540.14,515.45 L540.76,515.61 L541.38,515.78 L542.00,515.94 L542.61,516.10 L543.23,516.27 L543.85,516.44 L544.47,516.61 L545.08,516.78 L545.70,516.95 L546.32,517.12 L546.94,517.30 L547.56,517.48 L548.17,517.66 L548.79,517.84 L549.41,518.02 L550.03,518.20 L550.64,518.39 L551.26,518.57 L551.88,518.76 L552.50,518.95 L553.12,519.14 L553.73,519.34 L554.35,519.53 L554.97,519.73 L555.59,519.92 L556.20,520.12 L556.82,520.32 L557.44,520.52 L558.06,520.73 L558.68,520.93" fill="none" stroke="#000000" stroke-width="2.2" stroke-linejoin="round" />
</g>
<text transform="matrix(1.0 0 0 1.14 163.40 490.30)" font-size="13" text-anchor="start" textLength="36" lengthAdjust="spacingAndGlyphs">X−ray</text>
<text transform="matrix(1.0 0 0 1.14 318.10 490.30)" font-size="13" text-anchor="start" textLength="35.5" lengthAdjust="spacingAndGlyphs">3.8μm</text>
<text transform="translate(10.90,597.10) rotate(-90) scale(1,1.05)" font-size="13.5" textLength="99" lengthAdjust="spacingAndGlyphs">νL<tspan font-size="10.5" dy="4.6">ν</tspan><tspan dy="-4.6"> [normalized]</tspan></text>
<text transform="translate(388.00,595.50) rotate(-90) scale(1,1.14)" font-size="13" textLength="95.6" lengthAdjust="spacingAndGlyphs">spectral index, α</text>
</svg>
</body></html>
